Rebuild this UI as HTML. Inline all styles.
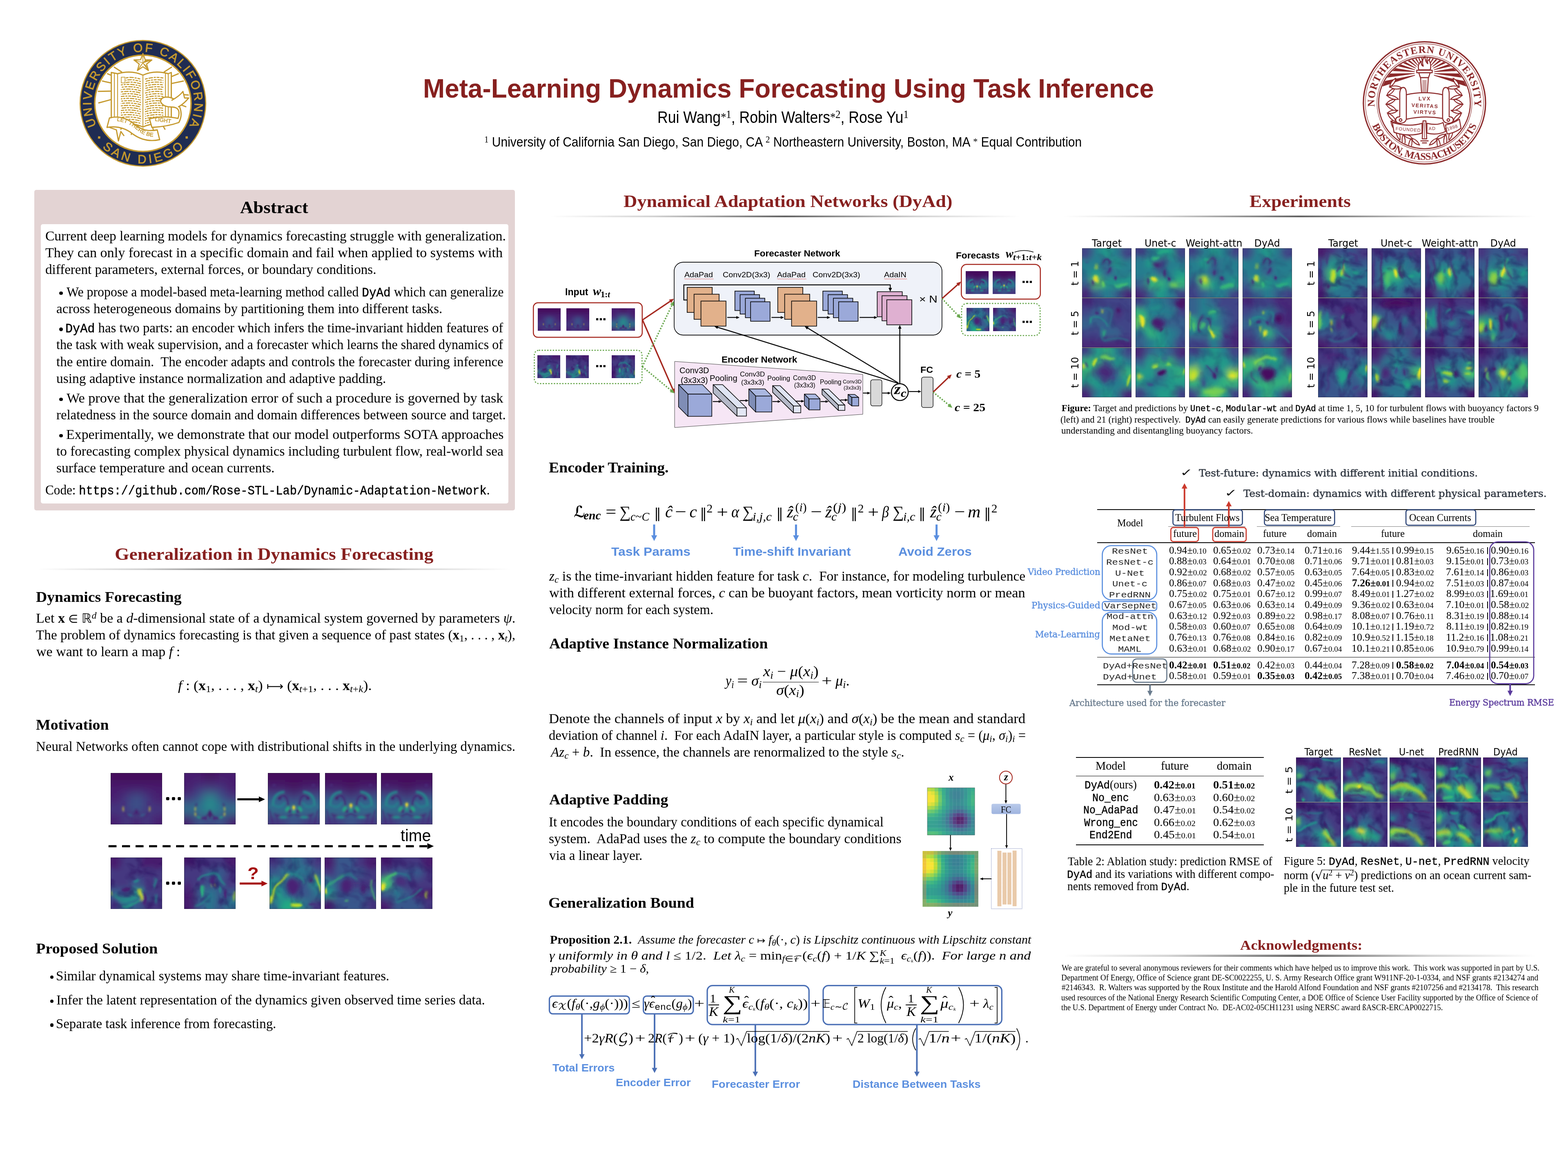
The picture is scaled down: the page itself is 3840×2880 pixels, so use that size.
<!DOCTYPE html>
<html lang="en"><head><meta charset="utf-8"><title>Meta-Learning Dynamics Forecasting Using Task Inference</title>
<style>
html,body{margin:0;padding:0;background:#fff;}
body{width:3840px;height:2880px;position:relative;overflow:hidden;font-family:"Liberation Serif",serif;color:#000;}
.a{position:absolute;}
.t{position:absolute;white-space:nowrap;line-height:1;font-kerning:normal;}
.t>u{display:inline-block;height:100px;width:0;text-decoration:none;}
.r{font-family:"Liberation Serif",serif;}
.b{font-family:"Liberation Serif",serif;font-weight:bold;}
.i{font-family:"Liberation Serif",serif;font-style:italic;}
.bi{font-family:"Liberation Serif",serif;font-style:italic;font-weight:bold;}
.s{font-family:"Liberation Sans",sans-serif;}
.sb{font-family:"Liberation Sans",sans-serif;font-weight:bold;}
.m{font-family:"Liberation Mono",monospace;}
.mb{font-family:"Liberation Mono",monospace;font-weight:bold;}
.d{font-family:"DejaVu Sans",sans-serif;}
.ds{font-family:"DejaVu Serif",serif;}
.dsb{font-family:"DejaVu Serif",serif;font-weight:bold;}
em{font-style:italic;}
.t b{font-weight:bold;}
span.r,sub.r,sup.r{font-style:normal;font-weight:normal;}
.t .cal{font-family:"DejaVu Math TeX Gyre","DejaVu Serif",serif;font-style:normal;}
.t .hat{position:relative;}
.t .hat>span{position:absolute;left:0.12em;top:-0.16em;font-style:normal;font-family:"Liberation Serif",serif;}
.t .lim{display:inline-block;position:relative;width:1.55em;height:0;}
.t .lim>span{position:absolute;left:0.05em;font-size:.7em;line-height:1;}
.t .lim>.lu{bottom:0.3em;}
.t .lim>.ll{top:-0.36em;}
.t tt{font-family:"Liberation Mono",monospace;font-size:0.92em;-webkit-text-stroke:0.5px #000;}
.t sub{font-size:0.7em;vertical-align:baseline;position:relative;top:0.22em;line-height:0;}
.t sup{font-size:0.7em;vertical-align:baseline;position:relative;top:-0.42em;line-height:0;}
.t .dv{font-family:"DejaVu Sans",sans-serif;}
.t .dse{font-family:"DejaVu Serif",serif;}
.t .ss{font-size:0.5em;position:relative;}
svg{position:absolute;overflow:visible;}
svg text{white-space:pre;}
.ms{font-size:0.8em;} .bb{font-size:0.92em;}.ast{position:relative;top:0.22em;font-size:1.05em;}.dsc{font-family:"DejaVu Serif Condensed","DejaVu Serif",serif;}.sm{font-size:0.76em;}.sm2{font-size:0.72em;} .t .tt2{font-family:"Liberation Mono",monospace;font-weight:normal;font-size:0.94em;-webkit-text-stroke:0.45px #000;}svg.im{overflow:hidden;}</style></head>
<body>
<svg style="left:0;top:0" width="1" height="1"><circle cx="350.0" cy="253.0" r="155.2" fill="#c5992d"/><circle cx="350.0" cy="253.0" r="152.4" fill="#1f2c52"/><circle cx="350.0" cy="253.0" r="119.8" fill="#c5992d"/><circle cx="350.0" cy="253.0" r="116.2" fill="#fff"/><path id="uc1" d="M236.09 307.33A126.2 126.2 0 1 1 463.91 307.33" fill="none"/><text font-family="Liberation Sans, sans-serif" font-size="29.6" fill="#c5992d" stroke="#c5992d" stroke-width="0.9"><textPath href="#uc1" textLength="508.8" lengthAdjust="spacing">UNIVERSITY OF CALIFORNIA</textPath></text><path id="uc2" d="M250.55 361.53A147.2 147.2 0 0 0 449.45 361.53" fill="none"/><text font-family="Liberation Sans, sans-serif" font-size="29.6" fill="#c5992d" stroke="#c5992d" stroke-width="0.9"><textPath href="#uc2" textLength="218.4" lengthAdjust="spacing">SAN DIEGO</textPath></text><rect x="240.0" y="333.9" width="5.6" height="5.6" fill="#c5992d" transform="rotate(-83 242.8 336.7)"/><rect x="454.4" y="333.9" width="5.6" height="5.6" fill="#c5992d" transform="rotate(173 457.2 336.7)"/><g fill="none" stroke="#c5992d" stroke-width="2.9" stroke-linejoin="round" stroke-linecap="round"><path d="M295.3 193.9L263.3 180.6"/><path d="M292.0 207.5L251.0 198.5"/><path d="M280.0 223.0L240.8 223.8"/><path d="M274.7 243.2L241.8 252.0"/><path d="M298.0 176.2L279.8 164.5"/><path d="M402.0 176.2L420.2 164.5"/><path d="M404.7 193.9L436.7 180.6"/><path d="M415.7 205.4L449.0 198.5"/><path d="M444.6 231.3L461.2 232.8"/><path d="M442.1 256.5L455.2 261.3"/><path d="M392.5 296.6L404.0 316.5"/><path d="M372.8 308.0L378.5 329.3"/><path d="M350.0 315.0L350.0 335.0"/><path d="M327.2 308.0L321.5 329.3"/><path d="M307.5 296.6L296.0 316.5"/><path d="M272.5 177.5L288 180.5Q322 171 350 184Q378 171 412 180.5L419.5 177.5V303L412 307Q378 298 350 311Q322 298 288 307L272.5 303Z" fill="#fff"/><path d="M350 184V309M288 180.5V305M280 179V304.5M412 180.5V305M405 179.5V303" stroke-width="2"/></g><g stroke="#c5992d" stroke-width="2.5" stroke-dasharray="7 2 11 2 5 2" fill="none"><path d="M308 191.0Q322 187.0 345 194.0" stroke-dashoffset="0"/><path d="M355 194.0Q378 187.0 400 191.0" stroke-dashoffset="0"/><path d="M308 196.7Q322 192.7 345 199.7" stroke-dashoffset="5"/><path d="M355 199.7Q378 192.7 400 196.7" stroke-dashoffset="7"/><path d="M308 202.4Q322 198.4 345 205.4" stroke-dashoffset="10"/><path d="M355 205.4Q378 198.4 400 202.4" stroke-dashoffset="14"/><path d="M296 208.1Q322 204.1 345 211.1" stroke-dashoffset="15"/><path d="M355 211.1Q378 204.1 400 208.1" stroke-dashoffset="21"/><path d="M296 213.8Q322 209.8 345 216.8" stroke-dashoffset="20"/><path d="M355 216.8Q378 209.8 400 213.8" stroke-dashoffset="28"/><path d="M296 219.5Q322 215.5 345 222.5" stroke-dashoffset="25"/><path d="M355 222.5Q378 215.5 400 219.5" stroke-dashoffset="35"/><path d="M296 225.2Q322 221.2 345 228.2" stroke-dashoffset="30"/><path d="M355 228.2Q378 221.2 400 225.2" stroke-dashoffset="42"/><path d="M296 230.9Q322 226.9 345 233.9" stroke-dashoffset="35"/><path d="M355 233.9Q378 226.9 400 230.9" stroke-dashoffset="49"/><path d="M296 236.6Q322 232.6 345 239.6" stroke-dashoffset="40"/><path d="M355 239.6Q378 232.6 400 236.6" stroke-dashoffset="56"/><path d="M296 242.3Q322 238.3 345 245.3" stroke-dashoffset="45"/><path d="M355 245.3Q378 238.3 400 242.3" stroke-dashoffset="63"/><path d="M296 248.0Q322 244.0 345 251.0" stroke-dashoffset="50"/><path d="M355 251.0Q378 244.0 400 248.0" stroke-dashoffset="70"/><path d="M296 253.7Q322 249.7 345 256.7" stroke-dashoffset="55"/><path d="M355 256.7Q378 249.7 400 253.7" stroke-dashoffset="77"/><path d="M296 259.4Q322 255.4 345 262.4" stroke-dashoffset="60"/><path d="M355 262.4Q378 255.4 400 259.4" stroke-dashoffset="84"/><path d="M296 265.1Q322 261.1 345 268.1" stroke-dashoffset="65"/><path d="M355 268.1Q378 261.1 400 265.1" stroke-dashoffset="91"/><path d="M296 270.8Q322 266.8 345 273.8" stroke-dashoffset="70"/><path d="M355 273.8Q378 266.8 400 270.8" stroke-dashoffset="98"/><path d="M296 276.5Q322 272.5 345 279.5" stroke-dashoffset="75"/><path d="M355 279.5Q378 272.5 400 276.5" stroke-dashoffset="105"/><path d="M296 282.2Q322 278.2 345 285.2" stroke-dashoffset="80"/><path d="M355 285.2Q378 278.2 400 282.2" stroke-dashoffset="112"/><path d="M296 287.9Q322 283.9 345 290.9" stroke-dashoffset="85"/><path d="M355 290.9Q378 283.9 400 287.9" stroke-dashoffset="119"/><path d="M296 293.6Q322 289.6 345 296.6" stroke-dashoffset="90"/><path d="M355 296.6Q378 289.6 400 293.6" stroke-dashoffset="126"/><path d="M296 299.3Q322 295.3 345 302.3" stroke-dashoffset="95"/><path d="M355 302.3Q378 295.3 400 299.3" stroke-dashoffset="133"/></g><rect x="297" y="189" width="9" height="14" fill="none" stroke="#c5992d" stroke-width="1.6"/><polygon points="350.0,131.0 355.6,146.3 371.9,146.9 359.0,156.9 363.5,172.6 350.0,163.5 336.5,172.6 341.0,156.9 328.1,146.9 344.4,146.3" fill="#fff" stroke="#c5992d" stroke-width="2.6" stroke-linejoin="round"/><path d="M350 154L350 134M350 154L369 148M350 154L362 171M350 154L338 171M350 154L331 148" stroke="#c5992d" stroke-width="1.8" fill="none"/><path d="M350 154L355 147L369 148ZM350 154L358 160L362 171Z M350 154L344 160 L338 171Z" fill="#c5992d"/><g fill="#fff" stroke="#c5992d" stroke-width="2.9" stroke-linejoin="round"><path d="M268 289Q300 280 330 305Q355 325 385 318L391 342Q355 350 325 328Q298 306 262 312Z"/><path d="M268 312L285 318L290 345L296 322L304 333"/><path d="M366 291Q400 282 436 290Q445 262 420 262Q398 262 393 248Q395 236 412 238Q432 240 440 262Q448 282 438 300Q410 310 372 312Z"/><path d="M420 246Q440 235 448 224L452 240L462 240Q450 255 436 262"/></g><path id="uc3" d="M286 296Q318 300 340 322Q362 338 386 334" fill="none"/><text font-family="Liberation Sans, sans-serif" font-size="13.5" fill="#c5992d" stroke="#c5992d" stroke-width="0.5" letter-spacing="0.3"><textPath href="#uc3">LET THERE BE</textPath></text><text font-family="Liberation Sans, sans-serif" font-size="13.5" fill="#c5992d" stroke="#c5992d" stroke-width="0.5" transform="translate(379 296) rotate(8)">LIGHT</text></svg>
<svg style="left:0;top:0" width="1" height="1"><g fill="none" stroke="#8c2a2b"><circle cx="3488.5" cy="251.9" r="149.6" stroke-width="3.2"/><circle cx="3488.5" cy="251.9" r="144.8" stroke-width="1.1"/><circle cx="3488.5" cy="251.9" r="116.4" stroke-width="1.1"/><circle cx="3488.5" cy="251.9" r="112.3" stroke-width="2.6" fill="#fff"/></g><path id="ne1" d="M3366.48 261.50A122.4 122.4 0 1 1 3610.52 261.50" fill="none"/><text font-family="Liberation Serif, serif" font-weight="bold" font-size="25" fill="#8c2a2b"><textPath href="#ne1" textLength="403.8" lengthAdjust="spacing">NORTHEASTERN UNIVERSITY</textPath></text><path id="ne2" d="M3360.48 307.57A139.6 139.6 0 0 0 3616.52 307.57" fill="none"/><text font-family="Liberation Serif, serif" font-weight="bold" font-size="25" fill="#8c2a2b"><textPath href="#ne2" textLength="324.1" lengthAdjust="spacing">BOSTON, MASSACHUSETTS</textPath></text><clipPath id="nec"><circle cx="3488.5" cy="251.9" r="110.6"/></clipPath><g clip-path="url(#nec)"><path d="M3465.5 184.9L3360.3 220.4L3356.3 205.4L3465.2 183.6Z" fill="#8c2a2b"/><path d="M3464.6 180.6L3354.7 196.3L3353.5 180.8L3464.5 179.2Z" fill="#8c2a2b"/><path d="M3464.6 176.2L3353.6 171.6L3355.3 156.2L3464.7 174.8Z" fill="#8c2a2b"/><path d="M3465.3 171.8L3357.1 147.2L3361.5 132.3L3465.7 170.5Z" fill="#8c2a2b"/><path d="M3466.8 167.7L3364.9 123.7L3371.9 109.9L3467.4 166.5Z" fill="#8c2a2b"/><path d="M3469.1 163.9L3376.8 102.1L3386.3 89.8L3469.9 162.9Z" fill="#8c2a2b"/><path d="M3471.9 160.6L3392.5 83.0L3404.1 72.6L3472.9 159.7Z" fill="#8c2a2b"/><path d="M3475.4 157.9L3411.5 67.1L3424.7 59.0L3476.5 157.2Z" fill="#8c2a2b"/><path d="M3479.3 155.8L3432.9 55.0L3447.5 49.4L3480.5 155.4Z" fill="#8c2a2b"/><path d="M3483.5 154.5L3456.3 46.9L3471.6 44.1L3484.8 154.3Z" fill="#8c2a2b"/><path d="M3492.2 154.3L3505.4 44.1L3520.7 46.9L3493.5 154.5Z" fill="#8c2a2b"/><path d="M3496.5 155.4L3529.5 49.4L3544.1 55.0L3497.7 155.8Z" fill="#8c2a2b"/><path d="M3500.5 157.2L3552.3 59.0L3565.5 67.1L3501.6 157.9Z" fill="#8c2a2b"/><path d="M3504.1 159.7L3572.9 72.6L3584.5 83.0L3505.1 160.6Z" fill="#8c2a2b"/><path d="M3507.1 162.9L3590.7 89.8L3600.2 102.1L3507.9 163.9Z" fill="#8c2a2b"/><path d="M3509.6 166.5L3605.1 109.9L3612.1 123.7L3510.2 167.7Z" fill="#8c2a2b"/><path d="M3511.3 170.5L3615.5 132.3L3619.9 147.2L3511.7 171.8Z" fill="#8c2a2b"/><path d="M3512.3 174.8L3621.7 156.2L3623.4 171.6L3512.4 176.2Z" fill="#8c2a2b"/><path d="M3512.5 179.2L3623.5 180.8L3622.3 196.3L3512.4 180.6Z" fill="#8c2a2b"/><path d="M3511.8 183.6L3620.7 205.4L3616.7 220.4L3511.5 184.9Z" fill="#8c2a2b"/><path d="M0 0Q15.0 -7.5 30 0Q15.0 7.5 0 0Z" transform="translate(3456.4 338.5) rotate(100.0)" fill="#fff" stroke="#8c2a2b" stroke-width="2.2"/><path d="M0 0Q13.0 -7 26 0Q13.0 7 0 0Z" transform="translate(3456.4 338.5) rotate(40.0)" fill="#fff" stroke="#8c2a2b" stroke-width="2.2"/><path d="M0 0Q15.0 -7.5 30 0Q15.0 7.5 0 0Z" transform="translate(3436.5 328.7) rotate(86.42857142857142)" fill="#fff" stroke="#8c2a2b" stroke-width="2.2"/><path d="M0 0Q13.0 -7 26 0Q13.0 7 0 0Z" transform="translate(3436.5 328.7) rotate(26.428571428571416)" fill="#fff" stroke="#8c2a2b" stroke-width="2.2"/><path d="M0 0Q15.0 -7.5 30 0Q15.0 7.5 0 0Z" transform="translate(3419.6 314.6) rotate(72.85714285714286)" fill="#fff" stroke="#8c2a2b" stroke-width="2.2"/><path d="M0 0Q13.0 -7 26 0Q13.0 7 0 0Z" transform="translate(3419.6 314.6) rotate(12.857142857142861)" fill="#fff" stroke="#8c2a2b" stroke-width="2.2"/><path d="M0 0Q15.0 -7.5 30 0Q15.0 7.5 0 0Z" transform="translate(3406.5 297.0) rotate(59.28571428571428)" fill="#fff" stroke="#8c2a2b" stroke-width="2.2"/><path d="M0 0Q13.0 -7 26 0Q13.0 7 0 0Z" transform="translate(3406.5 297.0) rotate(-0.7142857142857224)" fill="#fff" stroke="#8c2a2b" stroke-width="2.2"/><path d="M0 0Q15.0 -7.5 30 0Q15.0 7.5 0 0Z" transform="translate(3398.0 276.8) rotate(45.71428571428572)" fill="#fff" stroke="#8c2a2b" stroke-width="2.2"/><path d="M0 0Q13.0 -7 26 0Q13.0 7 0 0Z" transform="translate(3398.0 276.8) rotate(-14.285714285714278)" fill="#fff" stroke="#8c2a2b" stroke-width="2.2"/><path d="M0 0Q15.0 -7.5 30 0Q15.0 7.5 0 0Z" transform="translate(3394.6 255.3) rotate(32.14285714285714)" fill="#fff" stroke="#8c2a2b" stroke-width="2.2"/><path d="M0 0Q13.0 -7 26 0Q13.0 7 0 0Z" transform="translate(3394.6 255.3) rotate(-27.85714285714286)" fill="#fff" stroke="#8c2a2b" stroke-width="2.2"/><path d="M0 0Q15.0 -7.5 30 0Q15.0 7.5 0 0Z" transform="translate(3396.4 233.6) rotate(18.571428571428555)" fill="#fff" stroke="#8c2a2b" stroke-width="2.2"/><path d="M0 0Q13.0 -7 26 0Q13.0 7 0 0Z" transform="translate(3396.4 233.6) rotate(-41.428571428571445)" fill="#fff" stroke="#8c2a2b" stroke-width="2.2"/><path d="M0 0Q15.0 -7.5 30 0Q15.0 7.5 0 0Z" transform="translate(3403.3 213.0) rotate(5.0)" fill="#fff" stroke="#8c2a2b" stroke-width="2.2"/><path d="M0 0Q13.0 -7 26 0Q13.0 7 0 0Z" transform="translate(3403.3 213.0) rotate(-55.0)" fill="#fff" stroke="#8c2a2b" stroke-width="2.2"/><path d="M0 0Q15.0 -7.5 30 0Q15.0 7.5 0 0Z" transform="translate(3520.6 338.5) rotate(80.0)" fill="#fff" stroke="#8c2a2b" stroke-width="2.2"/><path d="M0 0Q13.0 -7 26 0Q13.0 7 0 0Z" transform="translate(3520.6 338.5) rotate(140.0)" fill="#fff" stroke="#8c2a2b" stroke-width="2.2"/><path d="M0 0Q15.0 -7.5 30 0Q15.0 7.5 0 0Z" transform="translate(3540.5 328.7) rotate(93.57142857142856)" fill="#fff" stroke="#8c2a2b" stroke-width="2.2"/><path d="M0 0Q13.0 -7 26 0Q13.0 7 0 0Z" transform="translate(3540.5 328.7) rotate(153.57142857142856)" fill="#fff" stroke="#8c2a2b" stroke-width="2.2"/><path d="M0 0Q15.0 -7.5 30 0Q15.0 7.5 0 0Z" transform="translate(3557.4 314.6) rotate(107.14285714285711)" fill="#fff" stroke="#8c2a2b" stroke-width="2.2"/><path d="M0 0Q13.0 -7 26 0Q13.0 7 0 0Z" transform="translate(3557.4 314.6) rotate(167.1428571428571)" fill="#fff" stroke="#8c2a2b" stroke-width="2.2"/><path d="M0 0Q15.0 -7.5 30 0Q15.0 7.5 0 0Z" transform="translate(3570.5 297.0) rotate(120.71428571428572)" fill="#fff" stroke="#8c2a2b" stroke-width="2.2"/><path d="M0 0Q13.0 -7 26 0Q13.0 7 0 0Z" transform="translate(3570.5 297.0) rotate(180.71428571428572)" fill="#fff" stroke="#8c2a2b" stroke-width="2.2"/><path d="M0 0Q15.0 -7.5 30 0Q15.0 7.5 0 0Z" transform="translate(3579.0 276.8) rotate(134.28571428571428)" fill="#fff" stroke="#8c2a2b" stroke-width="2.2"/><path d="M0 0Q13.0 -7 26 0Q13.0 7 0 0Z" transform="translate(3579.0 276.8) rotate(194.28571428571428)" fill="#fff" stroke="#8c2a2b" stroke-width="2.2"/><path d="M0 0Q15.0 -7.5 30 0Q15.0 7.5 0 0Z" transform="translate(3582.4 255.3) rotate(147.8571428571429)" fill="#fff" stroke="#8c2a2b" stroke-width="2.2"/><path d="M0 0Q13.0 -7 26 0Q13.0 7 0 0Z" transform="translate(3582.4 255.3) rotate(207.8571428571429)" fill="#fff" stroke="#8c2a2b" stroke-width="2.2"/><path d="M0 0Q15.0 -7.5 30 0Q15.0 7.5 0 0Z" transform="translate(3580.6 233.6) rotate(161.42857142857144)" fill="#fff" stroke="#8c2a2b" stroke-width="2.2"/><path d="M0 0Q13.0 -7 26 0Q13.0 7 0 0Z" transform="translate(3580.6 233.6) rotate(221.42857142857144)" fill="#fff" stroke="#8c2a2b" stroke-width="2.2"/><path d="M0 0Q15.0 -7.5 30 0Q15.0 7.5 0 0Z" transform="translate(3573.7 213.0) rotate(175.0)" fill="#fff" stroke="#8c2a2b" stroke-width="2.2"/><path d="M0 0Q13.0 -7 26 0Q13.0 7 0 0Z" transform="translate(3573.7 213.0) rotate(235.0)" fill="#fff" stroke="#8c2a2b" stroke-width="2.2"/></g><g fill="#fff" stroke="#8c2a2b" stroke-width="2.4" stroke-linejoin="round"><path d="M3481.5 228L3479.0 190H3498.0L3495.5 228Z"/><path d="M3485.0 296L3483.0 340H3494.0L3492.0 296Z"/><path d="M3474.5 178H3502.5L3498.5 190H3478.5Z"/><path d="M3469.5 172H3507.5V178H3469.5Z"/><path d="M3474.5 171Q3470.5 158 3480.5 150Q3479.5 160 3485.5 162Q3480.5 148 3489.5 138Q3490.5 152 3496.5 156Q3494.5 148 3499.5 146Q3506.5 160 3502.5 171Z"/><path d="M3478.5 345H3498.5M3482.5 350H3494.5" /></g><path d="M3485.0 196V226M3488.5 196V226M3492.0 196V226M3488.5 300V338" stroke="#8c2a2b" stroke-width="1.4" fill="none"/><g fill="#fff" stroke="#8c2a2b" stroke-width="2.4" stroke-linejoin="round"><path d="M3410 300Q3450 312 3482.5 302V326Q3450 336 3414 324Z"/><path d="M3494.5 302Q3520 308 3534 300L3540 322Q3520 332 3494.5 326Z"/><path d="M3540 306Q3560 302 3574 292L3578 314Q3562 326 3544 328Z"/><path d="M3444 232Q3488 222 3533 232V290Q3488 282 3444 292Z"/><path d="M3444 292V226Q3443 214 3436 214Q3429 215 3428 228V286Q3418 286 3418 294Q3419 302 3430 302Q3442 301 3444 292Z"/><path d="M3533 290V226Q3534 214 3541 214Q3548 215 3549 228V286Q3559 286 3559 294Q3558 302 3547 302Q3535 301 3533 290Z"/><circle cx="3430" cy="294" r="3.2"/><circle cx="3547" cy="294" r="3.2"/></g><text x="3489.5" y="245.8" font-family="Liberation Sans, sans-serif" font-weight="bold" font-size="12.6" letter-spacing="2.4" text-anchor="middle" fill="#8c2a2b">LVX</text><text x="3489.5" y="263.4" font-family="Liberation Sans, sans-serif" font-weight="bold" font-size="12.6" letter-spacing="1.8" text-anchor="middle" fill="#8c2a2b" transform="rotate(3 3489.5 263.4)">VERITAS</text><text x="3489.5" y="279.2" font-family="Liberation Sans, sans-serif" font-weight="bold" font-size="12.6" letter-spacing="1.8" text-anchor="middle" fill="#8c2a2b" transform="rotate(2 3489.5 279.2)">VIRTVS</text><text x="3448.5" y="321" font-family="Liberation Sans, sans-serif" font-weight="normal" font-size="11.2" letter-spacing="1.0" text-anchor="middle" fill="#8c2a2b" transform="rotate(4 3448.5 321)">FOUNDED</text><text x="3507.5" y="318.5" font-family="Liberation Sans, sans-serif" font-weight="normal" font-size="11.2" letter-spacing="1.0" text-anchor="middle" fill="#8c2a2b" transform="rotate(-2 3507.5 318.5)">AD</text><text x="3558" y="316" font-family="Liberation Sans, sans-serif" font-weight="normal" font-size="11.2" letter-spacing="0.6" text-anchor="middle" fill="#8c2a2b" transform="rotate(-18 3558 316)">1898</text></svg>
<div class="a" style="left:83.8px;top:465.4px;width:1177.4px;height:785px;background:#e3d3d3;border-radius:5px;"></div>
<div class="a" style="left:99.5px;top:549px;width:1145px;height:683.5px;background:#fff;border-radius:5px;"></div>
<div class="a" style="left:145.20000000000002px;top:713.9999999999999px;width:8.4px;height:8.4px;border-radius:50%;background:#000;"></div>
<div class="a" style="left:145.20000000000002px;top:802.4px;width:8.4px;height:8.4px;border-radius:50%;background:#000;"></div>
<div class="a" style="left:145.20000000000002px;top:974.0999999999999px;width:8.4px;height:8.4px;border-radius:50%;background:#000;"></div>
<div class="a" style="left:145.20000000000002px;top:1062.9px;width:8.4px;height:8.4px;border-radius:50%;background:#000;"></div>
<div class="a" style="left:93px;top:1391.1px;width:1157px;height:5.4px;background:linear-gradient(90deg,#fff 0%,rgba(255,255,255,.72) 22%,rgba(255,255,255,0) 50%,rgba(255,255,255,.72) 78%,#fff 100%),linear-gradient(180deg,#d8d8d8 0%,#8a8a8a 35%,#3c3c3c 75%,#777 100%);"></div>
<div class="a" style="left:122.8px;top:2388.8px;width:8.4px;height:8.4px;border-radius:50%;background:#000;"></div>
<div class="a" style="left:122.8px;top:2447.9px;width:8.4px;height:8.4px;border-radius:50%;background:#000;"></div>
<div class="a" style="left:122.8px;top:2506.4px;width:8.4px;height:8.4px;border-radius:50%;background:#000;"></div>
<div class="a" style="left:1349px;top:527.0999999999999px;width:1148px;height:5.4px;background:linear-gradient(90deg,#fff 0%,rgba(255,255,255,.72) 22%,rgba(255,255,255,0) 50%,rgba(255,255,255,.72) 78%,#fff 100%),linear-gradient(180deg,#d8d8d8 0%,#8a8a8a 35%,#3c3c3c 75%,#777 100%);"></div>
<svg style="left:0;top:0" width="1" height="1"><path d="M1602 1284.5 V1312" stroke="#5b8fdf" stroke-width="5" fill="none"/><path d="M1594.75 1311 H1609.25 L1602 1325 Z" fill="#5b8fdf"/></svg>
<svg style="left:0;top:0" width="1" height="1"><path d="M1949.4 1284.5 V1312" stroke="#5b8fdf" stroke-width="5" fill="none"/><path d="M1942.15 1311 H1956.65 L1949.4 1325 Z" fill="#5b8fdf"/></svg>
<svg style="left:0;top:0" width="1" height="1"><path d="M2293.6 1284.5 V1312" stroke="#5b8fdf" stroke-width="5" fill="none"/><path d="M2286.35 1311 H2300.85 L2293.6 1325 Z" fill="#5b8fdf"/></svg>
<div class="a" style="left:1868px;top:1669.5px;width:136.6px;height:1.6px;background:#000;"></div>
<div class="a" style="left:2605px;top:527.0999999999999px;width:1155px;height:5.4px;background:linear-gradient(90deg,#fff 0%,rgba(255,255,255,.72) 22%,rgba(255,255,255,0) 50%,rgba(255,255,255,.72) 78%,#fff 100%),linear-gradient(180deg,#d8d8d8 0%,#8a8a8a 35%,#3c3c3c 75%,#777 100%);"></div>
<div class="a d" style="left:2532.5px;top:648.9px;width:200px;height:40px;line-height:40px;text-align:center;font-size:24.2px;transform:rotate(-90deg) scaleY(1);white-space:nowrap;">t = 1</div>
<div class="a d" style="left:2532.5px;top:770.5px;width:200px;height:40px;line-height:40px;text-align:center;font-size:24.2px;transform:rotate(-90deg) scaleY(1);white-space:nowrap;">t = 5</div>
<div class="a d" style="left:2532.5px;top:892.3px;width:200px;height:40px;line-height:40px;text-align:center;font-size:24.2px;transform:rotate(-90deg) scaleY(1);white-space:nowrap;">t = 10</div>
<div class="a d" style="left:3111px;top:648.9px;width:200px;height:40px;line-height:40px;text-align:center;font-size:24.2px;transform:rotate(-90deg) scaleY(1);white-space:nowrap;">t = 1</div>
<div class="a d" style="left:3111px;top:770.5px;width:200px;height:40px;line-height:40px;text-align:center;font-size:24.2px;transform:rotate(-90deg) scaleY(1);white-space:nowrap;">t = 5</div>
<div class="a d" style="left:3111px;top:892.3px;width:200px;height:40px;line-height:40px;text-align:center;font-size:24.2px;transform:rotate(-90deg) scaleY(1);white-space:nowrap;">t = 10</div>
<div class="a" style="left:2686.6px;top:1247.4px;width:1072.6px;height:2px;background:#000;"></div>
<div class="a" style="left:2686.6px;top:1328.4499999999998px;width:1072.6px;height:1.3px;background:#000;"></div>
<div class="a" style="left:2686.6px;top:1608.7px;width:1072.6px;height:1.2px;background:#000;"></div>
<div class="a" style="left:2686.6px;top:1676.0px;width:1072.6px;height:2px;background:#000;"></div>
<div class="a" style="left:2861px;top:1288.5px;width:188.80000000000018px;height:1px;background:#777;"></div>
<div class="a" style="left:3077.6px;top:1288.5px;width:204.4000000000001px;height:1px;background:#777;"></div>
<div class="a" style="left:3308.9px;top:1288.5px;width:437.0999999999999px;height:1px;background:#777;"></div>
<svg style="left:0;top:0" width="1" height="1"><rect x="2872.55" y="1248.55" width="170.10" height="37.80" rx="6" ry="6" fill="none" stroke="#31497a" stroke-width="2.7"/></svg>
<svg style="left:0;top:0" width="1" height="1"><rect x="3096.55" y="1248.55" width="171.80" height="37.80" rx="6" ry="6" fill="none" stroke="#31497a" stroke-width="2.7"/></svg>
<svg style="left:0;top:0" width="1" height="1"><rect x="3443.15" y="1248.55" width="170.90" height="37.80" rx="6" ry="6" fill="none" stroke="#31497a" stroke-width="2.7"/></svg>
<svg style="left:0;top:0" width="1" height="1"><path d="M2900.8 1290 V1195.5" stroke="#cc3a2d" stroke-width="4" fill="none"/><path d="M2893.8 1196.5 H2907.8 L2900.8 1183.5 Z" fill="#cc3a2d"/></svg>
<svg style="left:0;top:0" width="1" height="1"><path d="M3009.3 1290 V1239" stroke="#cc3a2d" stroke-width="4" fill="none"/><path d="M3002.3 1240 H3016.3 L3009.3 1227 Z" fill="#cc3a2d"/></svg>
<svg style="left:0;top:0" width="1" height="1"><rect x="2867.35" y="1291.95" width="67.60" height="34.30" rx="6" ry="6" fill="none" stroke="#cc3a2d" stroke-width="2.7"/></svg>
<svg style="left:0;top:0" width="1" height="1"><rect x="2970.05" y="1291.95" width="81.80" height="34.30" rx="6" ry="6" fill="none" stroke="#cc3a2d" stroke-width="2.7"/></svg>
<div class="a" style="left:3410.2px;top:1340.2px;width:1.6px;height:17px;background:#000;"></div>
<div class="a" style="left:3642.2px;top:1340.2px;width:1.6px;height:17px;background:#000;"></div>
<div class="a" style="left:3410.2px;top:1366.8500000000001px;width:1.6px;height:17px;background:#000;"></div>
<div class="a" style="left:3642.2px;top:1366.8500000000001px;width:1.6px;height:17px;background:#000;"></div>
<div class="a" style="left:3410.2px;top:1393.5px;width:1.6px;height:17px;background:#000;"></div>
<div class="a" style="left:3642.2px;top:1393.5px;width:1.6px;height:17px;background:#000;"></div>
<div class="a" style="left:3410.2px;top:1420.15px;width:1.6px;height:17px;background:#000;"></div>
<div class="a" style="left:3642.2px;top:1420.15px;width:1.6px;height:17px;background:#000;"></div>
<div class="a" style="left:3410.2px;top:1446.8px;width:1.6px;height:17px;background:#000;"></div>
<div class="a" style="left:3642.2px;top:1446.8px;width:1.6px;height:17px;background:#000;"></div>
<div class="a" style="left:3410.2px;top:1473.45px;width:1.6px;height:17px;background:#000;"></div>
<div class="a" style="left:3642.2px;top:1473.45px;width:1.6px;height:17px;background:#000;"></div>
<div class="a" style="left:3410.2px;top:1500.1px;width:1.6px;height:17px;background:#000;"></div>
<div class="a" style="left:3642.2px;top:1500.1px;width:1.6px;height:17px;background:#000;"></div>
<div class="a" style="left:3410.2px;top:1526.75px;width:1.6px;height:17px;background:#000;"></div>
<div class="a" style="left:3642.2px;top:1526.75px;width:1.6px;height:17px;background:#000;"></div>
<div class="a" style="left:3410.2px;top:1553.4px;width:1.6px;height:17px;background:#000;"></div>
<div class="a" style="left:3642.2px;top:1553.4px;width:1.6px;height:17px;background:#000;"></div>
<div class="a" style="left:3410.2px;top:1580.05px;width:1.6px;height:17px;background:#000;"></div>
<div class="a" style="left:3642.2px;top:1580.05px;width:1.6px;height:17px;background:#000;"></div>
<div class="a" style="left:3410.2px;top:1621.3px;width:1.6px;height:17px;background:#000;"></div>
<div class="a" style="left:3642.2px;top:1621.3px;width:1.6px;height:17px;background:#000;"></div>
<div class="a" style="left:3410.2px;top:1647.9px;width:1.6px;height:17px;background:#000;"></div>
<div class="a" style="left:3642.2px;top:1647.9px;width:1.6px;height:17px;background:#000;"></div>
<svg style="left:0;top:0" width="1" height="1"><rect x="2699.55" y="1336.25" width="133.30" height="132.80" rx="22" ry="22" fill="none" stroke="#5b8fdf" stroke-width="2.7"/></svg>
<svg style="left:0;top:0" width="1" height="1"><rect x="2699.55" y="1473.15" width="133.30" height="21.90" rx="6" ry="6" fill="none" stroke="#5b8fdf" stroke-width="2.7"/></svg>
<svg style="left:0;top:0" width="1" height="1"><rect x="2699.55" y="1499.25" width="133.30" height="102.30" rx="22" ry="22" fill="none" stroke="#5b8fdf" stroke-width="2.7"/></svg>
<svg style="left:0;top:0" width="1" height="1"><rect x="2773.95" y="1613.55" width="83.50" height="57.40" rx="10" ry="10" fill="none" stroke="#6a7c8e" stroke-width="2.7"/></svg>
<svg style="left:0;top:0" width="1" height="1"><rect x="3648.35" y="1327.15" width="107.70" height="347.30" rx="20" ry="20" fill="none" stroke="#5a3a9c" stroke-width="2.7"/></svg>
<svg style="left:0;top:0" width="1" height="1"><path d="M2816.3 1677 V1692.8" stroke="#6a7c8e" stroke-width="4" fill="none"/><path d="M2809.8 1691.8 H2822.8 L2816.3 1704.8 Z" fill="#6a7c8e"/></svg>
<svg style="left:0;top:0" width="1" height="1"><path d="M3698.3 1676 V1692.6" stroke="#5a3a9c" stroke-width="4" fill="none"/><path d="M3691.8 1691.6 H3704.8 L3698.3 1704.6 Z" fill="#5a3a9c"/></svg>
<div class="a" style="left:2635.4px;top:1853.6px;width:459.5999999999999px;height:2px;background:#000;"></div>
<div class="a" style="left:2635.4px;top:1899.75px;width:459.5999999999999px;height:1.3px;background:#000;"></div>
<div class="a" style="left:2635.4px;top:2067.5px;width:459.5999999999999px;height:2px;background:#000;"></div>
<div class="a d" style="left:3057px;top:1889.5px;width:200px;height:40px;line-height:40px;text-align:center;font-size:27px;transform:rotate(-90deg) scaleY(0.86);white-space:nowrap;">t = 5</div>
<div class="a d" style="left:3057px;top:1999.5px;width:200px;height:40px;line-height:40px;text-align:center;font-size:27px;transform:rotate(-90deg) scaleY(0.86);white-space:nowrap;">t = 10</div>
<div class="a" style="left:2605px;top:2337.4000000000005px;width:1155px;height:5.4px;background:linear-gradient(90deg,#fff 0%,rgba(255,255,255,.72) 22%,rgba(255,255,255,0) 50%,rgba(255,255,255,.72) 78%,#fff 100%),linear-gradient(180deg,#d8d8d8 0%,#8a8a8a 35%,#3c3c3c 75%,#777 100%);"></div>
<svg style="left:0;top:0" width="0" height="0"><defs>
<filter id="fb" filterUnits="userSpaceOnUse" x="-30" y="-30" width="160" height="160"><feGaussianBlur stdDeviation="8"/></filter>
<filter id="fm" filterUnits="userSpaceOnUse" x="-30" y="-30" width="160" height="160"><feGaussianBlur stdDeviation="4"/></filter>
<filter id="fs" filterUnits="userSpaceOnUse" x="-30" y="-30" width="160" height="160"><feGaussianBlur stdDeviation="2"/></filter>
<filter id="w1" filterUnits="userSpaceOnUse" x="-10" y="-10" width="120" height="120"><feTurbulence type="fractalNoise" baseFrequency="0.035" numOctaves="3" seed="4" result="n"/><feDisplacementMap in="SourceGraphic" in2="n" scale="26" xChannelSelector="R" yChannelSelector="G"/></filter>
<filter id="w2" filterUnits="userSpaceOnUse" x="-10" y="-10" width="120" height="120"><feTurbulence type="fractalNoise" baseFrequency="0.03" numOctaves="3" seed="11" result="n"/><feDisplacementMap in="SourceGraphic" in2="n" scale="26" xChannelSelector="R" yChannelSelector="G"/></filter>
<filter id="w3" filterUnits="userSpaceOnUse" x="-10" y="-10" width="120" height="120"><feTurbulence type="fractalNoise" baseFrequency="0.04" numOctaves="3" seed="23" result="n"/><feDisplacementMap in="SourceGraphic" in2="n" scale="26" xChannelSelector="R" yChannelSelector="G"/></filter>
</defs></svg>
<svg style="left:0;top:0" width="0" height="0"><defs>
<filter id="fg" x="0" y="0" width="100%" height="100%" filterUnits="objectBoundingBox"><feGaussianBlur stdDeviation="9"/></filter>
<filter id="v1" filterUnits="userSpaceOnUse" x="-10" y="-10" width="120" height="120"><feTurbulence type="fractalNoise" baseFrequency="0.03" numOctaves="2" seed="4" result="n"/><feDisplacementMap in="SourceGraphic" in2="n" scale="12" xChannelSelector="R" yChannelSelector="G"/></filter>
<filter id="v2" filterUnits="userSpaceOnUse" x="-10" y="-10" width="120" height="120"><feTurbulence type="fractalNoise" baseFrequency="0.035" numOctaves="2" seed="17" result="n"/><feDisplacementMap in="SourceGraphic" in2="n" scale="12" xChannelSelector="R" yChannelSelector="G"/></filter>
<filter id="v3" filterUnits="userSpaceOnUse" x="-10" y="-10" width="120" height="120"><feTurbulence type="fractalNoise" baseFrequency="0.028" numOctaves="2" seed="29" result="n"/><feDisplacementMap in="SourceGraphic" in2="n" scale="12" xChannelSelector="R" yChannelSelector="G"/></filter>
</defs></svg>
<svg style="left:0;top:0" width="0" height="0"><defs><filter id="fgb" filterUnits="userSpaceOnUse" x="-10" y="-10" width="120" height="120"><feGaussianBlur stdDeviation="6.5"/></filter><filter id="fgc" filterUnits="userSpaceOnUse" x="-10" y="-10" width="120" height="120"><feGaussianBlur stdDeviation="10"/></filter></defs></svg>
<svg style="left:0;top:0" width="0" height="0"><defs>
<filter id="tx1" filterUnits="userSpaceOnUse" x="0" y="0" width="100" height="100" color-interpolation-filters="sRGB"><feTurbulence type="fractalNoise" baseFrequency="0.045 0.03" numOctaves="3" seed="7"/><feColorMatrix type="matrix" values="0 0 0 0 0.16  0 0 0 0 0.05  0 0 0 0 0.36  3.4 0 0 0 -1.55"/><feGaussianBlur stdDeviation="0.8"/></filter>
<filter id="tx2" filterUnits="userSpaceOnUse" x="0" y="0" width="100" height="100" color-interpolation-filters="sRGB"><feTurbulence type="fractalNoise" baseFrequency="0.03 0.05" numOctaves="3" seed="31"/><feColorMatrix type="matrix" values="0 0 0 0 0.16  0 0 0 0 0.05  0 0 0 0 0.36  3.4 0 0 0 -1.55"/><feGaussianBlur stdDeviation="0.8"/></filter>
<filter id="tx3" filterUnits="userSpaceOnUse" x="0" y="0" width="100" height="100" color-interpolation-filters="sRGB"><feTurbulence type="fractalNoise" baseFrequency="0.04 0.04" numOctaves="3" seed="53"/><feColorMatrix type="matrix" values="0 0 0 0 0.16  0 0 0 0 0.05  0 0 0 0 0.36  3.4 0 0 0 -1.55"/><feGaussianBlur stdDeviation="0.8"/></filter>
</defs></svg>
<div class="a" style="left:2650.1px;top:608.2px;width:121px;height:364.6px;background:#b9b9a8;"></div>
<div class="a" style="left:2781.3px;top:608.2px;width:121px;height:364.6px;background:#b9b9a8;"></div>
<div class="a" style="left:2911.9px;top:608.2px;width:121px;height:364.6px;background:#b9b9a8;"></div>
<div class="a" style="left:3043.0px;top:608.2px;width:121px;height:364.6px;background:#b9b9a8;"></div>
<svg class="im" style="left:2650.1px;top:608.2px;background:#34628d" width="121.0" height="120.8" viewBox="0 0 100 100" preserveAspectRatio="none"><g filter="url(#v2)"><g filter="url(#fgb)"><path fill="#414487" d="M-30 -30H0.4V0.4H-30zM0 -30H20.4V0.4H0zM80 -30H100.4V0.4H80zM100 -30H130V0.4H100zM-30 0H0.4V20.4H-30zM0 0H20.4V20.4H0zM80 0H100.4V20.4H80zM100 0H130V20.4H100z"/><path fill="#287d8e" d="M20 -30H40.4V0.4H20zM60 -30H80.4V0.4H60zM20 0H40.4V20.4H20zM60 0H80.4V20.4H60zM-30 20H0.4V40.4H-30zM0 20H20.4V40.4H0zM20 20H40.4V40.4H20zM80 20H100.4V40.4H80zM100 20H130V40.4H100zM-30 40H0.4V60.4H-30zM0 40H20.4V60.4H0zM60 40H80.4V60.4H60zM80 40H100.4V60.4H80zM100 40H130V60.4H100zM40 80H60.4V100.4H40zM40 100H60.4V130H40z"/><path fill="#219a89" d="M40 -30H60.4V0.4H40zM40 0H60.4V20.4H40zM60 20H80.4V40.4H60zM20 40H40.4V60.4H20zM40 60H60.4V80.4H40zM60 60H80.4V80.4H60zM80 60H100.4V80.4H80zM100 60H130V80.4H100z"/><path fill="#34628d" d="M40 20H60.4V40.4H40zM40 40H60.4V60.4H40zM-30 60H0.4V80.4H-30zM0 60H20.4V80.4H0zM20 80H40.4V100.4H20zM60 80H80.4V100.4H60zM20 100H40.4V130H20zM60 100H80.4V130H60z"/><path fill="#5ac664" d="M20 60H40.4V80.4H20z"/><path fill="#472a79" d="M-30 80H0.4V100.4H-30zM0 80H20.4V100.4H0zM80 80H100.4V100.4H80zM100 80H130V100.4H100zM-30 100H0.4V130H-30zM0 100H20.4V130H0zM80 100H100.4V130H80zM100 100H130V130H100z"/></g><rect width="100" height="100" filter="url(#tx2)" opacity="0.18"/><g filter="url(#fs)"><path d="M40 28A8 8 0 1 1 56 32" fill="none" stroke="#471d6e" stroke-width="3" stroke-linecap="round"/><ellipse cx="56" cy="44" rx="2.5" ry="7" fill="#482475" transform="rotate(25 56 44)"/><ellipse cx="66" cy="60" rx="3.5" ry="5" fill="#472a79"/><ellipse cx="29" cy="36" rx="1.5" ry="5" fill="#cae126"/><ellipse cx="28" cy="62" rx="3.5" ry="8" fill="#eae525" transform="rotate(-10 28 62)"/><ellipse cx="23" cy="70" rx="2" ry="7" fill="#482475" transform="rotate(15 23 70)"/><ellipse cx="42" cy="73" rx="4" ry="6" fill="#5fc860"/><ellipse cx="78" cy="73" rx="15" ry="3.5" fill="#3dba74" transform="rotate(-10 78 73)"/><ellipse cx="10" cy="28" rx="3" ry="2" fill="#3b528a"/></g></g><rect x="0.3" y="0.3" width="99.4" height="99.4" fill="none" stroke="#1a1a2a" stroke-width="0.6" opacity="0.7"/></svg>
<svg class="im" style="left:2781.3px;top:608.2px;background:#34628d" width="121.0" height="120.8" viewBox="0 0 100 100" preserveAspectRatio="none"><g filter="url(#v3)"><g filter="url(#fgb)"><path fill="#414487" d="M-30 -30H0.4V0.4H-30zM0 -30H20.4V0.4H0zM80 -30H100.4V0.4H80zM100 -30H130V0.4H100zM-30 0H0.4V20.4H-30zM0 0H20.4V20.4H0zM80 0H100.4V20.4H80zM100 0H130V20.4H100zM40 20H60.4V40.4H40zM80 80H100.4V100.4H80zM100 80H130V100.4H100zM80 100H100.4V130H80zM100 100H130V130H100z"/><path fill="#287d8e" d="M20 -30H40.4V0.4H20zM20 0H40.4V20.4H20zM-30 20H0.4V40.4H-30zM0 20H20.4V40.4H0zM60 20H80.4V40.4H60zM80 20H100.4V40.4H80zM100 20H130V40.4H100zM-30 40H0.4V60.4H-30zM0 40H20.4V60.4H0zM20 40H40.4V60.4H20zM60 40H80.4V60.4H60zM60 60H80.4V80.4H60zM60 80H80.4V100.4H60zM60 100H80.4V130H60z"/><path fill="#219a89" d="M40 -30H60.4V0.4H40zM60 -30H80.4V0.4H60zM40 0H60.4V20.4H40zM60 0H80.4V20.4H60zM20 20H40.4V40.4H20zM80 40H100.4V60.4H80zM100 40H130V60.4H100zM40 80H60.4V100.4H40zM40 100H60.4V130H40z"/><path fill="#34628d" d="M40 40H60.4V60.4H40zM-30 60H0.4V80.4H-30zM0 60H20.4V80.4H0zM20 80H40.4V100.4H20zM20 100H40.4V130H20z"/><path fill="#30b17c" d="M20 60H40.4V80.4H20zM40 60H60.4V80.4H40zM80 60H100.4V80.4H80zM100 60H130V80.4H100z"/><path fill="#472a79" d="M-30 80H0.4V100.4H-30zM0 80H20.4V100.4H0zM-30 100H0.4V130H-30zM0 100H20.4V130H0z"/></g><rect width="100" height="100" filter="url(#tx3)" opacity="0.18"/><g filter="url(#fm)"><ellipse cx="43" cy="33" rx="9" ry="5.5" fill="#471d6e" transform="rotate(30 43 33)"/><ellipse cx="78" cy="74" rx="12" ry="5" fill="#6fcd57" transform="rotate(-5 78 74)"/></g><g filter="url(#fs)"><ellipse cx="60" cy="50" rx="2.5" ry="7" fill="#482475" transform="rotate(10 60 50)"/><ellipse cx="68" cy="62" rx="4" ry="4" fill="#482475"/><ellipse cx="24" cy="68" rx="2.5" ry="6" fill="#472a79" transform="rotate(15 24 68)"/><ellipse cx="37" cy="64" rx="7" ry="4" fill="#eae525" transform="rotate(5 37 64)"/><ellipse cx="40" cy="18" rx="8" ry="3" fill="#33b47a" transform="rotate(-20 40 18)"/><ellipse cx="55" cy="8" rx="12" ry="3" fill="#22a884"/></g></g><rect x="0.3" y="0.3" width="99.4" height="99.4" fill="none" stroke="#1a1a2a" stroke-width="0.6" opacity="0.7"/></svg>
<svg class="im" style="left:2911.9px;top:608.2px;background:#34628d" width="121.0" height="120.8" viewBox="0 0 100 100" preserveAspectRatio="none"><g filter="url(#v1)"><g filter="url(#fgb)"><path fill="#414487" d="M-30 -30H0.4V0.4H-30zM0 -30H20.4V0.4H0zM80 -30H100.4V0.4H80zM100 -30H130V0.4H100zM-30 0H0.4V20.4H-30zM0 0H20.4V20.4H0zM80 0H100.4V20.4H80zM100 0H130V20.4H100zM-30 80H0.4V100.4H-30zM0 80H20.4V100.4H0zM80 80H100.4V100.4H80zM100 80H130V100.4H100zM-30 100H0.4V130H-30zM0 100H20.4V130H0zM80 100H100.4V130H80zM100 100H130V130H100z"/><path fill="#287d8e" d="M20 -30H40.4V0.4H20zM60 -30H80.4V0.4H60zM20 0H40.4V20.4H20zM60 0H80.4V20.4H60zM-30 20H0.4V40.4H-30zM0 20H20.4V40.4H0zM60 20H80.4V40.4H60zM80 20H100.4V40.4H80zM100 20H130V40.4H100zM-30 40H0.4V60.4H-30zM0 40H20.4V60.4H0zM20 40H40.4V60.4H20zM60 40H80.4V60.4H60zM80 40H100.4V60.4H80zM100 40H130V60.4H100zM60 60H80.4V80.4H60zM40 80H60.4V100.4H40zM60 80H80.4V100.4H60zM40 100H60.4V130H40zM60 100H80.4V130H60z"/><path fill="#219a89" d="M40 -30H60.4V0.4H40zM40 0H60.4V20.4H40zM20 20H40.4V40.4H20zM40 60H60.4V80.4H40zM80 60H100.4V80.4H80zM100 60H130V80.4H100z"/><path fill="#34628d" d="M40 20H60.4V40.4H40zM40 40H60.4V60.4H40zM-30 60H0.4V80.4H-30zM0 60H20.4V80.4H0zM20 80H40.4V100.4H20zM20 100H40.4V130H20z"/><path fill="#5ac664" d="M20 60H40.4V80.4H20z"/></g><rect width="100" height="100" filter="url(#tx1)" opacity="0.18"/><g filter="url(#fm)"><ellipse cx="32" cy="64" rx="5.5" ry="8" fill="#d0e126" transform="rotate(-30 32 64)"/></g><g filter="url(#fs)"><path d="M38 30A8 8 0 1 1 53 33" fill="none" stroke="#482475" stroke-width="3" stroke-linecap="round"/><ellipse cx="52" cy="48" rx="2.5" ry="6" fill="#482475" transform="rotate(20 52 48)"/><ellipse cx="67" cy="61" rx="4" ry="4.5" fill="#482475"/><ellipse cx="76" cy="76" rx="14" ry="4.5" fill="#36b678" transform="rotate(-5 76 76)"/><ellipse cx="24" cy="68" rx="2" ry="7" fill="#472a79" transform="rotate(10 24 68)"/><ellipse cx="35" cy="22" rx="6" ry="2.5" fill="#22a884"/></g></g><rect x="0.3" y="0.3" width="99.4" height="99.4" fill="none" stroke="#1a1a2a" stroke-width="0.6" opacity="0.7"/></svg>
<svg class="im" style="left:3043.0px;top:608.2px;background:#34628d" width="121.0" height="120.8" viewBox="0 0 100 100" preserveAspectRatio="none"><g filter="url(#v2)"><g filter="url(#fgb)"><path fill="#414487" d="M-30 -30H0.4V0.4H-30zM0 -30H20.4V0.4H0zM80 -30H100.4V0.4H80zM100 -30H130V0.4H100zM-30 0H0.4V20.4H-30zM0 0H20.4V20.4H0zM80 0H100.4V20.4H80zM100 0H130V20.4H100zM-30 80H0.4V100.4H-30zM0 80H20.4V100.4H0zM80 80H100.4V100.4H80zM100 80H130V100.4H100zM-30 100H0.4V130H-30zM0 100H20.4V130H0zM80 100H100.4V130H80zM100 100H130V130H100z"/><path fill="#287d8e" d="M20 -30H40.4V0.4H20zM60 -30H80.4V0.4H60zM20 0H40.4V20.4H20zM60 0H80.4V20.4H60zM-30 20H0.4V40.4H-30zM0 20H20.4V40.4H0zM20 20H40.4V40.4H20zM60 20H80.4V40.4H60zM80 20H100.4V40.4H80zM100 20H130V40.4H100zM-30 40H0.4V60.4H-30zM0 40H20.4V60.4H0zM20 40H40.4V60.4H20zM60 40H80.4V60.4H60zM80 40H100.4V60.4H80zM100 40H130V60.4H100zM60 60H80.4V80.4H60zM40 80H60.4V100.4H40zM40 100H60.4V130H40z"/><path fill="#219a89" d="M40 -30H60.4V0.4H40zM40 0H60.4V20.4H40zM40 60H60.4V80.4H40zM80 60H100.4V80.4H80zM100 60H130V80.4H100z"/><path fill="#34628d" d="M40 20H60.4V40.4H40zM40 40H60.4V60.4H40zM-30 60H0.4V80.4H-30zM0 60H20.4V80.4H0zM20 80H40.4V100.4H20zM60 80H80.4V100.4H60zM20 100H40.4V130H20zM60 100H80.4V130H60z"/><path fill="#30b17c" d="M20 60H40.4V80.4H20z"/></g><rect width="100" height="100" filter="url(#tx2)" opacity="0.18"/><g filter="url(#fs)"><path d="M40 29A8 8 0 1 1 55 32" fill="none" stroke="#471d6e" stroke-width="3" stroke-linecap="round"/><ellipse cx="55" cy="45" rx="2.5" ry="7" fill="#482475" transform="rotate(25 55 45)"/><ellipse cx="65" cy="60" rx="3.5" ry="4.5" fill="#482475"/><ellipse cx="28" cy="61" rx="3" ry="7.5" fill="#dde326" transform="rotate(-5 28 61)"/><ellipse cx="29" cy="35" rx="1.3" ry="5" fill="#bddf26"/><ellipse cx="22" cy="69" rx="2" ry="7" fill="#482475" transform="rotate(15 22 69)"/><ellipse cx="78" cy="72" rx="14" ry="3.5" fill="#29ad80" transform="rotate(-10 78 72)"/><ellipse cx="40" cy="74" rx="4" ry="5" fill="#33b47a"/></g></g><rect x="0.3" y="0.3" width="99.4" height="99.4" fill="none" stroke="#1a1a2a" stroke-width="0.6" opacity="0.7"/></svg>
<svg class="im" style="left:2650.1px;top:730.3px;background:#34628d" width="121.0" height="120.8" viewBox="0 0 100 100" preserveAspectRatio="none"><g filter="url(#v3)"><g filter="url(#fgb)"><path fill="#472a79" d="M-30 -30H0.4V0.4H-30zM0 -30H20.4V0.4H0zM-30 0H0.4V20.4H-30zM0 0H20.4V20.4H0zM60 20H80.4V40.4H60zM-30 80H0.4V100.4H-30zM0 80H20.4V100.4H0zM20 80H40.4V100.4H20zM40 80H60.4V100.4H40zM60 80H80.4V100.4H60zM80 80H100.4V100.4H80zM100 80H130V100.4H100zM-30 100H0.4V130H-30zM0 100H20.4V130H0zM20 100H40.4V130H20zM40 100H60.4V130H40zM60 100H80.4V130H60zM80 100H100.4V130H80zM100 100H130V130H100z"/><path fill="#414487" d="M20 -30H40.4V0.4H20zM40 -30H60.4V0.4H40zM60 -30H80.4V0.4H60zM80 -30H100.4V0.4H80zM100 -30H130V0.4H100zM20 0H40.4V20.4H20zM40 0H60.4V20.4H40zM60 0H80.4V20.4H60zM80 0H100.4V20.4H80zM100 0H130V20.4H100zM-30 20H0.4V40.4H-30zM0 20H20.4V40.4H0zM80 20H100.4V40.4H80zM100 20H130V40.4H100zM60 40H80.4V60.4H60zM80 40H100.4V60.4H80zM100 40H130V60.4H100zM-30 60H0.4V80.4H-30zM0 60H20.4V80.4H0zM20 60H40.4V80.4H20zM80 60H100.4V80.4H80zM100 60H130V80.4H100z"/><path fill="#34628d" d="M20 20H40.4V40.4H20zM40 20H60.4V40.4H40zM-30 40H0.4V60.4H-30zM0 40H20.4V60.4H0zM20 40H40.4V60.4H20zM40 40H60.4V60.4H40zM40 60H60.4V80.4H40zM60 60H80.4V80.4H60z"/></g><rect width="100" height="100" filter="url(#tx3)" opacity="0.18"/><g filter="url(#fs)"><ellipse cx="41" cy="25" rx="1.3" ry="5" fill="#cae126"/><path d="M15 52Q18 36 33 40Q45 44 50 55" fill="none" stroke="#21918c" stroke-width="2.6" stroke-linecap="round"/><path d="M40 60Q36 75 46 86Q70 78 96 86" fill="none" stroke="#287d8e" stroke-width="2.6" stroke-linecap="round"/><ellipse cx="45" cy="70" rx="2.5" ry="7" fill="#29ad80"/><ellipse cx="70" cy="25" rx="4" ry="4" fill="#461264"/><ellipse cx="17" cy="46" rx="1.6" ry="6" fill="#22a386" transform="rotate(10 17 46)"/><path d="M36 20Q50 14 58 30Q62 45 55 55" fill="none" stroke="#287d8e" stroke-width="2" stroke-linecap="round"/><ellipse cx="30" cy="30" rx="4" ry="3" fill="#482475"/></g></g><rect x="0.3" y="0.3" width="99.4" height="99.4" fill="none" stroke="#1a1a2a" stroke-width="0.6" opacity="0.7"/></svg>
<svg class="im" style="left:2781.3px;top:730.3px;background:#414487" width="121.0" height="120.8" viewBox="0 0 100 100" preserveAspectRatio="none"><g filter="url(#v1)"><g filter="url(#fgb)"><path fill="#414487" d="M-30 -30H0.4V0.4H-30zM0 -30H20.4V0.4H0zM-30 0H0.4V20.4H-30zM0 0H20.4V20.4H0zM80 20H100.4V40.4H80zM100 20H130V40.4H100zM40 40H60.4V60.4H40zM80 80H100.4V100.4H80zM100 80H130V100.4H100zM80 100H100.4V130H80zM100 100H130V130H100z"/><path fill="#287d8e" d="M20 -30H40.4V0.4H20zM40 -30H60.4V0.4H40zM20 0H40.4V20.4H20zM40 0H60.4V20.4H40zM20 20H40.4V40.4H20zM40 20H60.4V40.4H40zM60 20H80.4V40.4H60zM-30 60H0.4V80.4H-30zM0 60H20.4V80.4H0zM60 60H80.4V80.4H60zM20 80H40.4V100.4H20zM60 80H80.4V100.4H60zM20 100H40.4V130H20zM60 100H80.4V130H60z"/><path fill="#34628d" d="M60 -30H80.4V0.4H60zM60 0H80.4V20.4H60zM60 40H80.4V60.4H60zM80 40H100.4V60.4H80zM100 40H130V60.4H100zM80 60H100.4V80.4H80zM100 60H130V80.4H100zM-30 80H0.4V100.4H-30zM0 80H20.4V100.4H0zM-30 100H0.4V130H-30zM0 100H20.4V130H0z"/><path fill="#472a79" d="M80 -30H100.4V0.4H80zM100 -30H130V0.4H100zM80 0H100.4V20.4H80zM100 0H130V20.4H100z"/><path fill="#30b17c" d="M-30 20H0.4V40.4H-30zM0 20H20.4V40.4H0zM20 60H40.4V80.4H20z"/><path fill="#5ac664" d="M-30 40H0.4V60.4H-30zM0 40H20.4V60.4H0z"/><path fill="#219a89" d="M20 40H40.4V60.4H20zM40 60H60.4V80.4H40zM40 80H60.4V100.4H40zM40 100H60.4V130H40z"/></g><rect width="100" height="100" filter="url(#tx1)" opacity="0.18"/><g filter="url(#fm)"><ellipse cx="45" cy="50" rx="13" ry="11" fill="#471d6e"/><ellipse cx="92" cy="10" rx="12" ry="10" fill="#461668"/><ellipse cx="40" cy="20" rx="14" ry="5" fill="#21918c"/></g><g filter="url(#fs)"><ellipse cx="13" cy="48" rx="4.5" ry="14" fill="#eae525" transform="rotate(-20 13 48)"/><ellipse cx="52" cy="62" rx="3" ry="3" fill="#460f61"/></g></g><rect x="0.3" y="0.3" width="99.4" height="99.4" fill="none" stroke="#1a1a2a" stroke-width="0.6" opacity="0.7"/></svg>
<svg class="im" style="left:2911.9px;top:730.3px;background:#287d8e" width="121.0" height="120.8" viewBox="0 0 100 100" preserveAspectRatio="none"><g filter="url(#v2)"><g filter="url(#fgb)"><path fill="#34628d" d="M-30 -30H0.4V0.4H-30zM0 -30H20.4V0.4H0zM40 -30H60.4V0.4H40zM-30 0H0.4V20.4H-30zM0 0H20.4V20.4H0zM40 0H60.4V20.4H40zM-30 20H0.4V40.4H-30zM0 20H20.4V40.4H0zM60 20H80.4V40.4H60zM20 40H40.4V60.4H20zM60 40H80.4V60.4H60zM60 60H80.4V80.4H60z"/><path fill="#287d8e" d="M20 -30H40.4V0.4H20zM20 0H40.4V20.4H20zM20 20H40.4V40.4H20zM40 40H60.4V60.4H40zM-30 60H0.4V80.4H-30zM0 60H20.4V80.4H0zM20 60H40.4V80.4H20zM40 80H60.4V100.4H40zM40 100H60.4V130H40z"/><path fill="#414487" d="M60 -30H80.4V0.4H60zM80 -30H100.4V0.4H80zM100 -30H130V0.4H100zM60 0H80.4V20.4H60zM80 0H100.4V20.4H80zM100 0H130V20.4H100zM80 20H100.4V40.4H80zM100 20H130V40.4H100zM80 40H100.4V60.4H80zM100 40H130V60.4H100zM-30 80H0.4V100.4H-30zM0 80H20.4V100.4H0zM20 80H40.4V100.4H20zM60 80H80.4V100.4H60zM-30 100H0.4V130H-30zM0 100H20.4V130H0zM20 100H40.4V130H20zM60 100H80.4V130H60z"/><path fill="#219a89" d="M40 20H60.4V40.4H40z"/><path fill="#30b17c" d="M-30 40H0.4V60.4H-30zM0 40H20.4V60.4H0zM40 60H60.4V80.4H40z"/><path fill="#472a79" d="M80 60H100.4V80.4H80zM100 60H130V80.4H100zM80 80H100.4V100.4H80zM100 80H130V100.4H100zM80 100H100.4V130H80zM100 100H130V130H100z"/></g><rect width="100" height="100" filter="url(#tx2)" opacity="0.18"/><g filter="url(#fm)"><ellipse cx="75" cy="75" rx="8" ry="5" fill="#482475" transform="rotate(30 75 75)"/></g><g filter="url(#fs)"><ellipse cx="1" cy="45" rx="1.5" ry="20" fill="#cae126"/><ellipse cx="12" cy="60" rx="3" ry="10" fill="#4fc36a"/><path d="M28 35Q18 50 22 70" fill="none" stroke="#461668" stroke-width="3" stroke-linecap="round"/><path d="M35 38Q46 42 42 60" fill="none" stroke="#471d6e" stroke-width="3" stroke-linecap="round"/><ellipse cx="47" cy="73" rx="3.5" ry="9" fill="#dde326" transform="rotate(-20 47 73)"/><ellipse cx="45" cy="28" rx="10" ry="3" fill="#3dba74"/><ellipse cx="28" cy="55" rx="3" ry="8" fill="#44bf70" transform="rotate(15 28 55)"/><ellipse cx="40" cy="62" rx="2.5" ry="8" fill="#5fc860" transform="rotate(-10 40 62)"/></g></g><rect x="0.3" y="0.3" width="99.4" height="99.4" fill="none" stroke="#1a1a2a" stroke-width="0.6" opacity="0.7"/></svg>
<svg class="im" style="left:3043.0px;top:730.3px;background:#34628d" width="121.0" height="120.8" viewBox="0 0 100 100" preserveAspectRatio="none"><g filter="url(#v3)"><g filter="url(#fgb)"><path fill="#472a79" d="M-30 -30H0.4V0.4H-30zM0 -30H20.4V0.4H0zM60 -30H80.4V0.4H60zM80 -30H100.4V0.4H80zM100 -30H130V0.4H100zM-30 0H0.4V20.4H-30zM0 0H20.4V20.4H0zM60 0H80.4V20.4H60zM80 0H100.4V20.4H80zM100 0H130V20.4H100zM80 20H100.4V40.4H80zM100 20H130V40.4H100zM80 40H100.4V60.4H80zM100 40H130V60.4H100zM-30 80H0.4V100.4H-30zM0 80H20.4V100.4H0zM80 80H100.4V100.4H80zM100 80H130V100.4H100zM-30 100H0.4V130H-30zM0 100H20.4V130H0zM80 100H100.4V130H80zM100 100H130V130H100z"/><path fill="#414487" d="M20 -30H40.4V0.4H20zM40 -30H60.4V0.4H40zM20 0H40.4V20.4H20zM40 0H60.4V20.4H40zM-30 20H0.4V40.4H-30zM0 20H20.4V40.4H0zM60 20H80.4V40.4H60zM60 40H80.4V60.4H60zM-30 60H0.4V80.4H-30zM0 60H20.4V80.4H0zM80 60H100.4V80.4H80zM100 60H130V80.4H100zM20 80H40.4V100.4H20zM60 80H80.4V100.4H60zM20 100H40.4V130H20zM60 100H80.4V130H60z"/><path fill="#34628d" d="M20 20H40.4V40.4H20zM-30 40H0.4V60.4H-30zM0 40H20.4V60.4H0zM40 40H60.4V60.4H40zM20 60H40.4V80.4H20zM60 60H80.4V80.4H60zM40 80H60.4V100.4H40zM40 100H60.4V130H40z"/><path fill="#287d8e" d="M40 20H60.4V40.4H40zM20 40H40.4V60.4H20z"/><path fill="#30b17c" d="M40 60H60.4V80.4H40z"/></g><rect width="100" height="100" filter="url(#tx3)" opacity="0.18"/><g filter="url(#fm)"><ellipse cx="75" cy="40" rx="9" ry="9" fill="#460f61"/></g><g filter="url(#fs)"><ellipse cx="46" cy="70" rx="3.5" ry="7" fill="#eae525"/><ellipse cx="42" cy="28" rx="1.5" ry="5" fill="#b0dc2f"/><ellipse cx="14" cy="50" rx="2" ry="7" fill="#4fc36a"/><path d="M20 45Q30 35 45 42" fill="none" stroke="#21918c" stroke-width="3" stroke-linecap="round"/><path d="M55 30Q66 35 62 50" fill="none" stroke="#26848d" stroke-width="3" stroke-linecap="round"/><path d="M60 65Q80 70 96 90" fill="none" stroke="#2a788e" stroke-width="2.6" stroke-linecap="round"/><ellipse cx="36" cy="64" rx="1.5" ry="6" fill="#bddf26"/><ellipse cx="32" cy="50" rx="5" ry="3" fill="#482475" transform="rotate(-20 32 50)"/><ellipse cx="50" cy="50" rx="4" ry="3" fill="#482475" transform="rotate(30 50 50)"/></g></g><rect x="0.3" y="0.3" width="99.4" height="99.4" fill="none" stroke="#1a1a2a" stroke-width="0.6" opacity="0.7"/></svg>
<svg class="im" style="left:2650.1px;top:852.0px;background:#414487" width="121.0" height="120.8" viewBox="0 0 100 100" preserveAspectRatio="none"><g filter="url(#v1)"><g filter="url(#fgb)"><path fill="#414487" d="M-30 -30H0.4V0.4H-30zM0 -30H20.4V0.4H0zM80 -30H100.4V0.4H80zM100 -30H130V0.4H100zM-30 0H0.4V20.4H-30zM0 0H20.4V20.4H0zM80 0H100.4V20.4H80zM100 0H130V20.4H100zM40 40H60.4V60.4H40z"/><path fill="#219a89" d="M20 -30H40.4V0.4H20zM20 0H40.4V20.4H20zM60 20H80.4V40.4H60zM-30 60H0.4V80.4H-30zM0 60H20.4V80.4H0zM20 60H40.4V80.4H20zM80 60H100.4V80.4H80zM100 60H130V80.4H100zM40 80H60.4V100.4H40zM40 100H60.4V130H40z"/><path fill="#30b17c" d="M40 -30H60.4V0.4H40zM40 0H60.4V20.4H40zM-30 20H0.4V40.4H-30zM0 20H20.4V40.4H0zM20 20H40.4V40.4H20zM-30 40H0.4V60.4H-30zM0 40H20.4V60.4H0zM80 40H100.4V60.4H80zM100 40H130V60.4H100z"/><path fill="#287d8e" d="M60 -30H80.4V0.4H60zM60 0H80.4V20.4H60zM80 20H100.4V40.4H80zM100 20H130V40.4H100zM40 60H60.4V80.4H40zM60 60H80.4V80.4H60zM20 80H40.4V100.4H20zM60 80H80.4V100.4H60zM20 100H40.4V130H20zM60 100H80.4V130H60z"/><path fill="#34628d" d="M40 20H60.4V40.4H40zM20 40H40.4V60.4H20zM60 40H80.4V60.4H60z"/><path fill="#472a79" d="M-30 80H0.4V100.4H-30zM0 80H20.4V100.4H0zM80 80H100.4V100.4H80zM100 80H130V100.4H100zM-30 100H0.4V130H-30zM0 100H20.4V130H0zM80 100H100.4V130H80zM100 100H130V130H100z"/></g><rect width="100" height="100" filter="url(#tx1)" opacity="0.18"/><g filter="url(#fb)"><ellipse cx="47" cy="48" rx="17" ry="14" fill="#482475" transform="rotate(30 47 48)"/></g><g filter="url(#fm)"><ellipse cx="45" cy="63" rx="5" ry="5" fill="#44347e"/></g><g filter="url(#fs)"><ellipse cx="2" cy="38" rx="2" ry="7" fill="#eae525"/><ellipse cx="8" cy="35" rx="1.6" ry="7" fill="#482475"/><ellipse cx="25" cy="28" rx="3" ry="10" fill="#cae126" transform="rotate(32 25 28)"/><ellipse cx="50" cy="21" rx="15" ry="3.5" fill="#6fcd57" transform="rotate(15 50 21)"/><ellipse cx="93" cy="65" rx="3" ry="12" fill="#b0dc2f" transform="rotate(20 93 65)"/><ellipse cx="62" cy="60" rx="6" ry="4" fill="#414487" transform="rotate(30 62 60)"/></g></g><rect x="0.3" y="0.3" width="99.4" height="99.4" fill="none" stroke="#1a1a2a" stroke-width="0.6" opacity="0.7"/></svg>
<svg class="im" style="left:2781.3px;top:852.0px;background:#414487" width="121.0" height="120.8" viewBox="0 0 100 100" preserveAspectRatio="none"><g filter="url(#v2)"><g filter="url(#fgb)"><path fill="#472a79" d="M-30 -30H0.4V0.4H-30zM0 -30H20.4V0.4H0zM80 -30H100.4V0.4H80zM100 -30H130V0.4H100zM-30 0H0.4V20.4H-30zM0 0H20.4V20.4H0zM80 0H100.4V20.4H80zM100 0H130V20.4H100z"/><path fill="#34628d" d="M20 -30H40.4V0.4H20zM60 -30H80.4V0.4H60zM20 0H40.4V20.4H20zM60 0H80.4V20.4H60zM-30 20H0.4V40.4H-30zM0 20H20.4V40.4H0zM80 20H100.4V40.4H80zM100 20H130V40.4H100z"/><path fill="#287d8e" d="M40 -30H60.4V0.4H40zM40 0H60.4V20.4H40zM20 60H40.4V80.4H20zM40 60H60.4V80.4H40zM20 80H40.4V100.4H20zM20 100H40.4V130H20z"/><path fill="#219a89" d="M20 20H40.4V40.4H20zM-30 40H0.4V60.4H-30zM0 40H20.4V60.4H0zM20 40H40.4V60.4H20zM60 40H80.4V60.4H60zM-30 60H0.4V80.4H-30zM0 60H20.4V80.4H0zM60 60H80.4V80.4H60zM80 60H100.4V80.4H80zM100 60H130V80.4H100zM40 80H60.4V100.4H40zM60 80H80.4V100.4H60zM40 100H60.4V130H40zM60 100H80.4V130H60z"/><path fill="#30b17c" d="M40 20H60.4V40.4H40zM60 20H80.4V40.4H60zM80 40H100.4V60.4H80zM100 40H130V60.4H100z"/><path fill="#414487" d="M40 40H60.4V60.4H40zM-30 80H0.4V100.4H-30zM0 80H20.4V100.4H0zM80 80H100.4V100.4H80zM100 80H130V100.4H100zM-30 100H0.4V130H-30zM0 100H20.4V130H0zM80 100H100.4V130H80zM100 100H130V130H100z"/></g><rect width="100" height="100" filter="url(#tx2)" opacity="0.18"/><g filter="url(#fm)"><ellipse cx="10" cy="60" rx="5" ry="6" fill="#eae525" transform="rotate(30 10 60)"/><ellipse cx="60" cy="20" rx="10" ry="6" fill="#306c8e"/></g><g filter="url(#fs)"><ellipse cx="53" cy="50" rx="8" ry="4.5" fill="#450c5e" transform="rotate(-25 53 50)"/><ellipse cx="38" cy="35" rx="6" ry="4" fill="#9cd83c"/><ellipse cx="68" cy="35" rx="5" ry="4" fill="#6fcd57"/><ellipse cx="98" cy="50" rx="2" ry="8" fill="#b0dc2f"/><ellipse cx="28" cy="75" rx="5" ry="3" fill="#3f4988"/></g></g><rect x="0.3" y="0.3" width="99.4" height="99.4" fill="none" stroke="#1a1a2a" stroke-width="0.6" opacity="0.7"/></svg>
<svg class="im" style="left:2911.9px;top:852.0px;background:#34628d" width="121.0" height="120.8" viewBox="0 0 100 100" preserveAspectRatio="none"><g filter="url(#v3)"><g filter="url(#fgb)"><path fill="#414487" d="M-30 -30H0.4V0.4H-30zM0 -30H20.4V0.4H0zM80 -30H100.4V0.4H80zM100 -30H130V0.4H100zM-30 0H0.4V20.4H-30zM0 0H20.4V20.4H0zM80 0H100.4V20.4H80zM100 0H130V20.4H100zM-30 80H0.4V100.4H-30zM0 80H20.4V100.4H0zM80 80H100.4V100.4H80zM100 80H130V100.4H100zM-30 100H0.4V130H-30zM0 100H20.4V130H0zM80 100H100.4V130H80zM100 100H130V130H100z"/><path fill="#287d8e" d="M20 -30H40.4V0.4H20zM60 -30H80.4V0.4H60zM20 0H40.4V20.4H20zM60 0H80.4V20.4H60zM-30 20H0.4V40.4H-30zM0 20H20.4V40.4H0zM80 20H100.4V40.4H80zM100 20H130V40.4H100zM20 40H40.4V60.4H20zM20 60H40.4V80.4H20z"/><path fill="#219a89" d="M40 -30H60.4V0.4H40zM40 0H60.4V20.4H40zM20 20H40.4V40.4H20zM40 20H60.4V40.4H40zM60 20H80.4V40.4H60zM60 40H80.4V60.4H60zM40 60H60.4V80.4H40zM60 80H80.4V100.4H60zM60 100H80.4V130H60z"/><path fill="#95d740" d="M-30 40H0.4V60.4H-30zM0 40H20.4V60.4H0zM80 40H100.4V60.4H80zM100 40H130V60.4H100z"/><path fill="#34628d" d="M40 40H60.4V60.4H40z"/><path fill="#30b17c" d="M-30 60H0.4V80.4H-30zM0 60H20.4V80.4H0zM60 60H80.4V80.4H60zM80 60H100.4V80.4H80zM100 60H130V80.4H100zM20 80H40.4V100.4H20zM20 100H40.4V130H20z"/><path fill="#5ac664" d="M40 80H60.4V100.4H40zM40 100H60.4V130H40z"/></g><rect width="100" height="100" filter="url(#tx3)" opacity="0.18"/><g filter="url(#fm)"><ellipse cx="7" cy="55" rx="6" ry="10" fill="#d0e126"/><ellipse cx="90" cy="55" rx="9" ry="6" fill="#eae525"/><ellipse cx="28" cy="72" rx="5" ry="7" fill="#414487" transform="rotate(-30 28 72)"/><ellipse cx="50" cy="88" rx="25" ry="6" fill="#7ad151"/></g><g filter="url(#fs)"><ellipse cx="50" cy="55" rx="4.5" ry="5" fill="#461668"/><path d="M35 36Q45 45 48 55" fill="none" stroke="#44347e" stroke-width="2.6" stroke-linecap="round"/><ellipse cx="57" cy="45" rx="2" ry="6" fill="#472a79" transform="rotate(-20 57 45)"/></g></g><rect x="0.3" y="0.3" width="99.4" height="99.4" fill="none" stroke="#1a1a2a" stroke-width="0.6" opacity="0.7"/></svg>
<svg class="im" style="left:3043.0px;top:852.0px;background:#472a79" width="121.0" height="120.8" viewBox="0 0 100 100" preserveAspectRatio="none"><g filter="url(#v1)"><g filter="url(#fgb)"><path fill="#472a79" d="M-30 -30H0.4V0.4H-30zM0 -30H20.4V0.4H0zM80 -30H100.4V0.4H80zM100 -30H130V0.4H100zM-30 0H0.4V20.4H-30zM0 0H20.4V20.4H0zM80 0H100.4V20.4H80zM100 0H130V20.4H100zM40 40H60.4V60.4H40zM-30 80H0.4V100.4H-30zM0 80H20.4V100.4H0zM80 80H100.4V100.4H80zM100 80H130V100.4H100zM-30 100H0.4V130H-30zM0 100H20.4V130H0zM80 100H100.4V130H80zM100 100H130V130H100z"/><path fill="#287d8e" d="M20 -30H40.4V0.4H20zM60 -30H80.4V0.4H60zM20 0H40.4V20.4H20zM60 0H80.4V20.4H60zM20 40H40.4V60.4H20zM60 40H80.4V60.4H60zM-30 60H0.4V80.4H-30zM0 60H20.4V80.4H0zM20 80H40.4V100.4H20zM60 80H80.4V100.4H60zM20 100H40.4V130H20zM60 100H80.4V130H60z"/><path fill="#219a89" d="M40 -30H60.4V0.4H40zM40 0H60.4V20.4H40zM40 20H60.4V40.4H40zM60 20H80.4V40.4H60z"/><path fill="#30b17c" d="M-30 20H0.4V40.4H-30zM0 20H20.4V40.4H0zM-30 40H0.4V60.4H-30zM0 40H20.4V60.4H0zM80 40H100.4V60.4H80zM100 40H130V60.4H100zM20 60H40.4V80.4H20zM40 60H60.4V80.4H40zM60 60H80.4V80.4H60zM80 60H100.4V80.4H80zM100 60H130V80.4H100zM40 80H60.4V100.4H40zM40 100H60.4V130H40z"/><path fill="#5ac664" d="M20 20H40.4V40.4H20z"/><path fill="#34628d" d="M80 20H100.4V40.4H80zM100 20H130V40.4H100z"/></g><rect width="100" height="100" filter="url(#tx1)" opacity="0.18"/><g filter="url(#fm)"><ellipse cx="52" cy="52" rx="15" ry="13" fill="#460f61" transform="rotate(10 52 52)"/></g><g filter="url(#fs)"><ellipse cx="2" cy="35" rx="2" ry="8" fill="#eae525"/><path d="M25 30Q45 13 65 25" fill="none" stroke="#7ad151" stroke-width="5" stroke-linecap="round"/><path d="M18 50Q20 65 30 70" fill="none" stroke="#471d6e" stroke-width="2" stroke-linecap="round"/><ellipse cx="95" cy="60" rx="3" ry="10" fill="#87d448" transform="rotate(10 95 60)"/><ellipse cx="35" cy="42" rx="4" ry="6" fill="#44347e" transform="rotate(30 35 42)"/></g></g><rect x="0.3" y="0.3" width="99.4" height="99.4" fill="none" stroke="#1a1a2a" stroke-width="0.6" opacity="0.7"/></svg>
<div class="a" style="left:3228.1px;top:608.2px;width:121px;height:364.6px;background:#b9b9a8;"></div>
<div class="a" style="left:3359.2px;top:608.2px;width:121px;height:364.6px;background:#b9b9a8;"></div>
<div class="a" style="left:3490.1px;top:608.2px;width:121px;height:364.6px;background:#b9b9a8;"></div>
<div class="a" style="left:3621.3px;top:608.2px;width:121px;height:364.6px;background:#b9b9a8;"></div>
<svg class="im" style="left:3228.1px;top:608.2px;background:#22a884" width="121.0" height="120.8" viewBox="0 0 100 100" preserveAspectRatio="none"><g filter="url(#v2)"><g filter="url(#fgb)"><path fill="#471d6e" d="M-30 -30H0.4V0.4H-30zM0 -30H20.4V0.4H0zM-30 0H0.4V20.4H-30zM0 0H20.4V20.4H0zM-30 80H0.4V100.4H-30zM0 80H20.4V100.4H0zM-30 100H0.4V130H-30zM0 100H20.4V130H0z"/><path fill="#443780" d="M20 -30H40.4V0.4H20zM80 -30H100.4V0.4H80zM100 -30H130V0.4H100zM20 0H40.4V20.4H20zM80 0H100.4V20.4H80zM100 0H130V20.4H100zM-30 60H0.4V80.4H-30zM0 60H20.4V80.4H0zM80 80H100.4V100.4H80zM100 80H130V100.4H100zM80 100H100.4V130H80zM100 100H130V130H100z"/><path fill="#39578b" d="M40 -30H60.4V0.4H40zM60 -30H80.4V0.4H60zM40 0H60.4V20.4H40zM60 0H80.4V20.4H60zM-30 20H0.4V40.4H-30zM0 20H20.4V40.4H0zM60 20H80.4V40.4H60zM80 20H100.4V40.4H80zM100 20H130V40.4H100zM-30 40H0.4V60.4H-30zM0 40H20.4V60.4H0z"/><path fill="#21918c" d="M20 20H40.4V40.4H20zM40 20H60.4V40.4H40z"/><path fill="#44bf70" d="M20 40H40.4V60.4H20z"/><path fill="#22a884" d="M40 40H60.4V60.4H40zM20 60H40.4V80.4H20z"/><path fill="#2c738e" d="M60 40H80.4V60.4H60zM80 40H100.4V60.4H80zM100 40H130V60.4H100zM40 60H60.4V80.4H40zM60 60H80.4V80.4H60zM80 60H100.4V80.4H80zM100 60H130V80.4H100zM20 80H40.4V100.4H20zM40 80H60.4V100.4H40zM60 80H80.4V100.4H60zM20 100H40.4V130H20zM40 100H60.4V130H40zM60 100H80.4V130H60z"/></g><rect width="100" height="100" filter="url(#tx2)" opacity="0.55"/><g filter="url(#fs)"><path d="M5 20Q8 50 5 85" fill="none" stroke="#482475" stroke-width="2" stroke-linecap="round"/><ellipse cx="30" cy="55" rx="3.5" ry="16" fill="#cae126" transform="rotate(5 30 55)"/><ellipse cx="50" cy="45" rx="3.5" ry="12" fill="#b0dc2f" transform="rotate(10 50 45)"/><path d="M52 25Q45 45 62 60" fill="none" stroke="#471d6e" stroke-width="3" stroke-linecap="round"/><path d="M65 8Q86 10 80 28" fill="none" stroke="#472a79" stroke-width="3" stroke-linecap="round"/><ellipse cx="20" cy="78" rx="3" ry="3.5" fill="#461668"/><ellipse cx="18" cy="22" rx="2.5" ry="12" fill="#44347e"/><ellipse cx="40" cy="40" rx="1.5" ry="10" fill="#44347e" transform="rotate(20 40 40)"/><ellipse cx="75" cy="50" rx="8" ry="3" fill="#229c88" transform="rotate(10 75 50)"/></g></g><rect x="0.3" y="0.3" width="99.4" height="99.4" fill="none" stroke="#1a1a2a" stroke-width="0.6" opacity="0.7"/></svg>
<svg class="im" style="left:3359.2px;top:608.2px;background:#44bf70" width="121.0" height="120.8" viewBox="0 0 100 100" preserveAspectRatio="none"><g filter="url(#v3)"><g filter="url(#fgb)"><path fill="#443780" d="M-30 -30H0.4V0.4H-30zM0 -30H20.4V0.4H0zM80 -30H100.4V0.4H80zM100 -30H130V0.4H100zM-30 0H0.4V20.4H-30zM0 0H20.4V20.4H0zM80 0H100.4V20.4H80zM100 0H130V20.4H100zM80 80H100.4V100.4H80zM100 80H130V100.4H100zM80 100H100.4V130H80zM100 100H130V130H100z"/><path fill="#39578b" d="M20 -30H40.4V0.4H20zM40 -30H60.4V0.4H40zM60 -30H80.4V0.4H60zM20 0H40.4V20.4H20zM40 0H60.4V20.4H40zM60 0H80.4V20.4H60zM-30 20H0.4V40.4H-30zM0 20H20.4V40.4H0zM80 20H100.4V40.4H80zM100 20H130V40.4H100zM-30 40H0.4V60.4H-30zM0 40H20.4V60.4H0zM-30 60H0.4V80.4H-30zM0 60H20.4V80.4H0zM20 80H40.4V100.4H20zM60 80H80.4V100.4H60zM20 100H40.4V130H20zM60 100H80.4V130H60z"/><path fill="#2c738e" d="M20 20H40.4V40.4H20zM40 20H60.4V40.4H40zM60 20H80.4V40.4H60zM60 40H80.4V60.4H60zM60 60H80.4V80.4H60zM80 60H100.4V80.4H80zM100 60H130V80.4H100zM40 80H60.4V100.4H40zM40 100H60.4V130H40z"/><path fill="#22a884" d="M20 40H40.4V60.4H20zM20 60H40.4V80.4H20z"/><path fill="#44bf70" d="M40 40H60.4V60.4H40z"/><path fill="#21918c" d="M80 40H100.4V60.4H80zM100 40H130V60.4H100zM40 60H60.4V80.4H40z"/><path fill="#471d6e" d="M-30 80H0.4V100.4H-30zM0 80H20.4V100.4H0zM-30 100H0.4V130H-30zM0 100H20.4V130H0z"/></g><rect width="100" height="100" filter="url(#tx3)" opacity="0.55"/><g filter="url(#fm)"><ellipse cx="32" cy="62" rx="7" ry="14" fill="#4fc36a" transform="rotate(10 32 62)"/></g><g filter="url(#fs)"><path d="M18 10Q20 50 17 90" fill="none" stroke="#471d6e" stroke-width="3" stroke-linecap="round"/><ellipse cx="48" cy="50" rx="4" ry="8" fill="#eae525"/><path d="M57 40Q58 52 62 58" fill="none" stroke="#482475" stroke-width="2.6" stroke-linecap="round"/><ellipse cx="2" cy="50" rx="2" ry="30" fill="#482475"/><ellipse cx="78" cy="12" rx="6" ry="4" fill="#44347e"/><ellipse cx="82" cy="55" rx="6" ry="4" fill="#229c88"/></g></g><rect x="0.3" y="0.3" width="99.4" height="99.4" fill="none" stroke="#1a1a2a" stroke-width="0.6" opacity="0.7"/></svg>
<svg class="im" style="left:3490.1px;top:608.2px;background:#22a884" width="121.0" height="120.8" viewBox="0 0 100 100" preserveAspectRatio="none"><g filter="url(#v1)"><g filter="url(#fgb)"><path fill="#443780" d="M-30 -30H0.4V0.4H-30zM0 -30H20.4V0.4H0zM80 -30H100.4V0.4H80zM100 -30H130V0.4H100zM-30 0H0.4V20.4H-30zM0 0H20.4V20.4H0zM80 0H100.4V20.4H80zM100 0H130V20.4H100z"/><path fill="#39578b" d="M20 -30H40.4V0.4H20zM40 -30H60.4V0.4H40zM60 -30H80.4V0.4H60zM20 0H40.4V20.4H20zM40 0H60.4V20.4H40zM60 0H80.4V20.4H60zM-30 20H0.4V40.4H-30zM0 20H20.4V40.4H0zM80 20H100.4V40.4H80zM100 20H130V40.4H100zM-30 40H0.4V60.4H-30zM0 40H20.4V60.4H0zM-30 60H0.4V80.4H-30zM0 60H20.4V80.4H0zM20 80H40.4V100.4H20zM60 80H80.4V100.4H60zM20 100H40.4V130H20zM60 100H80.4V130H60z"/><path fill="#2c738e" d="M20 20H40.4V40.4H20zM40 20H60.4V40.4H40zM60 20H80.4V40.4H60zM60 40H80.4V60.4H60zM80 40H100.4V60.4H80zM100 40H130V60.4H100zM60 60H80.4V80.4H60zM80 60H100.4V80.4H80zM100 60H130V80.4H100zM40 80H60.4V100.4H40zM40 100H60.4V130H40z"/><path fill="#22a884" d="M20 40H40.4V60.4H20zM40 40H60.4V60.4H40zM20 60H40.4V80.4H20z"/><path fill="#21918c" d="M40 60H60.4V80.4H40z"/><path fill="#471d6e" d="M-30 80H0.4V100.4H-30zM0 80H20.4V100.4H0zM80 80H100.4V100.4H80zM100 80H130V100.4H100zM-30 100H0.4V130H-30zM0 100H20.4V130H0zM80 100H100.4V130H80zM100 100H130V130H100z"/></g><rect width="100" height="100" filter="url(#tx1)" opacity="0.55"/><g filter="url(#fm)"><ellipse cx="32" cy="60" rx="5.5" ry="12" fill="#87d448" transform="rotate(5 32 60)"/></g><g filter="url(#fs)"><path d="M17 20Q18 55 17 85" fill="none" stroke="#471d6e" stroke-width="2.6" stroke-linecap="round"/><ellipse cx="50" cy="47" rx="3" ry="9" fill="#dde326"/><path d="M52 25Q55 45 65 62" fill="none" stroke="#482475" stroke-width="2.6" stroke-linecap="round"/><path d="M68 10Q86 12 82 25" fill="none" stroke="#45317c" stroke-width="2.6" stroke-linecap="round"/><ellipse cx="5" cy="40" rx="2" ry="25" fill="#472a79"/><ellipse cx="40" cy="45" rx="2" ry="6" fill="#355f8d"/></g></g><rect x="0.3" y="0.3" width="99.4" height="99.4" fill="none" stroke="#1a1a2a" stroke-width="0.6" opacity="0.7"/></svg>
<svg class="im" style="left:3621.3px;top:608.2px;background:#44bf70" width="121.0" height="120.8" viewBox="0 0 100 100" preserveAspectRatio="none"><g filter="url(#v2)"><g filter="url(#fgb)"><path fill="#443780" d="M-30 -30H0.4V0.4H-30zM0 -30H20.4V0.4H0zM80 -30H100.4V0.4H80zM100 -30H130V0.4H100zM-30 0H0.4V20.4H-30zM0 0H20.4V20.4H0zM80 0H100.4V20.4H80zM100 0H130V20.4H100zM-30 60H0.4V80.4H-30zM0 60H20.4V80.4H0z"/><path fill="#39578b" d="M20 -30H40.4V0.4H20zM40 -30H60.4V0.4H40zM60 -30H80.4V0.4H60zM20 0H40.4V20.4H20zM40 0H60.4V20.4H40zM60 0H80.4V20.4H60zM-30 20H0.4V40.4H-30zM0 20H20.4V40.4H0zM80 20H100.4V40.4H80zM100 20H130V40.4H100zM-30 40H0.4V60.4H-30zM0 40H20.4V60.4H0zM20 80H40.4V100.4H20zM60 80H80.4V100.4H60zM20 100H40.4V130H20zM60 100H80.4V130H60z"/><path fill="#2c738e" d="M20 20H40.4V40.4H20zM60 20H80.4V40.4H60zM60 40H80.4V60.4H60zM60 60H80.4V80.4H60zM80 60H100.4V80.4H80zM100 60H130V80.4H100zM40 80H60.4V100.4H40zM40 100H60.4V130H40z"/><path fill="#21918c" d="M40 20H60.4V40.4H40zM80 40H100.4V60.4H80zM100 40H130V60.4H100zM40 60H60.4V80.4H40z"/><path fill="#22a884" d="M20 40H40.4V60.4H20zM20 60H40.4V80.4H20z"/><path fill="#44bf70" d="M40 40H60.4V60.4H40z"/><path fill="#471d6e" d="M-30 80H0.4V100.4H-30zM0 80H20.4V100.4H0zM80 80H100.4V100.4H80zM100 80H130V100.4H100zM-30 100H0.4V130H-30zM0 100H20.4V130H0zM80 100H100.4V130H80zM100 100H130V130H100z"/></g><rect width="100" height="100" filter="url(#tx2)" opacity="0.55"/><g filter="url(#fm)"><ellipse cx="30" cy="60" rx="5.5" ry="14" fill="#a2d937" transform="rotate(5 30 60)"/><ellipse cx="90" cy="55" rx="5" ry="8" fill="#229c88"/></g><g filter="url(#fs)"><path d="M17 20Q18 55 17 85" fill="none" stroke="#471d6e" stroke-width="2.6" stroke-linecap="round"/><ellipse cx="50" cy="48" rx="3.5" ry="11" fill="#eae525" transform="rotate(10 50 48)"/><path d="M55 25Q50 40 65 62" fill="none" stroke="#471d6e" stroke-width="2.6" stroke-linecap="round"/><path d="M68 10Q86 12 82 25" fill="none" stroke="#45317c" stroke-width="2.6" stroke-linecap="round"/><ellipse cx="58" cy="25" rx="1.6" ry="8" fill="#29ad80" transform="rotate(20 58 25)"/><ellipse cx="40" cy="48" rx="2" ry="8" fill="#355f8d" transform="rotate(10 40 48)"/></g></g><rect x="0.3" y="0.3" width="99.4" height="99.4" fill="none" stroke="#1a1a2a" stroke-width="0.6" opacity="0.7"/></svg>
<svg class="im" style="left:3228.1px;top:730.3px;background:#443780" width="121.0" height="120.8" viewBox="0 0 100 100" preserveAspectRatio="none"><g filter="url(#v3)"><g filter="url(#fgb)"><path fill="#471d6e" d="M-30 -30H0.4V0.4H-30zM0 -30H20.4V0.4H0zM-30 0H0.4V20.4H-30zM0 0H20.4V20.4H0zM-30 80H0.4V100.4H-30zM0 80H20.4V100.4H0zM80 80H100.4V100.4H80zM100 80H130V100.4H100zM-30 100H0.4V130H-30zM0 100H20.4V130H0zM80 100H100.4V130H80zM100 100H130V130H100z"/><path fill="#443780" d="M20 -30H40.4V0.4H20zM40 -30H60.4V0.4H40zM60 -30H80.4V0.4H60zM80 -30H100.4V0.4H80zM100 -30H130V0.4H100zM20 0H40.4V20.4H20zM40 0H60.4V20.4H40zM60 0H80.4V20.4H60zM80 0H100.4V20.4H80zM100 0H130V20.4H100zM20 20H40.4V40.4H20zM40 20H60.4V40.4H40zM60 20H80.4V40.4H60zM80 20H100.4V40.4H80zM100 20H130V40.4H100zM40 40H60.4V60.4H40zM60 40H80.4V60.4H60zM80 40H100.4V60.4H80zM100 40H130V60.4H100zM60 60H80.4V80.4H60zM80 60H100.4V80.4H80zM100 60H130V80.4H100zM20 80H40.4V100.4H20zM40 80H60.4V100.4H40zM60 80H80.4V100.4H60zM20 100H40.4V130H20zM40 100H60.4V130H40zM60 100H80.4V130H60z"/><path fill="#39578b" d="M-30 20H0.4V40.4H-30zM0 20H20.4V40.4H0zM-30 60H0.4V80.4H-30zM0 60H20.4V80.4H0zM20 60H40.4V80.4H20zM40 60H60.4V80.4H40z"/><path fill="#21918c" d="M-30 40H0.4V60.4H-30zM0 40H20.4V60.4H0z"/><path fill="#2c738e" d="M20 40H40.4V60.4H20z"/></g><rect width="100" height="100" filter="url(#tx3)" opacity="0.55"/><g filter="url(#fm)"><ellipse cx="60" cy="25" rx="12" ry="8" fill="#471d6e" transform="rotate(20 60 25)"/><ellipse cx="40" cy="55" rx="5" ry="12" fill="#482475"/></g><g filter="url(#fs)"><ellipse cx="2" cy="45" rx="3" ry="18" fill="#6fcd57"/><ellipse cx="27" cy="52" rx="1.5" ry="7" fill="#dde326"/><ellipse cx="26" cy="66" rx="1.2" ry="4" fill="#b0dc2f"/><ellipse cx="50" cy="38" rx="1.2" ry="6" fill="#29ad80"/><path d="M20 82Q50 96 80 70" fill="none" stroke="#2e6e8e" stroke-width="3" stroke-linecap="round"/><ellipse cx="18" cy="45" rx="4" ry="14" fill="#287d8e"/></g></g><rect x="0.3" y="0.3" width="99.4" height="99.4" fill="none" stroke="#1a1a2a" stroke-width="0.6" opacity="0.7"/></svg>
<svg class="im" style="left:3359.2px;top:730.3px;background:#39578b" width="121.0" height="120.8" viewBox="0 0 100 100" preserveAspectRatio="none"><g filter="url(#v1)"><g filter="url(#fgb)"><path fill="#443780" d="M-30 -30H0.4V0.4H-30zM0 -30H20.4V0.4H0zM-30 0H0.4V20.4H-30zM0 0H20.4V20.4H0zM40 20H60.4V40.4H40zM60 20H80.4V40.4H60zM80 20H100.4V40.4H80zM100 20H130V40.4H100zM80 40H100.4V60.4H80zM100 40H130V60.4H100zM60 60H80.4V80.4H60zM20 80H40.4V100.4H20zM20 100H40.4V130H20z"/><path fill="#471d6e" d="M20 -30H40.4V0.4H20zM40 -30H60.4V0.4H40zM60 -30H80.4V0.4H60zM80 -30H100.4V0.4H80zM100 -30H130V0.4H100zM20 0H40.4V20.4H20zM40 0H60.4V20.4H40zM60 0H80.4V20.4H60zM80 0H100.4V20.4H80zM100 0H130V20.4H100zM-30 80H0.4V100.4H-30zM0 80H20.4V100.4H0zM80 80H100.4V100.4H80zM100 80H130V100.4H100zM-30 100H0.4V130H-30zM0 100H20.4V130H0zM80 100H100.4V130H80zM100 100H130V130H100z"/><path fill="#39578b" d="M-30 20H0.4V40.4H-30zM0 20H20.4V40.4H0zM20 20H40.4V40.4H20zM20 40H40.4V60.4H20zM40 40H60.4V60.4H40zM60 40H80.4V60.4H60zM80 60H100.4V80.4H80zM100 60H130V80.4H100zM40 80H60.4V100.4H40zM60 80H80.4V100.4H60zM40 100H60.4V130H40zM60 100H80.4V130H60z"/><path fill="#44bf70" d="M-30 40H0.4V60.4H-30zM0 40H20.4V60.4H0z"/><path fill="#2c738e" d="M-30 60H0.4V80.4H-30zM0 60H20.4V80.4H0zM20 60H40.4V80.4H20zM40 60H60.4V80.4H40z"/></g><rect width="100" height="100" filter="url(#tx1)" opacity="0.55"/><g filter="url(#fm)"><ellipse cx="5" cy="50" rx="5" ry="14" fill="#eae525"/><ellipse cx="35" cy="75" rx="9" ry="9" fill="#26848d"/><ellipse cx="50" cy="12" rx="30" ry="6" fill="#460f61"/><ellipse cx="82" cy="30" rx="5" ry="5" fill="#471d6e" transform="rotate(20 82 30)"/><ellipse cx="68" cy="45" rx="5" ry="10" fill="#2a788e"/></g><g filter="url(#fs)"><ellipse cx="58" cy="60" rx="2" ry="12" fill="#450c5e"/><ellipse cx="18" cy="55" rx="2" ry="15" fill="#482475"/></g></g><rect x="0.3" y="0.3" width="99.4" height="99.4" fill="none" stroke="#1a1a2a" stroke-width="0.6" opacity="0.7"/></svg>
<svg class="im" style="left:3490.1px;top:730.3px;background:#39578b" width="121.0" height="120.8" viewBox="0 0 100 100" preserveAspectRatio="none"><g filter="url(#v2)"><g filter="url(#fgb)"><path fill="#443780" d="M-30 -30H0.4V0.4H-30zM0 -30H20.4V0.4H0zM20 -30H40.4V0.4H20zM60 -30H80.4V0.4H60zM80 -30H100.4V0.4H80zM100 -30H130V0.4H100zM-30 0H0.4V20.4H-30zM0 0H20.4V20.4H0zM20 0H40.4V20.4H20zM60 0H80.4V20.4H60zM80 0H100.4V20.4H80zM100 0H130V20.4H100zM40 20H60.4V40.4H40zM80 40H100.4V60.4H80zM100 40H130V60.4H100zM20 60H40.4V80.4H20zM80 60H100.4V80.4H80zM100 60H130V80.4H100zM20 80H40.4V100.4H20zM60 80H80.4V100.4H60zM20 100H40.4V130H20zM60 100H80.4V130H60z"/><path fill="#471d6e" d="M40 -30H60.4V0.4H40zM40 0H60.4V20.4H40zM-30 80H0.4V100.4H-30zM0 80H20.4V100.4H0zM80 80H100.4V100.4H80zM100 80H130V100.4H100zM-30 100H0.4V130H-30zM0 100H20.4V130H0zM80 100H100.4V130H80zM100 100H130V130H100z"/><path fill="#2c738e" d="M-30 20H0.4V40.4H-30zM0 20H20.4V40.4H0z"/><path fill="#39578b" d="M20 20H40.4V40.4H20zM60 20H80.4V40.4H60zM80 20H100.4V40.4H80zM100 20H130V40.4H100zM20 40H40.4V60.4H20zM40 40H60.4V60.4H40zM60 40H80.4V60.4H60zM-30 60H0.4V80.4H-30zM0 60H20.4V80.4H0zM40 60H60.4V80.4H40zM60 60H80.4V80.4H60zM40 80H60.4V100.4H40zM40 100H60.4V130H40z"/><path fill="#22a884" d="M-30 40H0.4V60.4H-30zM0 40H20.4V60.4H0z"/></g><rect width="100" height="100" filter="url(#tx2)" opacity="0.55"/><g filter="url(#fm)"><ellipse cx="55" cy="50" rx="5" ry="8" fill="#25878d"/></g><g filter="url(#fs)"><ellipse cx="1" cy="45" rx="2" ry="20" fill="#cae126"/><ellipse cx="18" cy="40" rx="3" ry="22" fill="#21918c" transform="rotate(-5 18 40)"/><ellipse cx="92" cy="28" rx="8" ry="4" fill="#21968a"/><path d="M30 10Q25 50 35 90" fill="none" stroke="#461668" stroke-width="3" stroke-linecap="round"/><path d="M60 20Q50 35 55 45" fill="none" stroke="#482475" stroke-width="2.6" stroke-linecap="round"/><path d="M75 45Q90 50 96 60" fill="none" stroke="#482475" stroke-width="2.6" stroke-linecap="round"/><path d="M55 75Q70 70 75 60" fill="none" stroke="#287d8e" stroke-width="2.6" stroke-linecap="round"/><ellipse cx="45" cy="25" rx="8" ry="3" fill="#2a788e" transform="rotate(-30 45 25)"/></g></g><rect x="0.3" y="0.3" width="99.4" height="99.4" fill="none" stroke="#1a1a2a" stroke-width="0.6" opacity="0.7"/></svg>
<svg class="im" style="left:3621.3px;top:730.3px;background:#443780" width="121.0" height="120.8" viewBox="0 0 100 100" preserveAspectRatio="none"><g filter="url(#v3)"><g filter="url(#fgb)"><path fill="#471d6e" d="M-30 -30H0.4V0.4H-30zM0 -30H20.4V0.4H0zM80 -30H100.4V0.4H80zM100 -30H130V0.4H100zM-30 0H0.4V20.4H-30zM0 0H20.4V20.4H0zM80 0H100.4V20.4H80zM100 0H130V20.4H100zM-30 80H0.4V100.4H-30zM0 80H20.4V100.4H0zM80 80H100.4V100.4H80zM100 80H130V100.4H100zM-30 100H0.4V130H-30zM0 100H20.4V130H0zM80 100H100.4V130H80zM100 100H130V130H100z"/><path fill="#39578b" d="M20 -30H40.4V0.4H20zM40 -30H60.4V0.4H40zM60 -30H80.4V0.4H60zM20 0H40.4V20.4H20zM40 0H60.4V20.4H40zM60 0H80.4V20.4H60zM20 20H40.4V40.4H20zM60 20H80.4V40.4H60zM60 40H80.4V60.4H60zM40 60H60.4V80.4H40zM60 60H80.4V80.4H60zM20 80H40.4V100.4H20zM40 80H60.4V100.4H40zM20 100H40.4V130H20zM40 100H60.4V130H40z"/><path fill="#443780" d="M-30 20H0.4V40.4H-30zM0 20H20.4V40.4H0zM40 20H60.4V40.4H40zM80 20H100.4V40.4H80zM100 20H130V40.4H100zM40 40H60.4V60.4H40zM80 40H100.4V60.4H80zM100 40H130V60.4H100zM80 60H100.4V80.4H80zM100 60H130V80.4H100zM60 80H80.4V100.4H60zM60 100H80.4V130H60z"/><path fill="#22a884" d="M-30 40H0.4V60.4H-30zM0 40H20.4V60.4H0z"/><path fill="#21918c" d="M20 40H40.4V60.4H20zM20 60H40.4V80.4H20z"/><path fill="#2c738e" d="M-30 60H0.4V80.4H-30zM0 60H20.4V80.4H0z"/></g><rect width="100" height="100" filter="url(#tx3)" opacity="0.55"/><g filter="url(#fm)"><ellipse cx="4" cy="58" rx="5" ry="12" fill="#bddf26"/><ellipse cx="28" cy="78" rx="5" ry="6" fill="#4fc36a"/><ellipse cx="75" cy="55" rx="6" ry="10" fill="#482475"/></g><g filter="url(#fs)"><ellipse cx="24" cy="55" rx="3" ry="12" fill="#dde326"/><ellipse cx="57" cy="40" rx="1.6" ry="8" fill="#29ad80"/><ellipse cx="14" cy="62" rx="2" ry="8" fill="#471d6e"/><ellipse cx="45" cy="50" rx="4" ry="18" fill="#471d6e"/><path d="M50 15Q80 15 90 40" fill="none" stroke="#2a788e" stroke-width="4" stroke-linecap="round"/><path d="M45 85Q65 90 75 70" fill="none" stroke="#2a788e" stroke-width="3" stroke-linecap="round"/></g></g><rect x="0.3" y="0.3" width="99.4" height="99.4" fill="none" stroke="#1a1a2a" stroke-width="0.6" opacity="0.7"/></svg>
<svg class="im" style="left:3228.1px;top:852.0px;background:#21918c" width="121.0" height="120.8" viewBox="0 0 100 100" preserveAspectRatio="none"><g filter="url(#v1)"><g filter="url(#fgb)"><path fill="#443780" d="M-30 -30H0.4V0.4H-30zM0 -30H20.4V0.4H0zM20 -30H40.4V0.4H20zM80 -30H100.4V0.4H80zM100 -30H130V0.4H100zM-30 0H0.4V20.4H-30zM0 0H20.4V20.4H0zM20 0H40.4V20.4H20zM80 0H100.4V20.4H80zM100 0H130V20.4H100zM-30 20H0.4V40.4H-30zM0 20H20.4V40.4H0zM20 20H40.4V40.4H20zM80 80H100.4V100.4H80zM100 80H130V100.4H100zM80 100H100.4V130H80zM100 100H130V130H100z"/><path fill="#39578b" d="M40 -30H60.4V0.4H40zM60 -30H80.4V0.4H60zM40 0H60.4V20.4H40zM60 0H80.4V20.4H60zM40 20H60.4V40.4H40zM60 20H80.4V40.4H60zM-30 40H0.4V60.4H-30zM0 40H20.4V60.4H0zM20 40H40.4V60.4H20zM60 40H80.4V60.4H60zM-30 60H0.4V80.4H-30zM0 60H20.4V80.4H0zM20 60H40.4V80.4H20zM60 60H80.4V80.4H60zM-30 80H0.4V100.4H-30zM0 80H20.4V100.4H0zM20 80H40.4V100.4H20zM40 80H60.4V100.4H40zM60 80H80.4V100.4H60zM-30 100H0.4V130H-30zM0 100H20.4V130H0zM20 100H40.4V130H20zM40 100H60.4V130H40zM60 100H80.4V130H60z"/><path fill="#2c738e" d="M80 20H100.4V40.4H80zM100 20H130V40.4H100zM40 60H60.4V80.4H40zM80 60H100.4V80.4H80zM100 60H130V80.4H100z"/><path fill="#21918c" d="M40 40H60.4V60.4H40zM80 40H100.4V60.4H80zM100 40H130V60.4H100z"/></g><rect width="100" height="100" filter="url(#tx1)" opacity="0.55"/><g filter="url(#fm)"><ellipse cx="50" cy="56" rx="9" ry="14" fill="#229f87" transform="rotate(15 50 56)"/><ellipse cx="85" cy="45" rx="6" ry="10" fill="#21918c"/></g><g filter="url(#fs)"><ellipse cx="98" cy="42" rx="2" ry="8" fill="#dde326"/><path d="M15 15Q40 10 60 25" fill="none" stroke="#482475" stroke-width="2.6" stroke-linecap="round"/><path d="M20 40Q25 70 15 90" fill="none" stroke="#45317c" stroke-width="3" stroke-linecap="round"/><ellipse cx="65" cy="55" rx="3" ry="10" fill="#45317c" transform="rotate(20 65 55)"/><ellipse cx="75" cy="80" rx="6" ry="3" fill="#423e83"/><ellipse cx="22" cy="20" rx="3" ry="3" fill="#482475"/></g></g><rect x="0.3" y="0.3" width="99.4" height="99.4" fill="none" stroke="#1a1a2a" stroke-width="0.6" opacity="0.7"/></svg>
<svg class="im" style="left:3359.2px;top:852.0px;background:#2c738e" width="121.0" height="120.8" viewBox="0 0 100 100" preserveAspectRatio="none"><g filter="url(#v2)"><g filter="url(#fgb)"><path fill="#471d6e" d="M-30 -30H0.4V0.4H-30zM0 -30H20.4V0.4H0zM-30 0H0.4V20.4H-30zM0 0H20.4V20.4H0zM-30 80H0.4V100.4H-30zM0 80H20.4V100.4H0zM-30 100H0.4V130H-30zM0 100H20.4V130H0z"/><path fill="#443780" d="M20 -30H40.4V0.4H20zM80 -30H100.4V0.4H80zM100 -30H130V0.4H100zM20 0H40.4V20.4H20zM80 0H100.4V20.4H80zM100 0H130V20.4H100zM-30 20H0.4V40.4H-30zM0 20H20.4V40.4H0zM20 40H40.4V60.4H20zM80 80H100.4V100.4H80zM100 80H130V100.4H100zM80 100H100.4V130H80zM100 100H130V130H100z"/><path fill="#2c738e" d="M40 -30H60.4V0.4H40zM60 -30H80.4V0.4H60zM40 0H60.4V20.4H40zM60 0H80.4V20.4H60zM20 20H40.4V40.4H20zM60 20H80.4V40.4H60zM80 20H100.4V40.4H80zM100 20H130V40.4H100zM40 40H60.4V60.4H40zM-30 60H0.4V80.4H-30zM0 60H20.4V80.4H0zM40 60H60.4V80.4H40zM80 60H100.4V80.4H80zM100 60H130V80.4H100zM20 80H40.4V100.4H20zM40 80H60.4V100.4H40zM60 80H80.4V100.4H60zM20 100H40.4V130H20zM40 100H60.4V130H40zM60 100H80.4V130H60z"/><path fill="#21918c" d="M40 20H60.4V40.4H40zM-30 40H0.4V60.4H-30zM0 40H20.4V60.4H0zM60 60H80.4V80.4H60z"/><path fill="#39578b" d="M60 40H80.4V60.4H60zM20 60H40.4V80.4H20z"/><path fill="#44bf70" d="M80 40H100.4V60.4H80zM100 40H130V60.4H100z"/></g><rect width="100" height="100" filter="url(#tx2)" opacity="0.55"/><g filter="url(#fm)"><ellipse cx="28" cy="50" rx="5" ry="15" fill="#482475" transform="rotate(10 28 50)"/><ellipse cx="72" cy="72" rx="8" ry="6" fill="#22a884"/></g><g filter="url(#fs)"><ellipse cx="97" cy="52" rx="4" ry="12" fill="#eae525"/><ellipse cx="13" cy="62" rx="3" ry="9" fill="#bddf26"/><ellipse cx="65" cy="50" rx="2" ry="6" fill="#471d6e"/><ellipse cx="20" cy="70" rx="2" ry="6" fill="#460f61"/><ellipse cx="50" cy="45" rx="3" ry="8" fill="#414487"/></g></g><rect x="0.3" y="0.3" width="99.4" height="99.4" fill="none" stroke="#1a1a2a" stroke-width="0.6" opacity="0.7"/></svg>
<svg class="im" style="left:3490.1px;top:852.0px;background:#22a884" width="121.0" height="120.8" viewBox="0 0 100 100" preserveAspectRatio="none"><g filter="url(#v3)"><g filter="url(#fgb)"><path fill="#471d6e" d="M-30 -30H0.4V0.4H-30zM0 -30H20.4V0.4H0zM-30 0H0.4V20.4H-30zM0 0H20.4V20.4H0zM80 80H100.4V100.4H80zM100 80H130V100.4H100zM80 100H100.4V130H80zM100 100H130V130H100z"/><path fill="#443780" d="M20 -30H40.4V0.4H20zM80 -30H100.4V0.4H80zM100 -30H130V0.4H100zM20 0H40.4V20.4H20zM80 0H100.4V20.4H80zM100 0H130V20.4H100zM-30 20H0.4V40.4H-30zM0 20H20.4V40.4H0zM-30 40H0.4V60.4H-30zM0 40H20.4V60.4H0zM-30 80H0.4V100.4H-30zM0 80H20.4V100.4H0zM20 80H40.4V100.4H20zM-30 100H0.4V130H-30zM0 100H20.4V130H0zM20 100H40.4V130H20z"/><path fill="#39578b" d="M40 -30H60.4V0.4H40zM60 -30H80.4V0.4H60zM40 0H60.4V20.4H40zM60 0H80.4V20.4H60zM20 20H40.4V40.4H20zM60 40H80.4V60.4H60zM-30 60H0.4V80.4H-30zM0 60H20.4V80.4H0zM40 80H60.4V100.4H40zM60 80H80.4V100.4H60zM40 100H60.4V130H40zM60 100H80.4V130H60z"/><path fill="#2c738e" d="M40 20H60.4V40.4H40zM60 20H80.4V40.4H60zM20 60H40.4V80.4H20zM60 60H80.4V80.4H60zM80 60H100.4V80.4H80zM100 60H130V80.4H100z"/><path fill="#21918c" d="M80 20H100.4V40.4H80zM100 20H130V40.4H100zM20 40H40.4V60.4H20zM40 60H60.4V80.4H40z"/><path fill="#22a884" d="M40 40H60.4V60.4H40z"/><path fill="#44bf70" d="M80 40H100.4V60.4H80zM100 40H130V60.4H100z"/></g><rect width="100" height="100" filter="url(#tx3)" opacity="0.55"/><g filter="url(#fs)"><ellipse cx="90" cy="38" rx="6" ry="2" fill="#eae525"/><ellipse cx="88" cy="50" rx="7" ry="2" fill="#b0dc2f"/><ellipse cx="45" cy="52" rx="12" ry="3" fill="#b0dc2f"/><ellipse cx="42" cy="67" rx="6" ry="2.5" fill="#b0dc2f"/><ellipse cx="88" cy="28" rx="5" ry="2" fill="#4fc36a"/><ellipse cx="63" cy="53" rx="2.5" ry="5" fill="#461668"/><path d="M12 25Q22 50 20 80" fill="none" stroke="#482475" stroke-width="3" stroke-linecap="round"/><ellipse cx="50" cy="44" rx="10" ry="1.5" fill="#3b528a"/><ellipse cx="45" cy="60" rx="10" ry="1.5" fill="#3b528a"/></g></g><rect x="0.3" y="0.3" width="99.4" height="99.4" fill="none" stroke="#1a1a2a" stroke-width="0.6" opacity="0.7"/></svg>
<svg class="im" style="left:3621.3px;top:852.0px;background:#44bf70" width="121.0" height="120.8" viewBox="0 0 100 100" preserveAspectRatio="none"><g filter="url(#v1)"><g filter="url(#fgb)"><path fill="#471d6e" d="M-30 -30H0.4V0.4H-30zM0 -30H20.4V0.4H0zM-30 0H0.4V20.4H-30zM0 0H20.4V20.4H0z"/><path fill="#443780" d="M20 -30H40.4V0.4H20zM80 -30H100.4V0.4H80zM100 -30H130V0.4H100zM20 0H40.4V20.4H20zM80 0H100.4V20.4H80zM100 0H130V20.4H100zM-30 20H0.4V40.4H-30zM0 20H20.4V40.4H0zM80 80H100.4V100.4H80zM100 80H130V100.4H100zM80 100H100.4V130H80zM100 100H130V130H100z"/><path fill="#39578b" d="M40 -30H60.4V0.4H40zM60 -30H80.4V0.4H60zM40 0H60.4V20.4H40zM60 0H80.4V20.4H60zM20 20H40.4V40.4H20zM-30 40H0.4V60.4H-30zM0 40H20.4V60.4H0zM20 40H40.4V60.4H20zM20 60H40.4V80.4H20zM-30 80H0.4V100.4H-30zM0 80H20.4V100.4H0zM-30 100H0.4V130H-30zM0 100H20.4V130H0z"/><path fill="#2c738e" d="M40 20H60.4V40.4H40zM-30 60H0.4V80.4H-30zM0 60H20.4V80.4H0zM40 60H60.4V80.4H40zM20 80H40.4V100.4H20zM60 80H80.4V100.4H60zM20 100H40.4V130H20zM60 100H80.4V130H60z"/><path fill="#21918c" d="M60 20H80.4V40.4H60zM80 20H100.4V40.4H80zM100 20H130V40.4H100zM60 40H80.4V60.4H60zM40 80H60.4V100.4H40zM40 100H60.4V130H40z"/><path fill="#44bf70" d="M40 40H60.4V60.4H40zM80 40H100.4V60.4H80zM100 40H130V60.4H100z"/><path fill="#22a884" d="M60 60H80.4V80.4H60zM80 60H100.4V80.4H80zM100 60H130V80.4H100z"/></g><rect width="100" height="100" filter="url(#tx1)" opacity="0.55"/><g filter="url(#fm)"><ellipse cx="50" cy="50" rx="6" ry="8" fill="#eae525"/><ellipse cx="88" cy="50" rx="9" ry="18" fill="#4fc36a"/></g><g filter="url(#fs)"><ellipse cx="31" cy="42" rx="3.5" ry="3.5" fill="#460f61"/><path d="M15 40Q12 60 22 75Q25 85 20 88" fill="none" stroke="#471d6e" stroke-width="2.6" stroke-linecap="round"/><ellipse cx="13" cy="45" rx="1" ry="5" fill="#b0dc2f"/><ellipse cx="65" cy="52" rx="2" ry="5" fill="#45317c" transform="rotate(20 65 52)"/><ellipse cx="62" cy="62" rx="2" ry="4" fill="#b0dc2f"/><ellipse cx="20" cy="58" rx="2" ry="10" fill="#5fc860" transform="rotate(-10 20 58)"/></g></g><rect x="0.3" y="0.3" width="99.4" height="99.4" fill="none" stroke="#1a1a2a" stroke-width="0.6" opacity="0.7"/></svg>
<svg style="left:0;top:0" width="1" height="1"><rect x="1306.2" y="741.6" width="266.6" height="84.4" rx="11" fill="none" stroke="#a5281f" stroke-width="2.5" /><rect x="1308.6" y="857.9" width="263.7" height="81.5" rx="11" fill="none" stroke="#6aa84f" stroke-width="2.6" stroke-dasharray="3.4 3.4"/><rect x="1651.0" y="642.1" width="655.9" height="178.5" rx="22" fill="#eff2f9" stroke="#000" stroke-width="1.6" /><path d="M1683 734.6H1674.7V697.6H2180.2V706" stroke="#000" stroke-width="2.2" fill="none"/><path d="M2180.2 714.2L2176 705H2184.4Z" fill="#000"/><rect x="1682.8" y="703.7" width="61.4" height="61.4" rx="0" fill="#e2b18b" stroke="#000" stroke-width="1.6" /><rect x="1699.7" y="720.5" width="61.4" height="61.4" rx="0" fill="#e2b18b" stroke="#000" stroke-width="1.6" /><rect x="1716.6" y="737.3" width="61.4" height="61.4" rx="0" fill="#e2b18b" stroke="#000" stroke-width="1.6" /><rect x="1799.7" y="712.9" width="47.6" height="47.6" rx="0" fill="#9ba9d9" stroke="#000" stroke-width="1.6" /><rect x="1812.5" y="721.6" width="47.6" height="47.6" rx="0" fill="#9ba9d9" stroke="#000" stroke-width="1.6" /><rect x="1825.4" y="730.4" width="47.6" height="47.6" rx="0" fill="#9ba9d9" stroke="#000" stroke-width="1.6" /><rect x="1838.2" y="739.1" width="47.6" height="47.6" rx="0" fill="#9ba9d9" stroke="#000" stroke-width="1.6" /><rect x="1904.7" y="703.7" width="61.4" height="61.4" rx="0" fill="#e2b18b" stroke="#000" stroke-width="1.6" /><rect x="1921.6" y="720.5" width="61.4" height="61.4" rx="0" fill="#e2b18b" stroke="#000" stroke-width="1.6" /><rect x="1938.5" y="737.3" width="61.4" height="61.4" rx="0" fill="#e2b18b" stroke="#000" stroke-width="1.6" /><rect x="2015.2" y="712.9" width="47.6" height="47.6" rx="0" fill="#9ba9d9" stroke="#000" stroke-width="1.6" /><rect x="2028.0" y="721.6" width="47.6" height="47.6" rx="0" fill="#9ba9d9" stroke="#000" stroke-width="1.6" /><rect x="2040.9" y="730.4" width="47.6" height="47.6" rx="0" fill="#9ba9d9" stroke="#000" stroke-width="1.6" /><rect x="2053.8" y="739.1" width="47.6" height="47.6" rx="0" fill="#9ba9d9" stroke="#000" stroke-width="1.6" /><rect x="2148.3" y="714.4" width="61.3" height="61.3" rx="0" fill="#dfb0d1" stroke="#000" stroke-width="1.6" /><rect x="2160.0" y="724.3" width="61.3" height="61.3" rx="0" fill="#dfb0d1" stroke="#000" stroke-width="1.6" /><rect x="2171.7" y="734.2" width="61.3" height="61.3" rx="0" fill="#dfb0d1" stroke="#000" stroke-width="1.6" /><path d="M1780.9 777.4L1804.3 777.4" stroke="#000" stroke-width="2.2" fill="none" /><path d="M1811.3 777.4L1803.3 780.9L1803.3 773.9Z" fill="#000"/><path d="M1889.3 777.4L1913.0 777.4" stroke="#000" stroke-width="2.2" fill="none" /><path d="M1920.0 777.4L1912.0 780.9L1912.0 773.9Z" fill="#000"/><path d="M2002.5 777.4L2026.4 777.4" stroke="#000" stroke-width="2.2" fill="none" /><path d="M2033.4 777.4L2025.4 780.9L2025.4 773.9Z" fill="#000"/><path d="M2105.1 777.4L2141.6 777.4" stroke="#000" stroke-width="2.2" fill="none" /><path d="M2148.6 777.4L2140.6 780.9L2140.6 773.9Z" fill="#000"/><path d="M1652.1 885.1L2113 916.9V1014.6L1652.1 1047Z" fill="#f6e6f5" stroke="#444" stroke-width="1"/><path d="M1684.8 965.2L1661.7 941.8000000000001H1720.2L1743.3 965.2Z" fill="#aab7e0" stroke="#000" stroke-width="1.5" stroke-linejoin="round"/><path d="M1684.8 965.2L1661.7 941.8000000000001V996.2L1684.8 1019.6Z" fill="#7f8db6" stroke="#000" stroke-width="1.5" stroke-linejoin="round"/><rect x="1684.8" y="965.2" width="58.5" height="54.4" rx="0" fill="#9ba9d9" stroke="#000" stroke-width="1.5" /><path d="M1804.9 998.7L1746.5 942.0H1769.6L1828 998.7Z" fill="#dfe4f3" stroke="#000" stroke-width="1.5" stroke-linejoin="round"/><path d="M1804.9 998.7L1746.5 942.0V962.3L1804.9 1019Z" fill="#b5b9c8" stroke="#000" stroke-width="1.5" stroke-linejoin="round"/><rect x="1804.9" y="998.7" width="23.1" height="20.3" rx="0" fill="#e3e7f5" stroke="#000" stroke-width="1.5" /><path d="M1850.6 969.8L1833.8 952.5H1873.4L1890.2 969.8Z" fill="#aab7e0" stroke="#000" stroke-width="1.5" stroke-linejoin="round"/><path d="M1850.6 969.8L1833.8 952.5V991.6L1850.6 1008.9Z" fill="#7f8db6" stroke="#000" stroke-width="1.5" stroke-linejoin="round"/><rect x="1850.6" y="969.8" width="39.6" height="39.1" rx="0" fill="#9ba9d9" stroke="#000" stroke-width="1.5" /><path d="M1943.2 994.4L1892.2 944.4H1910.1L1961.1 994.4Z" fill="#dfe4f3" stroke="#000" stroke-width="1.5" stroke-linejoin="round"/><path d="M1943.2 994.4L1892.2 944.4V960.9L1943.2 1010.9Z" fill="#b5b9c8" stroke="#000" stroke-width="1.5" stroke-linejoin="round"/><rect x="1943.2" y="994.4" width="17.9" height="16.5" rx="0" fill="#e3e7f5" stroke="#000" stroke-width="1.5" /><path d="M1981.3 976.8L1969.8 965.1999999999999H1996.7L2008.2 976.8Z" fill="#aab7e0" stroke="#000" stroke-width="1.5" stroke-linejoin="round"/><path d="M1981.3 976.8L1969.8 965.1999999999999V992.1L1981.3 1003.7Z" fill="#7f8db6" stroke="#000" stroke-width="1.5" stroke-linejoin="round"/><rect x="1981.3" y="976.8" width="26.9" height="26.9" rx="0" fill="#9ba9d9" stroke="#000" stroke-width="1.5" /><path d="M2053.1 992.1L2013.1999999999998 953.0H2029.1L2069 992.1Z" fill="#dfe4f3" stroke="#000" stroke-width="1.5" stroke-linejoin="round"/><path d="M2053.1 992.1L2013.1999999999998 953.0V966.0L2053.1 1005.1Z" fill="#b5b9c8" stroke="#000" stroke-width="1.5" stroke-linejoin="round"/><rect x="2053.1" y="992.1" width="15.9" height="13.0" rx="0" fill="#e3e7f5" stroke="#000" stroke-width="1.5" /><path d="M2086.3 973.3L2076.8 966.0H2093.3L2102.8 973.3Z" fill="#aab7e0" stroke="#000" stroke-width="1.5" stroke-linejoin="round"/><path d="M2086.3 973.3L2076.8 966.0V986.8000000000001L2086.3 994.1Z" fill="#7f8db6" stroke="#000" stroke-width="1.5" stroke-linejoin="round"/><rect x="2086.3" y="973.3" width="16.5" height="20.8" rx="0" fill="#9ba9d9" stroke="#000" stroke-width="1.5" /><path d="M1745.6 983.4L1761.0 983.4" stroke="#000" stroke-width="2.2" fill="none" /><path d="M1767.5 983.4L1760.0 986.6L1760.0 980.1Z" fill="#000"/><path d="M1812.1 981.0L1826.9 981.0" stroke="#000" stroke-width="2.2" fill="none" /><path d="M1833.4 981.0L1825.9 984.2L1825.9 977.8Z" fill="#000"/><path d="M1891.7 983.4L1905.7 983.4" stroke="#000" stroke-width="2.2" fill="none" /><path d="M1912.2 983.4L1904.7 986.6L1904.7 980.1Z" fill="#000"/><path d="M1948.0 982.5L1963.3 982.5" stroke="#000" stroke-width="2.2" fill="none" /><path d="M1969.8 982.5L1962.3 985.8L1962.3 979.2Z" fill="#000"/><path d="M2009.7 983.4L2022.8 983.4" stroke="#000" stroke-width="2.2" fill="none" /><path d="M2029.3 983.4L2021.8 986.6L2021.8 980.1Z" fill="#000"/><path d="M2058.0 979.6L2070.3 979.6" stroke="#000" stroke-width="2.2" fill="none" /><path d="M2076.8 979.6L2069.3 982.9L2069.3 976.4Z" fill="#000"/><path d="M2113.5 962.6L2125.1 962.6" stroke="#000" stroke-width="2.2" fill="none" /><path d="M2131.6 962.6L2124.1 965.9L2124.1 959.4Z" fill="#000"/><path d="M2160.6 962.6L2175.1 962.6" stroke="#000" stroke-width="2.2" fill="none" /><path d="M2181.6 962.6L2174.1 965.9L2174.1 959.4Z" fill="#000"/><path d="M2225.6 958.9L2249.7 958.9" stroke="#000" stroke-width="2.2" fill="none" /><path d="M2256.2 958.9L2248.7 962.1L2248.7 955.6Z" fill="#000"/><rect x="2132.3" y="929.9" width="27.5" height="64.2" rx="5" fill="#d9d9d9" stroke="#222" stroke-width="1.5" /><rect x="2256.8" y="923.6" width="28.4" height="74.3" rx="5" fill="#d9d9d9" stroke="#222" stroke-width="1.5" /><path d="M2199.5 938.6L1756.9 801.3" stroke="#000" stroke-width="2.4" fill="none" /><path d="M1749.3 798.9L1759.1 797.7L1756.7 805.4Z" fill="#000"/><path d="M2200.5 938.2L1977.4 803.0" stroke="#000" stroke-width="2.4" fill="none" /><path d="M1970.6 798.9L1980.4 800.1L1976.2 807.0Z" fill="#000"/><path d="M2203.6 939.0L2203.6 804.0" stroke="#000" stroke-width="2.4" fill="none" /><path d="M2203.6 796.0L2207.6 805.0L2199.6 805.0Z" fill="#000"/><circle cx="2203.6" cy="960.3" r="20.6" fill="#fff" stroke="#000" stroke-width="2.4"/><path d="M1573.5 783.5L1642.0 737.3" stroke="#a5281f" stroke-width="3.3" fill="none" /><path d="M1650.3 731.7L1644.0 742.0L1638.4 733.7Z" fill="#a5281f"/><path d="M1573.5 783.5L1648.0 954.0" stroke="#a5281f" stroke-width="3.3" fill="none" /><path d="M1652.0 963.2L1643.0 955.1L1652.2 951.1Z" fill="#a5281f"/><path d="M1573.0 898.0L1646.0 746.5" stroke="#6aa84f" stroke-width="3.6" fill="none" stroke-dasharray="3.4 3.4"/><path d="M1650.3 737.5L1650.0 749.6L1641.0 745.2Z" fill="#6aa84f"/><path d="M1573.0 898.0L1644.3 956.8" stroke="#6aa84f" stroke-width="3.6" fill="none" stroke-dasharray="3.4 3.4"/><path d="M1652.0 963.2L1640.3 960.1L1646.7 952.3Z" fill="#6aa84f"/><rect x="2354.3" y="647.6" width="193.5" height="85.0" rx="13" fill="none" stroke="#a5281f" stroke-width="2.5" /><rect x="2354.9" y="743.1" width="192.3" height="78.6" rx="13" fill="none" stroke="#6aa84f" stroke-width="2.6" stroke-dasharray="3.4 3.4"/><path d="M2306.9 731.2L2346.0 696.4" stroke="#a5281f" stroke-width="3.3" fill="none" /><path d="M2353.5 689.8L2348.6 700.8L2342.0 693.4Z" fill="#a5281f"/><path d="M2306.9 731.2L2346.6 772.8" stroke="#6aa84f" stroke-width="3.6" fill="none" stroke-dasharray="3.4 3.4"/><path d="M2353.5 780.0L2342.3 775.5L2349.5 768.6Z" fill="#6aa84f"/><path d="M2285.2 960.3L2323.4 923.8" stroke="#a5281f" stroke-width="3.3" fill="none" /><path d="M2330.6 916.9L2326.1 928.1L2319.2 920.9Z" fill="#a5281f"/><path d="M2285.2 960.3L2324.6 992.5" stroke="#6aa84f" stroke-width="3.6" fill="none" stroke-dasharray="3.4 3.4"/><path d="M2332.3 998.8L2320.6 995.7L2326.9 988.0Z" fill="#6aa84f"/><path d="M1675.6 683.2L1677.6 682.0L1679.6 684.4L1681.6 682.0L1683.6 684.4L1685.6 682.0L1687.6 684.4L1689.6 682.0L1691.6 684.4L1693.6 682.0L1695.6 684.4L1697.6 682.0L1699.6 684.4L1701.6 682.0L1703.6 684.4L1705.6 682.0L1707.6 684.4L1709.6 682.0L1711.6 684.4L1713.6 682.0L1715.6 684.4L1717.6 682.0L1719.6 684.4L1721.6 682.0L1723.6 684.4L1725.6 682.0L1727.6 684.4L1729.6 682.0L1731.6 684.4L1733.6 682.0L1735.6 684.4L1737.6 682.0L1739.6 684.4L1741.6 682.0L1743.6 684.4L1745.6 682.0L1747.6 684.4" stroke="#d9534f" stroke-width="0.8" fill="none"/><path d="M1902.7 683.2L1904.7 682.0L1906.7 684.4L1908.7 682.0L1910.7 684.4L1912.7 682.0L1914.7 684.4L1916.7 682.0L1918.7 684.4L1920.7 682.0L1922.7 684.4L1924.7 682.0L1926.7 684.4L1928.7 682.0L1930.7 684.4L1932.7 682.0L1934.7 684.4L1936.7 682.0L1938.7 684.4L1940.7 682.0L1942.7 684.4L1944.7 682.0L1946.7 684.4L1948.7 682.0L1950.7 684.4L1952.7 682.0L1954.7 684.4L1956.7 682.0L1958.7 684.4L1960.7 682.0L1962.7 684.4L1964.7 682.0L1966.7 684.4L1968.7 682.0L1970.7 684.4L1972.7 682.0L1974.7 684.4" stroke="#d9534f" stroke-width="0.8" fill="none"/><path d="M2165 683.2L2167.0 682.0L2169.0 684.4L2171.0 682.0L2173.0 684.4L2175.0 682.0L2177.0 684.4L2179.0 682.0L2181.0 684.4L2183.0 682.0L2185.0 684.4L2187.0 682.0L2189.0 684.4L2191.0 682.0L2193.0 684.4L2195.0 682.0L2197.0 684.4L2199.0 682.0L2201.0 684.4L2203.0 682.0L2205.0 684.4L2207.0 682.0L2209.0 684.4L2211.0 682.0L2213.0 684.4L2215.0 682.0L2217.0 684.4L2219.0 682.0L2221.0 684.4" stroke="#d9534f" stroke-width="0.8" fill="none"/><rect x="1460.0" y="779.2" width="5.2" height="5.2" fill="#000"/><rect x="1468.8" y="779.2" width="5.2" height="5.2" fill="#000"/><rect x="1477.6" y="779.2" width="5.2" height="5.2" fill="#000"/><rect x="1460.0" y="894.0" width="5.2" height="5.2" fill="#000"/><rect x="1468.8" y="894.0" width="5.2" height="5.2" fill="#000"/><rect x="1477.6" y="894.0" width="5.2" height="5.2" fill="#000"/><rect x="2504.2" y="687.8" width="5.2" height="5.2" fill="#000"/><rect x="2513.0" y="687.8" width="5.2" height="5.2" fill="#000"/><rect x="2521.8" y="687.8" width="5.2" height="5.2" fill="#000"/><rect x="2504.2" y="785.6" width="5.2" height="5.2" fill="#000"/><rect x="2513.0" y="785.6" width="5.2" height="5.2" fill="#000"/><rect x="2521.8" y="785.6" width="5.2" height="5.2" fill="#000"/><path d="M2484.8 617.5Q2508 609.5 2531 617.5" stroke="#000" stroke-width="1.6" fill="none"/></svg>
<svg class="im" style="left:1316.6px;top:754.6px;background:#39578b" width="56.6" height="55.8" viewBox="0 0 100 100" preserveAspectRatio="none"><g><g filter="url(#fgc)"><path fill="#45085b" d="M-30 -30H0.4V0.4H-30zM0 -30H20.4V0.4H0zM20 -30H40.4V0.4H20zM40 -30H60.4V0.4H40zM60 -30H80.4V0.4H60zM80 -30H100.4V0.4H80zM100 -30H130V0.4H100zM-30 0H0.4V20.4H-30zM0 0H20.4V20.4H0zM20 0H40.4V20.4H20zM40 0H60.4V20.4H40zM60 0H80.4V20.4H60zM80 0H100.4V20.4H80zM100 0H130V20.4H100z"/><path fill="#471d6e" d="M-30 20H0.4V40.4H-30zM0 20H20.4V40.4H0zM20 20H40.4V40.4H20zM40 20H60.4V40.4H40zM60 20H80.4V40.4H60zM80 20H100.4V40.4H80zM100 20H130V40.4H100zM-30 40H0.4V60.4H-30zM0 40H20.4V60.4H0zM80 40H100.4V60.4H80zM100 40H130V60.4H100zM-30 80H0.4V100.4H-30zM0 80H20.4V100.4H0zM40 80H60.4V100.4H40zM80 80H100.4V100.4H80zM100 80H130V100.4H100zM-30 100H0.4V130H-30zM0 100H20.4V130H0zM40 100H60.4V130H40zM80 100H100.4V130H80zM100 100H130V130H100z"/><path fill="#443780" d="M20 40H40.4V60.4H20zM60 40H80.4V60.4H60zM-30 60H0.4V80.4H-30zM0 60H20.4V80.4H0zM20 60H40.4V80.4H20zM60 60H80.4V80.4H60zM80 60H100.4V80.4H80zM100 60H130V80.4H100zM20 80H40.4V100.4H20zM60 80H80.4V100.4H60zM20 100H40.4V130H20zM60 100H80.4V130H60z"/><path fill="#39578b" d="M40 40H60.4V60.4H40zM40 60H60.4V80.4H40z"/></g><g filter="url(#fs)"><path d="M27 57Q21 72 30 82Q40 90 49 74" fill="none" stroke="#471d6e" stroke-width="1.6" stroke-linecap="round"/><path d="M73 57Q79 72 70 82Q60 90 51 74" fill="none" stroke="#471d6e" stroke-width="1.6" stroke-linecap="round"/><ellipse cx="24.3" cy="70" rx="1" ry="4.5" fill="#eae525"/><ellipse cx="75.7" cy="70" rx="1" ry="4.5" fill="#eae525"/><ellipse cx="50" cy="76" rx="2" ry="6" fill="#471d6e"/><ellipse cx="38" cy="82" rx="5" ry="2" fill="#355f8d" transform="rotate(20 38 82)"/><ellipse cx="62" cy="82" rx="5" ry="2" fill="#355f8d" transform="rotate(-20 62 82)"/></g></g></svg>
<svg class="im" style="left:1386.9px;top:754.6px;background:#39578b" width="56.6" height="55.8" viewBox="0 0 100 100" preserveAspectRatio="none"><g><g filter="url(#fgc)"><path fill="#45085b" d="M-30 -30H0.4V0.4H-30zM0 -30H20.4V0.4H0zM20 -30H40.4V0.4H20zM40 -30H60.4V0.4H40zM60 -30H80.4V0.4H60zM80 -30H100.4V0.4H80zM100 -30H130V0.4H100zM-30 0H0.4V20.4H-30zM0 0H20.4V20.4H0zM20 0H40.4V20.4H20zM40 0H60.4V20.4H40zM60 0H80.4V20.4H60zM80 0H100.4V20.4H80zM100 0H130V20.4H100z"/><path fill="#471d6e" d="M-30 20H0.4V40.4H-30zM0 20H20.4V40.4H0zM20 20H40.4V40.4H20zM40 20H60.4V40.4H40zM60 20H80.4V40.4H60zM80 20H100.4V40.4H80zM100 20H130V40.4H100zM-30 40H0.4V60.4H-30zM0 40H20.4V60.4H0zM80 40H100.4V60.4H80zM100 40H130V60.4H100zM-30 80H0.4V100.4H-30zM0 80H20.4V100.4H0zM40 80H60.4V100.4H40zM80 80H100.4V100.4H80zM100 80H130V100.4H100zM-30 100H0.4V130H-30zM0 100H20.4V130H0zM40 100H60.4V130H40zM80 100H100.4V130H80zM100 100H130V130H100z"/><path fill="#443780" d="M20 40H40.4V60.4H20zM60 40H80.4V60.4H60zM-30 60H0.4V80.4H-30zM0 60H20.4V80.4H0zM20 60H40.4V80.4H20zM60 60H80.4V80.4H60zM80 60H100.4V80.4H80zM100 60H130V80.4H100zM20 80H40.4V100.4H20zM60 80H80.4V100.4H60zM20 100H40.4V130H20zM60 100H80.4V130H60z"/><path fill="#39578b" d="M40 40H60.4V60.4H40zM40 60H60.4V80.4H40z"/></g><g filter="url(#fs)"><path d="M27 57Q21 72 30 82Q40 90 49 74" fill="none" stroke="#471d6e" stroke-width="1.6" stroke-linecap="round"/><path d="M73 57Q79 72 70 82Q60 90 51 74" fill="none" stroke="#471d6e" stroke-width="1.6" stroke-linecap="round"/><ellipse cx="24.3" cy="70" rx="1" ry="4.5" fill="#eae525"/><ellipse cx="75.7" cy="70" rx="1" ry="4.5" fill="#eae525"/><ellipse cx="50" cy="76" rx="2" ry="6" fill="#471d6e"/><ellipse cx="38" cy="82" rx="5" ry="2" fill="#355f8d" transform="rotate(20 38 82)"/><ellipse cx="62" cy="82" rx="5" ry="2" fill="#355f8d" transform="rotate(-20 62 82)"/></g></g></svg>
<svg class="im" style="left:1498.3px;top:754.6px;background:#21918c" width="56.6" height="55.8" viewBox="0 0 100 100" preserveAspectRatio="none"><g><g filter="url(#fgc)"><path fill="#471d6e" d="M-30 -30H0.4V0.4H-30zM0 -30H20.4V0.4H0zM20 -30H40.4V0.4H20zM60 -30H80.4V0.4H60zM80 -30H100.4V0.4H80zM100 -30H130V0.4H100zM-30 0H0.4V20.4H-30zM0 0H20.4V20.4H0zM20 0H40.4V20.4H20zM60 0H80.4V20.4H60zM80 0H100.4V20.4H80zM100 0H130V20.4H100zM-30 20H0.4V40.4H-30zM0 20H20.4V40.4H0zM80 20H100.4V40.4H80zM100 20H130V40.4H100zM-30 80H0.4V100.4H-30zM0 80H20.4V100.4H0zM80 80H100.4V100.4H80zM100 80H130V100.4H100zM-30 100H0.4V130H-30zM0 100H20.4V130H0zM80 100H100.4V130H80zM100 100H130V130H100z"/><path fill="#45085b" d="M40 -30H60.4V0.4H40zM40 0H60.4V20.4H40z"/><path fill="#443780" d="M20 20H40.4V40.4H20zM40 20H60.4V40.4H40zM60 20H80.4V40.4H60zM-30 40H0.4V60.4H-30zM0 40H20.4V60.4H0zM80 40H100.4V60.4H80zM100 40H130V60.4H100zM40 80H60.4V100.4H40zM40 100H60.4V130H40z"/><path fill="#39578b" d="M20 40H40.4V60.4H20zM60 40H80.4V60.4H60zM20 80H40.4V100.4H20zM60 80H80.4V100.4H60zM20 100H40.4V130H20zM60 100H80.4V130H60z"/><path fill="#21918c" d="M40 40H60.4V60.4H40zM40 60H60.4V80.4H40z"/><path fill="#2c738e" d="M-30 60H0.4V80.4H-30zM0 60H20.4V80.4H0zM20 60H40.4V80.4H20zM60 60H80.4V80.4H60zM80 60H100.4V80.4H80zM100 60H130V80.4H100z"/></g><g filter="url(#fs)"><path d="M24 60Q17 76 27 86Q38 94 48 78" fill="none" stroke="#471a6b" stroke-width="2" stroke-linecap="round"/><path d="M76 60Q83 76 73 86Q62 94 52 78" fill="none" stroke="#471a6b" stroke-width="2" stroke-linecap="round"/><ellipse cx="21.5" cy="70" rx="1" ry="3.5" fill="#eae525"/><ellipse cx="78.5" cy="70" rx="1" ry="3.5" fill="#eae525"/><ellipse cx="21.5" cy="80" rx="1" ry="3.5" fill="#eae525"/><ellipse cx="78.5" cy="80" rx="1" ry="3.5" fill="#eae525"/><ellipse cx="50" cy="80" rx="2.5" ry="8" fill="#461668"/><ellipse cx="40" cy="88" rx="5" ry="2.5" fill="#482475" transform="rotate(20 40 88)"/><ellipse cx="60" cy="88" rx="5" ry="2.5" fill="#482475" transform="rotate(-20 60 88)"/><ellipse cx="28" cy="86" rx="4" ry="1.5" fill="#22a884" transform="rotate(30 28 86)"/><ellipse cx="72" cy="86" rx="4" ry="1.5" fill="#22a884" transform="rotate(-30 72 86)"/></g></g></svg>
<svg class="im" style="left:1315.5px;top:870.0px;background:#39578b" width="56.4" height="56.1" viewBox="0 0 100 100" preserveAspectRatio="none"><g filter="url(#v2)"><g filter="url(#fgb)"><path fill="#471d6e" d="M-30 -30H0.4V0.4H-30zM0 -30H20.4V0.4H0zM60 -30H80.4V0.4H60zM80 -30H100.4V0.4H80zM100 -30H130V0.4H100zM-30 0H0.4V20.4H-30zM0 0H20.4V20.4H0zM60 0H80.4V20.4H60zM80 0H100.4V20.4H80zM100 0H130V20.4H100z"/><path fill="#443780" d="M20 -30H40.4V0.4H20zM40 -30H60.4V0.4H40zM20 0H40.4V20.4H20zM40 0H60.4V20.4H40zM-30 20H0.4V40.4H-30zM0 20H20.4V40.4H0zM20 20H40.4V40.4H20zM40 20H60.4V40.4H40zM60 20H80.4V40.4H60zM80 20H100.4V40.4H80zM100 20H130V40.4H100zM-30 40H0.4V60.4H-30zM0 40H20.4V60.4H0zM20 40H40.4V60.4H20zM60 40H80.4V60.4H60zM80 40H100.4V60.4H80zM100 40H130V60.4H100zM80 60H100.4V80.4H80zM100 60H130V80.4H100zM-30 80H0.4V100.4H-30zM0 80H20.4V100.4H0zM60 80H80.4V100.4H60zM80 80H100.4V100.4H80zM100 80H130V100.4H100zM-30 100H0.4V130H-30zM0 100H20.4V130H0zM60 100H80.4V130H60zM80 100H100.4V130H80zM100 100H130V130H100z"/><path fill="#39578b" d="M40 40H60.4V60.4H40zM-30 60H0.4V80.4H-30zM0 60H20.4V80.4H0zM20 60H40.4V80.4H20zM60 60H80.4V80.4H60zM40 80H60.4V100.4H40zM40 100H60.4V130H40z"/><path fill="#21918c" d="M40 60H60.4V80.4H40z"/><path fill="#2c738e" d="M20 80H40.4V100.4H20zM20 100H40.4V130H20z"/></g><rect width="100" height="100" filter="url(#tx2)" opacity="0.5"/><g filter="url(#fm)"><path d="M8 75Q25 90 45 78" fill="none" stroke="#229c88" stroke-width="6" stroke-linecap="round"/><ellipse cx="75" cy="55" rx="10" ry="18" fill="#44347e" opacity="0.6"/></g><g filter="url(#fs)"><ellipse cx="57" cy="72" rx="2.5" ry="12" fill="#dde326" transform="rotate(-10 57 72)"/><path d="M25 95Q45 92 55 85" fill="none" stroke="#22a884" stroke-width="3" stroke-linecap="round"/><ellipse cx="1" cy="70" rx="1" ry="6" fill="#b0dc2f"/><ellipse cx="30" cy="62" rx="8" ry="4" fill="#471d6e" transform="rotate(-25 30 62)"/><ellipse cx="65" cy="80" rx="4" ry="12" fill="#482475"/><ellipse cx="85" cy="50" rx="2" ry="10" fill="#26848d"/><ellipse cx="50" cy="45" rx="6" ry="3" fill="#26848d" transform="rotate(-20 50 45)"/><ellipse cx="88" cy="80" rx="2" ry="12" fill="#2a788e"/></g></g></svg>
<svg class="im" style="left:1386.0px;top:870.0px;background:#39578b" width="56.4" height="56.1" viewBox="0 0 100 100" preserveAspectRatio="none"><g filter="url(#v3)"><g filter="url(#fgb)"><path fill="#471d6e" d="M-30 -30H0.4V0.4H-30zM0 -30H20.4V0.4H0zM60 -30H80.4V0.4H60zM80 -30H100.4V0.4H80zM100 -30H130V0.4H100zM-30 0H0.4V20.4H-30zM0 0H20.4V20.4H0zM60 0H80.4V20.4H60zM80 0H100.4V20.4H80zM100 0H130V20.4H100z"/><path fill="#443780" d="M20 -30H40.4V0.4H20zM40 -30H60.4V0.4H40zM20 0H40.4V20.4H20zM40 0H60.4V20.4H40zM-30 20H0.4V40.4H-30zM0 20H20.4V40.4H0zM20 20H40.4V40.4H20zM40 20H60.4V40.4H40zM60 20H80.4V40.4H60zM80 20H100.4V40.4H80zM100 20H130V40.4H100zM-30 40H0.4V60.4H-30zM0 40H20.4V60.4H0zM20 40H40.4V60.4H20zM60 40H80.4V60.4H60zM80 40H100.4V60.4H80zM100 40H130V60.4H100zM80 60H100.4V80.4H80zM100 60H130V80.4H100zM-30 80H0.4V100.4H-30zM0 80H20.4V100.4H0zM60 80H80.4V100.4H60zM80 80H100.4V100.4H80zM100 80H130V100.4H100zM-30 100H0.4V130H-30zM0 100H20.4V130H0zM60 100H80.4V130H60zM80 100H100.4V130H80zM100 100H130V130H100z"/><path fill="#39578b" d="M40 40H60.4V60.4H40zM-30 60H0.4V80.4H-30zM0 60H20.4V80.4H0zM20 60H40.4V80.4H20zM60 60H80.4V80.4H60zM40 80H60.4V100.4H40zM40 100H60.4V130H40z"/><path fill="#21918c" d="M40 60H60.4V80.4H40z"/><path fill="#2c738e" d="M20 80H40.4V100.4H20zM20 100H40.4V130H20z"/></g><rect width="100" height="100" filter="url(#tx3)" opacity="0.5"/><g filter="url(#fm)"><path d="M8 75Q25 90 45 78" fill="none" stroke="#229c88" stroke-width="6" stroke-linecap="round"/><ellipse cx="75" cy="55" rx="10" ry="18" fill="#44347e" opacity="0.6"/></g><g filter="url(#fs)"><ellipse cx="57" cy="72" rx="2.5" ry="12" fill="#dde326" transform="rotate(-10 57 72)"/><path d="M25 95Q45 92 55 85" fill="none" stroke="#22a884" stroke-width="3" stroke-linecap="round"/><ellipse cx="1" cy="70" rx="1" ry="6" fill="#b0dc2f"/><ellipse cx="30" cy="62" rx="8" ry="4" fill="#471d6e" transform="rotate(-25 30 62)"/><ellipse cx="65" cy="80" rx="4" ry="12" fill="#482475"/><ellipse cx="85" cy="50" rx="2" ry="10" fill="#26848d"/><ellipse cx="50" cy="45" rx="6" ry="3" fill="#26848d" transform="rotate(-20 50 45)"/><ellipse cx="88" cy="80" rx="2" ry="12" fill="#2a788e"/></g></g></svg>
<svg class="im" style="left:1498.3px;top:870.0px;background:#39578b" width="56.4" height="56.1" viewBox="0 0 100 100" preserveAspectRatio="none"><g filter="url(#v1)"><g filter="url(#fgb)"><path fill="#471d6e" d="M-30 -30H0.4V0.4H-30zM0 -30H20.4V0.4H0zM80 -30H100.4V0.4H80zM100 -30H130V0.4H100zM-30 0H0.4V20.4H-30zM0 0H20.4V20.4H0zM80 0H100.4V20.4H80zM100 0H130V20.4H100zM-30 60H0.4V80.4H-30zM0 60H20.4V80.4H0zM-30 80H0.4V100.4H-30zM0 80H20.4V100.4H0zM-30 100H0.4V130H-30zM0 100H20.4V130H0z"/><path fill="#443780" d="M20 -30H40.4V0.4H20zM40 -30H60.4V0.4H40zM60 -30H80.4V0.4H60zM20 0H40.4V20.4H20zM40 0H60.4V20.4H40zM60 0H80.4V20.4H60zM-30 20H0.4V40.4H-30zM0 20H20.4V40.4H0zM20 20H40.4V40.4H20zM80 20H100.4V40.4H80zM100 20H130V40.4H100zM-30 40H0.4V60.4H-30zM0 40H20.4V60.4H0zM20 40H40.4V60.4H20zM80 40H100.4V60.4H80zM100 40H130V60.4H100z"/><path fill="#39578b" d="M40 20H60.4V40.4H40zM60 20H80.4V40.4H60zM40 40H60.4V60.4H40zM60 40H80.4V60.4H60zM20 60H40.4V80.4H20zM60 60H80.4V80.4H60zM80 60H100.4V80.4H80zM100 60H130V80.4H100zM20 80H40.4V100.4H20zM60 80H80.4V100.4H60zM20 100H40.4V130H20zM60 100H80.4V130H60z"/><path fill="#2c738e" d="M40 60H60.4V80.4H40zM40 80H60.4V100.4H40zM80 80H100.4V100.4H80zM100 80H130V100.4H100zM40 100H60.4V130H40zM80 100H100.4V130H80zM100 100H130V130H100z"/></g><rect width="100" height="100" filter="url(#tx1)" opacity="0.5"/><g filter="url(#fm)"><ellipse cx="55" cy="45" rx="6" ry="8" fill="#482475"/><ellipse cx="5" cy="60" rx="5" ry="15" fill="#482475"/></g><g filter="url(#fs)"><path d="M28 45Q35 30 55 32Q70 35 80 50" fill="none" stroke="#21918c" stroke-width="3" stroke-linecap="round"/><ellipse cx="35" cy="65" rx="4" ry="10" fill="#29ad80"/><ellipse cx="52" cy="54" rx="1.2" ry="1.2" fill="#eae525"/><ellipse cx="60" cy="54" rx="1.6" ry="1" fill="#eae525"/><ellipse cx="99" cy="75" rx="1.5" ry="10" fill="#b0dc2f"/><ellipse cx="82" cy="70" rx="3" ry="10" fill="#482475"/><ellipse cx="70" cy="62" rx="2" ry="8" fill="#21918c"/><path d="M20 92Q40 88 50 75" fill="none" stroke="#26848d" stroke-width="3" stroke-linecap="round"/></g></g></svg>
<svg class="im" style="left:2365.3px;top:663.8px;background:#443780" width="56.0" height="55.8" viewBox="0 0 100 100" preserveAspectRatio="none"><g><g filter="url(#fgc)"><path fill="#45085b" d="M-30 -30H0.4V0.4H-30zM0 -30H20.4V0.4H0zM20 -30H40.4V0.4H20zM40 -30H60.4V0.4H40zM60 -30H80.4V0.4H60zM80 -30H100.4V0.4H80zM100 -30H130V0.4H100zM-30 0H0.4V20.4H-30zM0 0H20.4V20.4H0zM20 0H40.4V20.4H20zM40 0H60.4V20.4H40zM60 0H80.4V20.4H60zM80 0H100.4V20.4H80zM100 0H130V20.4H100zM40 20H60.4V40.4H40z"/><path fill="#471d6e" d="M-30 20H0.4V40.4H-30zM0 20H20.4V40.4H0zM20 20H40.4V40.4H20zM60 20H80.4V40.4H60zM80 20H100.4V40.4H80zM100 20H130V40.4H100z"/><path fill="#39578b" d="M-30 40H0.4V60.4H-30zM0 40H20.4V60.4H0zM20 40H40.4V60.4H20zM60 40H80.4V60.4H60zM80 40H100.4V60.4H80zM100 40H130V60.4H100zM40 80H60.4V100.4H40zM40 100H60.4V130H40z"/><path fill="#443780" d="M40 40H60.4V60.4H40zM-30 80H0.4V100.4H-30zM0 80H20.4V100.4H0zM20 80H40.4V100.4H20zM60 80H80.4V100.4H60zM80 80H100.4V100.4H80zM100 80H130V100.4H100zM-30 100H0.4V130H-30zM0 100H20.4V130H0zM20 100H40.4V130H20zM60 100H80.4V130H60zM80 100H100.4V130H80zM100 100H130V130H100z"/><path fill="#2c738e" d="M-30 60H0.4V80.4H-30zM0 60H20.4V80.4H0zM20 60H40.4V80.4H20zM40 60H60.4V80.4H40zM60 60H80.4V80.4H60zM80 60H100.4V80.4H80zM100 60H130V80.4H100z"/></g><g filter="url(#fs)"><ellipse cx="22.5" cy="49" rx="2.8" ry="2.6" fill="#461264"/><ellipse cx="77.5" cy="49" rx="2.8" ry="2.6" fill="#461264"/><path d="M23 47Q31 39 37 50Q41 62 38 76" fill="none" stroke="#471d6e" stroke-width="2.4" stroke-linecap="round"/><path d="M77 47Q69 39 63 50Q59 62 62 76" fill="none" stroke="#471d6e" stroke-width="2.4" stroke-linecap="round"/><path d="M10 62Q10 40 30 37" fill="none" stroke="#26848d" stroke-width="5" stroke-linecap="round"/><path d="M90 62Q90 40 70 37" fill="none" stroke="#26848d" stroke-width="5" stroke-linecap="round"/><path d="M14 64Q26 70 32 58" fill="none" stroke="#287d8e" stroke-width="4" stroke-linecap="round"/><path d="M86 64Q74 70 68 58" fill="none" stroke="#287d8e" stroke-width="4" stroke-linecap="round"/><path d="M13 80Q32 90 50 79Q68 90 87 80" fill="none" stroke="#471d6e" stroke-width="2.2" stroke-linecap="round"/><path d="M3 72L10 99" fill="none" stroke="#482475" stroke-width="2" stroke-linecap="round"/><path d="M97 72L90 99" fill="none" stroke="#482475" stroke-width="2" stroke-linecap="round"/><path d="M16 82L20 99" fill="none" stroke="#472a79" stroke-width="1.8" stroke-linecap="round"/><path d="M84 82L80 99" fill="none" stroke="#472a79" stroke-width="1.8" stroke-linecap="round"/><ellipse cx="38" cy="70" rx="3.5" ry="6" fill="#22a884" transform="rotate(35 38 70)"/><ellipse cx="62" cy="70" rx="3.5" ry="6" fill="#22a884" transform="rotate(-35 62 70)"/><ellipse cx="30" cy="86" rx="8" ry="2.5" fill="#21918c"/><ellipse cx="70" cy="86" rx="8" ry="2.5" fill="#21918c"/><ellipse cx="50" cy="67" rx="2.8" ry="4.2" fill="#fde725"/><ellipse cx="50" cy="75" rx="2" ry="4" fill="#22a884"/><ellipse cx="42" cy="74" rx="2.5" ry="4" fill="#482475"/><ellipse cx="58" cy="74" rx="2.5" ry="4" fill="#482475"/><ellipse cx="12" cy="24" rx="3" ry="2.5" fill="#472a79"/><ellipse cx="88" cy="24" rx="3" ry="2.5" fill="#472a79"/></g></g></svg>
<svg class="im" style="left:2430.7px;top:663.8px;background:#443780" width="56.0" height="55.8" viewBox="0 0 100 100" preserveAspectRatio="none"><g><g filter="url(#fgc)"><path fill="#45085b" d="M-30 -30H0.4V0.4H-30zM0 -30H20.4V0.4H0zM20 -30H40.4V0.4H20zM40 -30H60.4V0.4H40zM60 -30H80.4V0.4H60zM80 -30H100.4V0.4H80zM100 -30H130V0.4H100zM-30 0H0.4V20.4H-30zM0 0H20.4V20.4H0zM20 0H40.4V20.4H20zM40 0H60.4V20.4H40zM60 0H80.4V20.4H60zM80 0H100.4V20.4H80zM100 0H130V20.4H100zM40 20H60.4V40.4H40z"/><path fill="#471d6e" d="M-30 20H0.4V40.4H-30zM0 20H20.4V40.4H0zM20 20H40.4V40.4H20zM60 20H80.4V40.4H60zM80 20H100.4V40.4H80zM100 20H130V40.4H100z"/><path fill="#39578b" d="M-30 40H0.4V60.4H-30zM0 40H20.4V60.4H0zM20 40H40.4V60.4H20zM60 40H80.4V60.4H60zM80 40H100.4V60.4H80zM100 40H130V60.4H100zM40 80H60.4V100.4H40zM40 100H60.4V130H40z"/><path fill="#443780" d="M40 40H60.4V60.4H40zM-30 80H0.4V100.4H-30zM0 80H20.4V100.4H0zM20 80H40.4V100.4H20zM60 80H80.4V100.4H60zM80 80H100.4V100.4H80zM100 80H130V100.4H100zM-30 100H0.4V130H-30zM0 100H20.4V130H0zM20 100H40.4V130H20zM60 100H80.4V130H60zM80 100H100.4V130H80zM100 100H130V130H100z"/><path fill="#2c738e" d="M-30 60H0.4V80.4H-30zM0 60H20.4V80.4H0zM20 60H40.4V80.4H20zM40 60H60.4V80.4H40zM60 60H80.4V80.4H60zM80 60H100.4V80.4H80zM100 60H130V80.4H100z"/></g><g filter="url(#fs)"><ellipse cx="22.5" cy="49" rx="2.8" ry="2.6" fill="#461264"/><ellipse cx="77.5" cy="49" rx="2.8" ry="2.6" fill="#461264"/><path d="M23 47Q31 39 37 50Q41 62 38 76" fill="none" stroke="#471d6e" stroke-width="2.4" stroke-linecap="round"/><path d="M77 47Q69 39 63 50Q59 62 62 76" fill="none" stroke="#471d6e" stroke-width="2.4" stroke-linecap="round"/><path d="M10 62Q10 40 30 37" fill="none" stroke="#26848d" stroke-width="5" stroke-linecap="round"/><path d="M90 62Q90 40 70 37" fill="none" stroke="#26848d" stroke-width="5" stroke-linecap="round"/><path d="M14 64Q26 70 32 58" fill="none" stroke="#287d8e" stroke-width="4" stroke-linecap="round"/><path d="M86 64Q74 70 68 58" fill="none" stroke="#287d8e" stroke-width="4" stroke-linecap="round"/><path d="M13 80Q32 90 50 79Q68 90 87 80" fill="none" stroke="#471d6e" stroke-width="2.2" stroke-linecap="round"/><path d="M3 72L10 99" fill="none" stroke="#482475" stroke-width="2" stroke-linecap="round"/><path d="M97 72L90 99" fill="none" stroke="#482475" stroke-width="2" stroke-linecap="round"/><path d="M16 82L20 99" fill="none" stroke="#472a79" stroke-width="1.8" stroke-linecap="round"/><path d="M84 82L80 99" fill="none" stroke="#472a79" stroke-width="1.8" stroke-linecap="round"/><ellipse cx="38" cy="70" rx="3.5" ry="6" fill="#22a884" transform="rotate(35 38 70)"/><ellipse cx="62" cy="70" rx="3.5" ry="6" fill="#22a884" transform="rotate(-35 62 70)"/><ellipse cx="30" cy="86" rx="8" ry="2.5" fill="#21918c"/><ellipse cx="70" cy="86" rx="8" ry="2.5" fill="#21918c"/><ellipse cx="50" cy="63" rx="2.8" ry="4.2" fill="#fde725"/><ellipse cx="50" cy="71" rx="2" ry="4" fill="#22a884"/><ellipse cx="42" cy="74" rx="2.5" ry="4" fill="#482475"/><ellipse cx="58" cy="74" rx="2.5" ry="4" fill="#482475"/><ellipse cx="12" cy="24" rx="3" ry="2.5" fill="#472a79"/><ellipse cx="88" cy="24" rx="3" ry="2.5" fill="#472a79"/></g></g></svg>
<svg class="im" style="left:2366.7px;top:753.5px;background:#443780" width="56.4" height="57.0" viewBox="0 0 100 100" preserveAspectRatio="none"><g filter="url(#v1)"><g filter="url(#fgb)"><path fill="#443780" d="M-30 -30H0.4V0.4H-30zM0 -30H20.4V0.4H0zM80 -30H100.4V0.4H80zM100 -30H130V0.4H100zM-30 0H0.4V20.4H-30zM0 0H20.4V20.4H0zM80 0H100.4V20.4H80zM100 0H130V20.4H100zM40 40H60.4V60.4H40zM80 80H100.4V100.4H80zM100 80H130V100.4H100zM80 100H100.4V130H80zM100 100H130V130H100z"/><path fill="#39578b" d="M20 -30H40.4V0.4H20zM60 -30H80.4V0.4H60zM20 0H40.4V20.4H20zM60 0H80.4V20.4H60zM-30 20H0.4V40.4H-30zM0 20H20.4V40.4H0zM80 20H100.4V40.4H80zM100 20H130V40.4H100zM60 40H80.4V60.4H60zM40 60H60.4V80.4H40zM60 60H80.4V80.4H60z"/><path fill="#2c738e" d="M40 -30H60.4V0.4H40zM40 0H60.4V20.4H40zM20 20H40.4V40.4H20zM40 20H60.4V40.4H40zM60 20H80.4V40.4H60zM20 40H40.4V60.4H20zM20 60H40.4V80.4H20zM80 60H100.4V80.4H80zM100 60H130V80.4H100zM-30 80H0.4V100.4H-30zM0 80H20.4V100.4H0zM60 80H80.4V100.4H60zM-30 100H0.4V130H-30zM0 100H20.4V130H0zM60 100H80.4V130H60z"/><path fill="#21918c" d="M-30 40H0.4V60.4H-30zM0 40H20.4V60.4H0zM80 40H100.4V60.4H80zM100 40H130V60.4H100z"/><path fill="#22a884" d="M-30 60H0.4V80.4H-30zM0 60H20.4V80.4H0zM20 80H40.4V100.4H20zM40 80H60.4V100.4H40zM20 100H40.4V130H20zM40 100H60.4V130H40z"/></g><rect width="100" height="100" filter="url(#tx1)" opacity="0.4"/><g filter="url(#fm)"><ellipse cx="45" cy="55" rx="12" ry="15" fill="#482475"/></g><g filter="url(#fs)"><path d="M3 88Q5 65 20 50Q25 40 35 33" fill="none" stroke="#bddf26" stroke-width="3.6" stroke-linecap="round"/><path d="M88 35Q95 50 98 65" fill="none" stroke="#cae126" stroke-width="3" stroke-linecap="round"/><ellipse cx="52" cy="90" rx="12" ry="4" fill="#bddf26"/><ellipse cx="80" cy="45" rx="2" ry="5" fill="#461668"/><ellipse cx="85" cy="90" rx="8" ry="3" fill="#45317c"/><ellipse cx="1" cy="85" rx="1.5" ry="8" fill="#dde326"/><path d="M40 32Q60 30 68 50" fill="none" stroke="#21918c" stroke-width="2.5" stroke-linecap="round"/></g></g></svg>
<svg class="im" style="left:2432.1px;top:753.5px;background:#443780" width="56.4" height="57.0" viewBox="0 0 100 100" preserveAspectRatio="none"><g filter="url(#v2)"><g filter="url(#fgb)"><path fill="#471d6e" d="M-30 -30H0.4V0.4H-30zM0 -30H20.4V0.4H0zM80 -30H100.4V0.4H80zM100 -30H130V0.4H100zM-30 0H0.4V20.4H-30zM0 0H20.4V20.4H0zM80 0H100.4V20.4H80zM100 0H130V20.4H100zM-30 80H0.4V100.4H-30zM0 80H20.4V100.4H0zM-30 100H0.4V130H-30zM0 100H20.4V130H0z"/><path fill="#39578b" d="M20 -30H40.4V0.4H20zM40 -30H60.4V0.4H40zM20 0H40.4V20.4H20zM40 0H60.4V20.4H40zM20 20H40.4V40.4H20zM40 20H60.4V40.4H40zM60 20H80.4V40.4H60zM20 40H40.4V60.4H20zM20 60H40.4V80.4H20zM40 60H60.4V80.4H40zM60 60H80.4V80.4H60zM80 60H100.4V80.4H80zM100 60H130V80.4H100zM20 80H40.4V100.4H20zM40 80H60.4V100.4H40zM60 80H80.4V100.4H60zM20 100H40.4V130H20zM40 100H60.4V130H40zM60 100H80.4V130H60z"/><path fill="#443780" d="M60 -30H80.4V0.4H60zM60 0H80.4V20.4H60zM-30 20H0.4V40.4H-30zM0 20H20.4V40.4H0zM80 20H100.4V40.4H80zM100 20H130V40.4H100zM40 40H60.4V60.4H40zM60 40H80.4V60.4H60zM80 40H100.4V60.4H80zM100 40H130V60.4H100zM80 80H100.4V100.4H80zM100 80H130V100.4H100zM80 100H100.4V130H80zM100 100H130V130H100z"/><path fill="#2c738e" d="M-30 40H0.4V60.4H-30zM0 40H20.4V60.4H0z"/><path fill="#21918c" d="M-30 60H0.4V80.4H-30zM0 60H20.4V80.4H0z"/></g><rect width="100" height="100" filter="url(#tx2)" opacity="0.4"/><g filter="url(#fm)"><ellipse cx="42" cy="55" rx="12" ry="14" fill="#482475"/><ellipse cx="75" cy="60" rx="6" ry="8" fill="#471d6e"/></g><g filter="url(#fs)"><ellipse cx="2" cy="66" rx="2.5" ry="6" fill="#eae525"/><path d="M5 60Q20 45 35 32" fill="none" stroke="#36b678" stroke-width="3" stroke-linecap="round"/><path d="M88 45Q92 65 98 82" fill="none" stroke="#4fc36a" stroke-width="2.5" stroke-linecap="round"/><ellipse cx="42" cy="84" rx="4" ry="1.5" fill="#4fc36a"/><path d="M35 32Q55 28 62 45" fill="none" stroke="#26848d" stroke-width="2.5" stroke-linecap="round"/></g></g></svg>
<svg class="im" style="left:270.8px;top:1893.4px;background:#39578b" width="126.2" height="126.1" viewBox="0 0 100 100" preserveAspectRatio="none"><g><g filter="url(#fgc)"><path fill="#45085b" d="M-30 -30H0.4V0.4H-30zM0 -30H20.4V0.4H0zM20 -30H40.4V0.4H20zM40 -30H60.4V0.4H40zM60 -30H80.4V0.4H60zM80 -30H100.4V0.4H80zM100 -30H130V0.4H100zM-30 0H0.4V20.4H-30zM0 0H20.4V20.4H0zM20 0H40.4V20.4H20zM40 0H60.4V20.4H40zM60 0H80.4V20.4H60zM80 0H100.4V20.4H80zM100 0H130V20.4H100z"/><path fill="#471d6e" d="M-30 20H0.4V40.4H-30zM0 20H20.4V40.4H0zM20 20H40.4V40.4H20zM40 20H60.4V40.4H40zM60 20H80.4V40.4H60zM80 20H100.4V40.4H80zM100 20H130V40.4H100zM-30 40H0.4V60.4H-30zM0 40H20.4V60.4H0zM80 40H100.4V60.4H80zM100 40H130V60.4H100zM-30 80H0.4V100.4H-30zM0 80H20.4V100.4H0zM40 80H60.4V100.4H40zM80 80H100.4V100.4H80zM100 80H130V100.4H100zM-30 100H0.4V130H-30zM0 100H20.4V130H0zM40 100H60.4V130H40zM80 100H100.4V130H80zM100 100H130V130H100z"/><path fill="#443780" d="M20 40H40.4V60.4H20zM60 40H80.4V60.4H60zM-30 60H0.4V80.4H-30zM0 60H20.4V80.4H0zM20 60H40.4V80.4H20zM60 60H80.4V80.4H60zM80 60H100.4V80.4H80zM100 60H130V80.4H100zM20 80H40.4V100.4H20zM60 80H80.4V100.4H60zM20 100H40.4V130H20zM60 100H80.4V130H60z"/><path fill="#39578b" d="M40 40H60.4V60.4H40zM40 60H60.4V80.4H40z"/></g><g filter="url(#fs)"><path d="M27 57Q21 72 30 82Q40 90 49 74" fill="none" stroke="#471d6e" stroke-width="1.6" stroke-linecap="round"/><path d="M73 57Q79 72 70 82Q60 90 51 74" fill="none" stroke="#471d6e" stroke-width="1.6" stroke-linecap="round"/><ellipse cx="24.3" cy="70" rx="1" ry="4.5" fill="#eae525"/><ellipse cx="75.7" cy="70" rx="1" ry="4.5" fill="#eae525"/><ellipse cx="50" cy="76" rx="2" ry="6" fill="#471d6e"/><ellipse cx="38" cy="82" rx="5" ry="2" fill="#355f8d" transform="rotate(20 38 82)"/><ellipse cx="62" cy="82" rx="5" ry="2" fill="#355f8d" transform="rotate(-20 62 82)"/></g></g><rect x="0.3" y="0.3" width="99.4" height="99.4" fill="none" stroke="#1a1a2a" stroke-width="0.6" opacity="0.7"/></svg>
<svg class="im" style="left:451.0px;top:1893.4px;background:#21918c" width="126.2" height="126.1" viewBox="0 0 100 100" preserveAspectRatio="none"><g><g filter="url(#fgc)"><path fill="#471d6e" d="M-30 -30H0.4V0.4H-30zM0 -30H20.4V0.4H0zM20 -30H40.4V0.4H20zM60 -30H80.4V0.4H60zM80 -30H100.4V0.4H80zM100 -30H130V0.4H100zM-30 0H0.4V20.4H-30zM0 0H20.4V20.4H0zM20 0H40.4V20.4H20zM60 0H80.4V20.4H60zM80 0H100.4V20.4H80zM100 0H130V20.4H100zM-30 20H0.4V40.4H-30zM0 20H20.4V40.4H0zM80 20H100.4V40.4H80zM100 20H130V40.4H100zM-30 80H0.4V100.4H-30zM0 80H20.4V100.4H0zM80 80H100.4V100.4H80zM100 80H130V100.4H100zM-30 100H0.4V130H-30zM0 100H20.4V130H0zM80 100H100.4V130H80zM100 100H130V130H100z"/><path fill="#45085b" d="M40 -30H60.4V0.4H40zM40 0H60.4V20.4H40z"/><path fill="#443780" d="M20 20H40.4V40.4H20zM40 20H60.4V40.4H40zM60 20H80.4V40.4H60zM-30 40H0.4V60.4H-30zM0 40H20.4V60.4H0zM80 40H100.4V60.4H80zM100 40H130V60.4H100zM40 80H60.4V100.4H40zM40 100H60.4V130H40z"/><path fill="#39578b" d="M20 40H40.4V60.4H20zM60 40H80.4V60.4H60zM20 80H40.4V100.4H20zM60 80H80.4V100.4H60zM20 100H40.4V130H20zM60 100H80.4V130H60z"/><path fill="#21918c" d="M40 40H60.4V60.4H40zM40 60H60.4V80.4H40z"/><path fill="#2c738e" d="M-30 60H0.4V80.4H-30zM0 60H20.4V80.4H0zM20 60H40.4V80.4H20zM60 60H80.4V80.4H60zM80 60H100.4V80.4H80zM100 60H130V80.4H100z"/></g><g filter="url(#fs)"><path d="M24 60Q17 76 27 86Q38 94 48 78" fill="none" stroke="#471a6b" stroke-width="2" stroke-linecap="round"/><path d="M76 60Q83 76 73 86Q62 94 52 78" fill="none" stroke="#471a6b" stroke-width="2" stroke-linecap="round"/><ellipse cx="21.5" cy="70" rx="1" ry="3.5" fill="#eae525"/><ellipse cx="78.5" cy="70" rx="1" ry="3.5" fill="#eae525"/><ellipse cx="21.5" cy="80" rx="1" ry="3.5" fill="#eae525"/><ellipse cx="78.5" cy="80" rx="1" ry="3.5" fill="#eae525"/><ellipse cx="50" cy="80" rx="2.5" ry="8" fill="#461668"/><ellipse cx="40" cy="88" rx="5" ry="2.5" fill="#482475" transform="rotate(20 40 88)"/><ellipse cx="60" cy="88" rx="5" ry="2.5" fill="#482475" transform="rotate(-20 60 88)"/><ellipse cx="28" cy="86" rx="4" ry="1.5" fill="#22a884" transform="rotate(30 28 86)"/><ellipse cx="72" cy="86" rx="4" ry="1.5" fill="#22a884" transform="rotate(-30 72 86)"/></g></g><rect x="0.3" y="0.3" width="99.4" height="99.4" fill="none" stroke="#1a1a2a" stroke-width="0.6" opacity="0.7"/></svg>
<svg class="im" style="left:656.0px;top:1893.4px;background:#443780" width="126.8" height="126.1" viewBox="0 0 100 100" preserveAspectRatio="none"><g><g filter="url(#fgc)"><path fill="#45085b" d="M-30 -30H0.4V0.4H-30zM0 -30H20.4V0.4H0zM20 -30H40.4V0.4H20zM40 -30H60.4V0.4H40zM60 -30H80.4V0.4H60zM80 -30H100.4V0.4H80zM100 -30H130V0.4H100zM-30 0H0.4V20.4H-30zM0 0H20.4V20.4H0zM20 0H40.4V20.4H20zM40 0H60.4V20.4H40zM60 0H80.4V20.4H60zM80 0H100.4V20.4H80zM100 0H130V20.4H100zM40 20H60.4V40.4H40z"/><path fill="#471d6e" d="M-30 20H0.4V40.4H-30zM0 20H20.4V40.4H0zM20 20H40.4V40.4H20zM60 20H80.4V40.4H60zM80 20H100.4V40.4H80zM100 20H130V40.4H100z"/><path fill="#39578b" d="M-30 40H0.4V60.4H-30zM0 40H20.4V60.4H0zM20 40H40.4V60.4H20zM60 40H80.4V60.4H60zM80 40H100.4V60.4H80zM100 40H130V60.4H100zM40 80H60.4V100.4H40zM40 100H60.4V130H40z"/><path fill="#443780" d="M40 40H60.4V60.4H40zM-30 80H0.4V100.4H-30zM0 80H20.4V100.4H0zM20 80H40.4V100.4H20zM60 80H80.4V100.4H60zM80 80H100.4V100.4H80zM100 80H130V100.4H100zM-30 100H0.4V130H-30zM0 100H20.4V130H0zM20 100H40.4V130H20zM60 100H80.4V130H60zM80 100H100.4V130H80zM100 100H130V130H100z"/><path fill="#2c738e" d="M-30 60H0.4V80.4H-30zM0 60H20.4V80.4H0zM20 60H40.4V80.4H20zM40 60H60.4V80.4H40zM60 60H80.4V80.4H60zM80 60H100.4V80.4H80zM100 60H130V80.4H100z"/></g><g filter="url(#fs)"><ellipse cx="22.5" cy="49" rx="2.8" ry="2.6" fill="#461264"/><ellipse cx="77.5" cy="49" rx="2.8" ry="2.6" fill="#461264"/><path d="M23 47Q31 39 37 50Q41 62 38 76" fill="none" stroke="#471d6e" stroke-width="2.4" stroke-linecap="round"/><path d="M77 47Q69 39 63 50Q59 62 62 76" fill="none" stroke="#471d6e" stroke-width="2.4" stroke-linecap="round"/><path d="M10 62Q10 40 30 37" fill="none" stroke="#26848d" stroke-width="5" stroke-linecap="round"/><path d="M90 62Q90 40 70 37" fill="none" stroke="#26848d" stroke-width="5" stroke-linecap="round"/><path d="M14 64Q26 70 32 58" fill="none" stroke="#287d8e" stroke-width="4" stroke-linecap="round"/><path d="M86 64Q74 70 68 58" fill="none" stroke="#287d8e" stroke-width="4" stroke-linecap="round"/><path d="M13 80Q32 90 50 79Q68 90 87 80" fill="none" stroke="#471d6e" stroke-width="2.2" stroke-linecap="round"/><path d="M3 72L10 99" fill="none" stroke="#482475" stroke-width="2" stroke-linecap="round"/><path d="M97 72L90 99" fill="none" stroke="#482475" stroke-width="2" stroke-linecap="round"/><path d="M16 82L20 99" fill="none" stroke="#472a79" stroke-width="1.8" stroke-linecap="round"/><path d="M84 82L80 99" fill="none" stroke="#472a79" stroke-width="1.8" stroke-linecap="round"/><ellipse cx="38" cy="70" rx="3.5" ry="6" fill="#22a884" transform="rotate(35 38 70)"/><ellipse cx="62" cy="70" rx="3.5" ry="6" fill="#22a884" transform="rotate(-35 62 70)"/><ellipse cx="30" cy="86" rx="8" ry="2.5" fill="#21918c"/><ellipse cx="70" cy="86" rx="8" ry="2.5" fill="#21918c"/><ellipse cx="50" cy="67" rx="2.8" ry="4.2" fill="#fde725"/><ellipse cx="50" cy="75" rx="2" ry="4" fill="#22a884"/><ellipse cx="42" cy="74" rx="2.5" ry="4" fill="#482475"/><ellipse cx="58" cy="74" rx="2.5" ry="4" fill="#482475"/><ellipse cx="12" cy="24" rx="3" ry="2.5" fill="#472a79"/><ellipse cx="88" cy="24" rx="3" ry="2.5" fill="#472a79"/></g></g><rect x="0.3" y="0.3" width="99.4" height="99.4" fill="none" stroke="#1a1a2a" stroke-width="0.6" opacity="0.7"/></svg>
<svg class="im" style="left:796.0px;top:1893.4px;background:#443780" width="126.8" height="126.1" viewBox="0 0 100 100" preserveAspectRatio="none"><g><g filter="url(#fgc)"><path fill="#45085b" d="M-30 -30H0.4V0.4H-30zM0 -30H20.4V0.4H0zM20 -30H40.4V0.4H20zM40 -30H60.4V0.4H40zM60 -30H80.4V0.4H60zM80 -30H100.4V0.4H80zM100 -30H130V0.4H100zM-30 0H0.4V20.4H-30zM0 0H20.4V20.4H0zM20 0H40.4V20.4H20zM40 0H60.4V20.4H40zM60 0H80.4V20.4H60zM80 0H100.4V20.4H80zM100 0H130V20.4H100zM40 20H60.4V40.4H40z"/><path fill="#471d6e" d="M-30 20H0.4V40.4H-30zM0 20H20.4V40.4H0zM20 20H40.4V40.4H20zM60 20H80.4V40.4H60zM80 20H100.4V40.4H80zM100 20H130V40.4H100z"/><path fill="#39578b" d="M-30 40H0.4V60.4H-30zM0 40H20.4V60.4H0zM20 40H40.4V60.4H20zM60 40H80.4V60.4H60zM80 40H100.4V60.4H80zM100 40H130V60.4H100zM40 80H60.4V100.4H40zM40 100H60.4V130H40z"/><path fill="#443780" d="M40 40H60.4V60.4H40zM-30 80H0.4V100.4H-30zM0 80H20.4V100.4H0zM20 80H40.4V100.4H20zM60 80H80.4V100.4H60zM80 80H100.4V100.4H80zM100 80H130V100.4H100zM-30 100H0.4V130H-30zM0 100H20.4V130H0zM20 100H40.4V130H20zM60 100H80.4V130H60zM80 100H100.4V130H80zM100 100H130V130H100z"/><path fill="#2c738e" d="M-30 60H0.4V80.4H-30zM0 60H20.4V80.4H0zM20 60H40.4V80.4H20zM40 60H60.4V80.4H40zM60 60H80.4V80.4H60zM80 60H100.4V80.4H80zM100 60H130V80.4H100z"/></g><g filter="url(#fs)"><ellipse cx="22.5" cy="49" rx="2.8" ry="2.6" fill="#461264"/><ellipse cx="77.5" cy="49" rx="2.8" ry="2.6" fill="#461264"/><path d="M23 47Q31 39 37 50Q41 62 38 76" fill="none" stroke="#471d6e" stroke-width="2.4" stroke-linecap="round"/><path d="M77 47Q69 39 63 50Q59 62 62 76" fill="none" stroke="#471d6e" stroke-width="2.4" stroke-linecap="round"/><path d="M10 62Q10 40 30 37" fill="none" stroke="#26848d" stroke-width="5" stroke-linecap="round"/><path d="M90 62Q90 40 70 37" fill="none" stroke="#26848d" stroke-width="5" stroke-linecap="round"/><path d="M14 64Q26 70 32 58" fill="none" stroke="#287d8e" stroke-width="4" stroke-linecap="round"/><path d="M86 64Q74 70 68 58" fill="none" stroke="#287d8e" stroke-width="4" stroke-linecap="round"/><path d="M13 80Q32 90 50 79Q68 90 87 80" fill="none" stroke="#471d6e" stroke-width="2.2" stroke-linecap="round"/><path d="M3 72L10 99" fill="none" stroke="#482475" stroke-width="2" stroke-linecap="round"/><path d="M97 72L90 99" fill="none" stroke="#482475" stroke-width="2" stroke-linecap="round"/><path d="M16 82L20 99" fill="none" stroke="#472a79" stroke-width="1.8" stroke-linecap="round"/><path d="M84 82L80 99" fill="none" stroke="#472a79" stroke-width="1.8" stroke-linecap="round"/><ellipse cx="38" cy="70" rx="3.5" ry="6" fill="#22a884" transform="rotate(35 38 70)"/><ellipse cx="62" cy="70" rx="3.5" ry="6" fill="#22a884" transform="rotate(-35 62 70)"/><ellipse cx="30" cy="86" rx="8" ry="2.5" fill="#21918c"/><ellipse cx="70" cy="86" rx="8" ry="2.5" fill="#21918c"/><ellipse cx="50" cy="63" rx="2.8" ry="4.2" fill="#fde725"/><ellipse cx="50" cy="71" rx="2" ry="4" fill="#22a884"/><ellipse cx="42" cy="74" rx="2.5" ry="4" fill="#482475"/><ellipse cx="58" cy="74" rx="2.5" ry="4" fill="#482475"/><ellipse cx="12" cy="24" rx="3" ry="2.5" fill="#472a79"/><ellipse cx="88" cy="24" rx="3" ry="2.5" fill="#472a79"/></g></g><rect x="0.3" y="0.3" width="99.4" height="99.4" fill="none" stroke="#1a1a2a" stroke-width="0.6" opacity="0.7"/></svg>
<svg class="im" style="left:932.9px;top:1893.4px;background:#443780" width="126.2" height="126.1" viewBox="0 0 100 100" preserveAspectRatio="none"><g><g filter="url(#fgc)"><path fill="#45085b" d="M-30 -30H0.4V0.4H-30zM0 -30H20.4V0.4H0zM20 -30H40.4V0.4H20zM40 -30H60.4V0.4H40zM60 -30H80.4V0.4H60zM80 -30H100.4V0.4H80zM100 -30H130V0.4H100zM-30 0H0.4V20.4H-30zM0 0H20.4V20.4H0zM20 0H40.4V20.4H20zM40 0H60.4V20.4H40zM60 0H80.4V20.4H60zM80 0H100.4V20.4H80zM100 0H130V20.4H100zM40 20H60.4V40.4H40z"/><path fill="#471d6e" d="M-30 20H0.4V40.4H-30zM0 20H20.4V40.4H0zM20 20H40.4V40.4H20zM60 20H80.4V40.4H60zM80 20H100.4V40.4H80zM100 20H130V40.4H100z"/><path fill="#39578b" d="M-30 40H0.4V60.4H-30zM0 40H20.4V60.4H0zM20 40H40.4V60.4H20zM60 40H80.4V60.4H60zM80 40H100.4V60.4H80zM100 40H130V60.4H100zM40 80H60.4V100.4H40zM40 100H60.4V130H40z"/><path fill="#443780" d="M40 40H60.4V60.4H40zM-30 80H0.4V100.4H-30zM0 80H20.4V100.4H0zM20 80H40.4V100.4H20zM60 80H80.4V100.4H60zM80 80H100.4V100.4H80zM100 80H130V100.4H100zM-30 100H0.4V130H-30zM0 100H20.4V130H0zM20 100H40.4V130H20zM60 100H80.4V130H60zM80 100H100.4V130H80zM100 100H130V130H100z"/><path fill="#2c738e" d="M-30 60H0.4V80.4H-30zM0 60H20.4V80.4H0zM20 60H40.4V80.4H20zM40 60H60.4V80.4H40zM60 60H80.4V80.4H60zM80 60H100.4V80.4H80zM100 60H130V80.4H100z"/></g><g filter="url(#fs)"><ellipse cx="22.5" cy="49" rx="2.8" ry="2.6" fill="#461264"/><ellipse cx="77.5" cy="49" rx="2.8" ry="2.6" fill="#461264"/><path d="M23 47Q31 39 37 50Q41 62 38 76" fill="none" stroke="#471d6e" stroke-width="2.4" stroke-linecap="round"/><path d="M77 47Q69 39 63 50Q59 62 62 76" fill="none" stroke="#471d6e" stroke-width="2.4" stroke-linecap="round"/><path d="M10 62Q10 40 30 37" fill="none" stroke="#26848d" stroke-width="5" stroke-linecap="round"/><path d="M90 62Q90 40 70 37" fill="none" stroke="#26848d" stroke-width="5" stroke-linecap="round"/><path d="M14 64Q26 70 32 58" fill="none" stroke="#287d8e" stroke-width="4" stroke-linecap="round"/><path d="M86 64Q74 70 68 58" fill="none" stroke="#287d8e" stroke-width="4" stroke-linecap="round"/><path d="M13 80Q32 90 50 79Q68 90 87 80" fill="none" stroke="#471d6e" stroke-width="2.2" stroke-linecap="round"/><path d="M3 72L10 99" fill="none" stroke="#482475" stroke-width="2" stroke-linecap="round"/><path d="M97 72L90 99" fill="none" stroke="#482475" stroke-width="2" stroke-linecap="round"/><path d="M16 82L20 99" fill="none" stroke="#472a79" stroke-width="1.8" stroke-linecap="round"/><path d="M84 82L80 99" fill="none" stroke="#472a79" stroke-width="1.8" stroke-linecap="round"/><ellipse cx="38" cy="70" rx="3.5" ry="6" fill="#22a884" transform="rotate(35 38 70)"/><ellipse cx="62" cy="70" rx="3.5" ry="6" fill="#22a884" transform="rotate(-35 62 70)"/><ellipse cx="30" cy="86" rx="8" ry="2.5" fill="#21918c"/><ellipse cx="70" cy="86" rx="8" ry="2.5" fill="#21918c"/><ellipse cx="50" cy="61.5" rx="2.8" ry="4.2" fill="#fde725"/><ellipse cx="50" cy="69.5" rx="2" ry="4" fill="#22a884"/><ellipse cx="42" cy="74" rx="2.5" ry="4" fill="#482475"/><ellipse cx="58" cy="74" rx="2.5" ry="4" fill="#482475"/><ellipse cx="12" cy="24" rx="3" ry="2.5" fill="#472a79"/><ellipse cx="88" cy="24" rx="3" ry="2.5" fill="#472a79"/></g></g><rect x="0.3" y="0.3" width="99.4" height="99.4" fill="none" stroke="#1a1a2a" stroke-width="0.6" opacity="0.7"/></svg>
<svg class="im" style="left:270.8px;top:2100.0px;background:#39578b" width="126.2" height="126.1" viewBox="0 0 100 100" preserveAspectRatio="none"><g filter="url(#v2)"><g filter="url(#fgb)"><path fill="#471d6e" d="M-30 -30H0.4V0.4H-30zM0 -30H20.4V0.4H0zM60 -30H80.4V0.4H60zM80 -30H100.4V0.4H80zM100 -30H130V0.4H100zM-30 0H0.4V20.4H-30zM0 0H20.4V20.4H0zM60 0H80.4V20.4H60zM80 0H100.4V20.4H80zM100 0H130V20.4H100z"/><path fill="#443780" d="M20 -30H40.4V0.4H20zM40 -30H60.4V0.4H40zM20 0H40.4V20.4H20zM40 0H60.4V20.4H40zM-30 20H0.4V40.4H-30zM0 20H20.4V40.4H0zM20 20H40.4V40.4H20zM40 20H60.4V40.4H40zM60 20H80.4V40.4H60zM80 20H100.4V40.4H80zM100 20H130V40.4H100zM-30 40H0.4V60.4H-30zM0 40H20.4V60.4H0zM20 40H40.4V60.4H20zM60 40H80.4V60.4H60zM80 40H100.4V60.4H80zM100 40H130V60.4H100zM80 60H100.4V80.4H80zM100 60H130V80.4H100zM-30 80H0.4V100.4H-30zM0 80H20.4V100.4H0zM60 80H80.4V100.4H60zM80 80H100.4V100.4H80zM100 80H130V100.4H100zM-30 100H0.4V130H-30zM0 100H20.4V130H0zM60 100H80.4V130H60zM80 100H100.4V130H80zM100 100H130V130H100z"/><path fill="#39578b" d="M40 40H60.4V60.4H40zM-30 60H0.4V80.4H-30zM0 60H20.4V80.4H0zM20 60H40.4V80.4H20zM60 60H80.4V80.4H60zM40 80H60.4V100.4H40zM40 100H60.4V130H40z"/><path fill="#21918c" d="M40 60H60.4V80.4H40z"/><path fill="#2c738e" d="M20 80H40.4V100.4H20zM20 100H40.4V130H20z"/></g><rect width="100" height="100" filter="url(#tx2)" opacity="0.55"/><g filter="url(#fm)"><path d="M8 75Q25 90 45 78" fill="none" stroke="#229c88" stroke-width="6" stroke-linecap="round"/><ellipse cx="75" cy="55" rx="10" ry="18" fill="#44347e" opacity="0.6"/></g><g filter="url(#fs)"><ellipse cx="57" cy="72" rx="2.5" ry="12" fill="#dde326" transform="rotate(-10 57 72)"/><path d="M25 95Q45 92 55 85" fill="none" stroke="#22a884" stroke-width="3" stroke-linecap="round"/><ellipse cx="1" cy="70" rx="1" ry="6" fill="#b0dc2f"/><ellipse cx="30" cy="62" rx="8" ry="4" fill="#471d6e" transform="rotate(-25 30 62)"/><ellipse cx="65" cy="80" rx="4" ry="12" fill="#482475"/><ellipse cx="85" cy="50" rx="2" ry="10" fill="#26848d"/><ellipse cx="50" cy="45" rx="6" ry="3" fill="#26848d" transform="rotate(-20 50 45)"/><ellipse cx="88" cy="80" rx="2" ry="12" fill="#2a788e"/></g></g><rect x="0.3" y="0.3" width="99.4" height="99.4" fill="none" stroke="#1a1a2a" stroke-width="0.6" opacity="0.7"/></svg>
<svg class="im" style="left:451.0px;top:2100.0px;background:#39578b" width="126.2" height="126.1" viewBox="0 0 100 100" preserveAspectRatio="none"><g filter="url(#v3)"><g filter="url(#fgb)"><path fill="#471d6e" d="M-30 -30H0.4V0.4H-30zM0 -30H20.4V0.4H0zM80 -30H100.4V0.4H80zM100 -30H130V0.4H100zM-30 0H0.4V20.4H-30zM0 0H20.4V20.4H0zM80 0H100.4V20.4H80zM100 0H130V20.4H100zM-30 60H0.4V80.4H-30zM0 60H20.4V80.4H0zM-30 80H0.4V100.4H-30zM0 80H20.4V100.4H0zM-30 100H0.4V130H-30zM0 100H20.4V130H0z"/><path fill="#443780" d="M20 -30H40.4V0.4H20zM40 -30H60.4V0.4H40zM60 -30H80.4V0.4H60zM20 0H40.4V20.4H20zM40 0H60.4V20.4H40zM60 0H80.4V20.4H60zM-30 20H0.4V40.4H-30zM0 20H20.4V40.4H0zM20 20H40.4V40.4H20zM80 20H100.4V40.4H80zM100 20H130V40.4H100zM-30 40H0.4V60.4H-30zM0 40H20.4V60.4H0zM20 40H40.4V60.4H20zM80 40H100.4V60.4H80zM100 40H130V60.4H100z"/><path fill="#39578b" d="M40 20H60.4V40.4H40zM60 20H80.4V40.4H60zM40 40H60.4V60.4H40zM60 40H80.4V60.4H60zM20 60H40.4V80.4H20zM60 60H80.4V80.4H60zM80 60H100.4V80.4H80zM100 60H130V80.4H100zM20 80H40.4V100.4H20zM60 80H80.4V100.4H60zM20 100H40.4V130H20zM60 100H80.4V130H60z"/><path fill="#2c738e" d="M40 60H60.4V80.4H40zM40 80H60.4V100.4H40zM80 80H100.4V100.4H80zM100 80H130V100.4H100zM40 100H60.4V130H40zM80 100H100.4V130H80zM100 100H130V130H100z"/></g><rect width="100" height="100" filter="url(#tx3)" opacity="0.55"/><g filter="url(#fm)"><ellipse cx="55" cy="45" rx="6" ry="8" fill="#482475"/><ellipse cx="5" cy="60" rx="5" ry="15" fill="#482475"/></g><g filter="url(#fs)"><path d="M28 45Q35 30 55 32Q70 35 80 50" fill="none" stroke="#21918c" stroke-width="3" stroke-linecap="round"/><ellipse cx="35" cy="65" rx="4" ry="10" fill="#29ad80"/><ellipse cx="52" cy="54" rx="1.2" ry="1.2" fill="#eae525"/><ellipse cx="60" cy="54" rx="1.6" ry="1" fill="#eae525"/><ellipse cx="99" cy="75" rx="1.5" ry="10" fill="#b0dc2f"/><ellipse cx="82" cy="70" rx="3" ry="10" fill="#482475"/><ellipse cx="70" cy="62" rx="2" ry="8" fill="#21918c"/><path d="M20 92Q40 88 50 75" fill="none" stroke="#26848d" stroke-width="3" stroke-linecap="round"/></g></g><rect x="0.3" y="0.3" width="99.4" height="99.4" fill="none" stroke="#1a1a2a" stroke-width="0.6" opacity="0.7"/></svg>
<svg class="im" style="left:659.9px;top:2100.0px;background:#443780" width="126.2" height="126.1" viewBox="0 0 100 100" preserveAspectRatio="none"><g filter="url(#v1)"><g filter="url(#fgb)"><path fill="#443780" d="M-30 -30H0.4V0.4H-30zM0 -30H20.4V0.4H0zM80 -30H100.4V0.4H80zM100 -30H130V0.4H100zM-30 0H0.4V20.4H-30zM0 0H20.4V20.4H0zM80 0H100.4V20.4H80zM100 0H130V20.4H100zM40 40H60.4V60.4H40zM80 80H100.4V100.4H80zM100 80H130V100.4H100zM80 100H100.4V130H80zM100 100H130V130H100z"/><path fill="#39578b" d="M20 -30H40.4V0.4H20zM60 -30H80.4V0.4H60zM20 0H40.4V20.4H20zM60 0H80.4V20.4H60zM-30 20H0.4V40.4H-30zM0 20H20.4V40.4H0zM80 20H100.4V40.4H80zM100 20H130V40.4H100zM60 40H80.4V60.4H60zM40 60H60.4V80.4H40zM60 60H80.4V80.4H60z"/><path fill="#2c738e" d="M40 -30H60.4V0.4H40zM40 0H60.4V20.4H40zM20 20H40.4V40.4H20zM40 20H60.4V40.4H40zM60 20H80.4V40.4H60zM20 40H40.4V60.4H20zM20 60H40.4V80.4H20zM80 60H100.4V80.4H80zM100 60H130V80.4H100zM-30 80H0.4V100.4H-30zM0 80H20.4V100.4H0zM60 80H80.4V100.4H60zM-30 100H0.4V130H-30zM0 100H20.4V130H0zM60 100H80.4V130H60z"/><path fill="#21918c" d="M-30 40H0.4V60.4H-30zM0 40H20.4V60.4H0zM80 40H100.4V60.4H80zM100 40H130V60.4H100z"/><path fill="#22a884" d="M-30 60H0.4V80.4H-30zM0 60H20.4V80.4H0zM20 80H40.4V100.4H20zM40 80H60.4V100.4H40zM20 100H40.4V130H20zM40 100H60.4V130H40z"/></g><rect width="100" height="100" filter="url(#tx1)" opacity="0.4"/><g filter="url(#fm)"><ellipse cx="45" cy="55" rx="12" ry="15" fill="#482475"/></g><g filter="url(#fs)"><path d="M3 88Q5 65 20 50Q25 40 35 33" fill="none" stroke="#bddf26" stroke-width="3.6" stroke-linecap="round"/><path d="M88 35Q95 50 98 65" fill="none" stroke="#cae126" stroke-width="3" stroke-linecap="round"/><ellipse cx="52" cy="90" rx="12" ry="4" fill="#bddf26"/><ellipse cx="80" cy="45" rx="2" ry="5" fill="#461668"/><ellipse cx="85" cy="90" rx="8" ry="3" fill="#45317c"/><ellipse cx="1" cy="85" rx="1.5" ry="8" fill="#dde326"/><path d="M40 32Q60 30 68 50" fill="none" stroke="#21918c" stroke-width="2.5" stroke-linecap="round"/></g></g><rect x="0.3" y="0.3" width="99.4" height="99.4" fill="none" stroke="#1a1a2a" stroke-width="0.6" opacity="0.7"/></svg>
<svg class="im" style="left:794.7px;top:2100.0px;background:#443780" width="126.2" height="126.1" viewBox="0 0 100 100" preserveAspectRatio="none"><g filter="url(#v2)"><g filter="url(#fgb)"><path fill="#471d6e" d="M-30 -30H0.4V0.4H-30zM0 -30H20.4V0.4H0zM80 -30H100.4V0.4H80zM100 -30H130V0.4H100zM-30 0H0.4V20.4H-30zM0 0H20.4V20.4H0zM80 0H100.4V20.4H80zM100 0H130V20.4H100zM-30 80H0.4V100.4H-30zM0 80H20.4V100.4H0zM-30 100H0.4V130H-30zM0 100H20.4V130H0z"/><path fill="#39578b" d="M20 -30H40.4V0.4H20zM40 -30H60.4V0.4H40zM20 0H40.4V20.4H20zM40 0H60.4V20.4H40zM20 20H40.4V40.4H20zM40 20H60.4V40.4H40zM60 20H80.4V40.4H60zM20 40H40.4V60.4H20zM20 60H40.4V80.4H20zM40 60H60.4V80.4H40zM60 60H80.4V80.4H60zM80 60H100.4V80.4H80zM100 60H130V80.4H100zM20 80H40.4V100.4H20zM40 80H60.4V100.4H40zM60 80H80.4V100.4H60zM20 100H40.4V130H20zM40 100H60.4V130H40zM60 100H80.4V130H60z"/><path fill="#443780" d="M60 -30H80.4V0.4H60zM60 0H80.4V20.4H60zM-30 20H0.4V40.4H-30zM0 20H20.4V40.4H0zM80 20H100.4V40.4H80zM100 20H130V40.4H100zM40 40H60.4V60.4H40zM60 40H80.4V60.4H60zM80 40H100.4V60.4H80zM100 40H130V60.4H100zM80 80H100.4V100.4H80zM100 80H130V100.4H100zM80 100H100.4V130H80zM100 100H130V130H100z"/><path fill="#2c738e" d="M-30 40H0.4V60.4H-30zM0 40H20.4V60.4H0z"/><path fill="#21918c" d="M-30 60H0.4V80.4H-30zM0 60H20.4V80.4H0z"/></g><rect width="100" height="100" filter="url(#tx2)" opacity="0.4"/><g filter="url(#fm)"><ellipse cx="42" cy="55" rx="12" ry="14" fill="#482475"/><ellipse cx="75" cy="60" rx="6" ry="8" fill="#471d6e"/></g><g filter="url(#fs)"><ellipse cx="2" cy="66" rx="2.5" ry="6" fill="#eae525"/><path d="M5 60Q20 45 35 32" fill="none" stroke="#36b678" stroke-width="3" stroke-linecap="round"/><path d="M88 45Q92 65 98 82" fill="none" stroke="#4fc36a" stroke-width="2.5" stroke-linecap="round"/><ellipse cx="42" cy="84" rx="4" ry="1.5" fill="#4fc36a"/><path d="M35 32Q55 28 62 45" fill="none" stroke="#26848d" stroke-width="2.5" stroke-linecap="round"/></g></g><rect x="0.3" y="0.3" width="99.4" height="99.4" fill="none" stroke="#1a1a2a" stroke-width="0.6" opacity="0.7"/></svg>
<svg class="im" style="left:932.9px;top:2100.0px;background:#443780" width="126.2" height="126.1" viewBox="0 0 100 100" preserveAspectRatio="none"><g filter="url(#v3)"><g filter="url(#fgb)"><path fill="#471d6e" d="M-30 -30H0.4V0.4H-30zM0 -30H20.4V0.4H0zM80 -30H100.4V0.4H80zM100 -30H130V0.4H100zM-30 0H0.4V20.4H-30zM0 0H20.4V20.4H0zM80 0H100.4V20.4H80zM100 0H130V20.4H100zM80 60H100.4V80.4H80zM100 60H130V80.4H100zM-30 80H0.4V100.4H-30zM0 80H20.4V100.4H0zM-30 100H0.4V130H-30zM0 100H20.4V130H0z"/><path fill="#443780" d="M20 -30H40.4V0.4H20zM40 -30H60.4V0.4H40zM60 -30H80.4V0.4H60zM20 0H40.4V20.4H20zM40 0H60.4V20.4H40zM60 0H80.4V20.4H60zM-30 20H0.4V40.4H-30zM0 20H20.4V40.4H0zM80 20H100.4V40.4H80zM100 20H130V40.4H100zM40 40H60.4V60.4H40zM60 40H80.4V60.4H60zM80 40H100.4V60.4H80zM100 40H130V60.4H100zM60 60H80.4V80.4H60zM80 80H100.4V100.4H80zM100 80H130V100.4H100zM80 100H100.4V130H80zM100 100H130V130H100z"/><path fill="#39578b" d="M20 20H40.4V40.4H20zM40 20H60.4V40.4H40zM60 20H80.4V40.4H60zM20 40H40.4V60.4H20zM-30 60H0.4V80.4H-30zM0 60H20.4V80.4H0zM40 60H60.4V80.4H40zM20 80H40.4V100.4H20zM40 80H60.4V100.4H40zM60 80H80.4V100.4H60zM20 100H40.4V130H20zM40 100H60.4V130H40zM60 100H80.4V130H60z"/><path fill="#44bf70" d="M-30 40H0.4V60.4H-30zM0 40H20.4V60.4H0z"/><path fill="#2c738e" d="M20 60H40.4V80.4H20z"/></g><rect width="100" height="100" filter="url(#tx3)" opacity="0.4"/><g filter="url(#fm)"><ellipse cx="38" cy="48" rx="10" ry="10" fill="#462e7a"/><ellipse cx="70" cy="70" rx="12" ry="5" fill="#461668" transform="rotate(-25 70 70)"/></g><g filter="url(#fs)"><ellipse cx="3" cy="55" rx="4" ry="8" fill="#eae525"/><path d="M5 45Q20 38 30 30" fill="none" stroke="#44bf70" stroke-width="5" stroke-linecap="round"/><ellipse cx="90" cy="72" rx="1.5" ry="8" fill="#b0dc2f"/><path d="M30 85Q60 80 80 60" fill="none" stroke="#26848d" stroke-width="3" stroke-linecap="round"/><path d="M30 30Q50 28 58 45" fill="none" stroke="#287d8e" stroke-width="2.5" stroke-linecap="round"/></g></g><rect x="0.3" y="0.3" width="99.4" height="99.4" fill="none" stroke="#1a1a2a" stroke-width="0.6" opacity="0.7"/></svg>
<svg style="left:0;top:0" width="1" height="1"><rect x="406.8" y="1952.0" width="7.8" height="7.8" rx="2.2" fill="#000"/><rect x="421.0" y="1952.0" width="7.8" height="7.8" rx="2.2" fill="#000"/><rect x="435.2" y="1952.0" width="7.8" height="7.8" rx="2.2" fill="#000"/><rect x="406.8" y="2159.0" width="7.8" height="7.8" rx="2.2" fill="#000"/><rect x="421.0" y="2159.0" width="7.8" height="7.8" rx="2.2" fill="#000"/><rect x="435.2" y="2159.0" width="7.8" height="7.8" rx="2.2" fill="#000"/><path d="M581.3 1957.4L634.9 1957.4" stroke="#000" stroke-width="5" fill="none" /><path d="M648.9 1957.4L633.9 1964.4L633.9 1950.4Z" fill="#000"/><path d="M587.0 2163.8L641.3 2163.8" stroke="#a50f0f" stroke-width="5" fill="none" /><path d="M655.3 2163.8L640.3 2170.8L640.3 2156.8Z" fill="#a50f0f"/><path d="M265.8 2072.3H1046" stroke="#000" stroke-width="5.2" stroke-dasharray="19.5 13.6" fill="none"/><path d="M1062.4 2072.3L1046.5 2065V2079.6Z" fill="#000"/></svg>
<div class="a" style="left:3173.9px;top:1854.7px;width:109.9px;height:219.5px;background:#b9b9a8;"></div>
<div class="a" style="left:3288.5px;top:1854.7px;width:109.9px;height:219.5px;background:#b9b9a8;"></div>
<div class="a" style="left:3402.8px;top:1854.7px;width:109.9px;height:219.5px;background:#b9b9a8;"></div>
<div class="a" style="left:3517.4px;top:1854.7px;width:109.9px;height:219.5px;background:#b9b9a8;"></div>
<div class="a" style="left:3631.7px;top:1854.7px;width:109.9px;height:219.5px;background:#b9b9a8;"></div>
<svg class="im" style="left:3173.9px;top:1854.7px;background:#2c738e" width="109.9" height="109.4" viewBox="0 0 100 100" preserveAspectRatio="none"><g filter="url(#v1)"><g filter="url(#fgb)"><path fill="#471d6e" d="M-30 -30H0.4V0.4H-30zM0 -30H20.4V0.4H0zM-30 0H0.4V20.4H-30zM0 0H20.4V20.4H0z"/><path fill="#443780" d="M20 -30H40.4V0.4H20zM40 -30H60.4V0.4H40zM20 0H40.4V20.4H20zM40 0H60.4V20.4H40zM20 20H40.4V40.4H20zM40 20H60.4V40.4H40zM60 20H80.4V40.4H60zM80 20H100.4V40.4H80zM100 20H130V40.4H100zM80 40H100.4V60.4H80zM100 40H130V60.4H100zM-30 80H0.4V100.4H-30zM0 80H20.4V100.4H0zM-30 100H0.4V130H-30zM0 100H20.4V130H0z"/><path fill="#39578b" d="M60 -30H80.4V0.4H60zM80 -30H100.4V0.4H80zM100 -30H130V0.4H100zM60 0H80.4V20.4H60zM80 0H100.4V20.4H80zM100 0H130V20.4H100zM-30 40H0.4V60.4H-30zM0 40H20.4V60.4H0zM20 40H40.4V60.4H20zM60 40H80.4V60.4H60zM-30 60H0.4V80.4H-30zM0 60H20.4V80.4H0zM20 60H40.4V80.4H20zM80 60H100.4V80.4H80zM100 60H130V80.4H100zM20 80H40.4V100.4H20zM40 80H60.4V100.4H40zM20 100H40.4V130H20zM40 100H60.4V130H40z"/><path fill="#2c738e" d="M-30 20H0.4V40.4H-30zM0 20H20.4V40.4H0zM40 40H60.4V60.4H40z"/><path fill="#22a884" d="M40 60H60.4V80.4H40z"/><path fill="#44bf70" d="M60 60H80.4V80.4H60z"/><path fill="#21918c" d="M60 80H80.4V100.4H60zM80 80H100.4V100.4H80zM100 80H130V100.4H100zM60 100H80.4V130H60zM80 100H100.4V130H80zM100 100H130V130H100z"/></g><rect width="100" height="100" filter="url(#tx1)" opacity="0.6"/><g filter="url(#fm)"><path d="M52 62Q65 75 85 88" fill="none" stroke="#cae126" stroke-width="9" stroke-linecap="round"/><path d="M2 62Q20 58 35 65" fill="none" stroke="#229c88" stroke-width="7" stroke-linecap="round"/><ellipse cx="5" cy="42" rx="7" ry="6" fill="#4fc36a"/></g><g filter="url(#fs)"><path d="M60 5Q80 8 98 5" fill="none" stroke="#21918c" stroke-width="4" stroke-linecap="round"/><path d="M30 30Q45 22 55 30" fill="none" stroke="#26848d" stroke-width="3" stroke-linecap="round"/><path d="M75 65Q85 75 95 90" fill="none" stroke="#471d6e" stroke-width="2" stroke-linecap="round"/><path d="M5 15Q30 10 50 20" fill="none" stroke="#471a6b" stroke-width="3" stroke-linecap="round"/><path d="M50 45Q70 50 90 45" fill="none" stroke="#471a6b" stroke-width="4" stroke-linecap="round"/><path d="M10 52Q30 48 45 55" fill="none" stroke="#471a6b" stroke-width="2.5" stroke-linecap="round"/><ellipse cx="15" cy="95" rx="4" ry="4" fill="#22a884"/></g></g><rect x="0.3" y="0.3" width="99.4" height="99.4" fill="none" stroke="#1a1a2a" stroke-width="0.6" opacity="0.7"/></svg>
<svg class="im" style="left:3288.5px;top:1854.7px;background:#2c738e" width="109.9" height="109.4" viewBox="0 0 100 100" preserveAspectRatio="none"><g filter="url(#v2)"><g filter="url(#fgb)"><path fill="#471d6e" d="M-30 -30H0.4V0.4H-30zM0 -30H20.4V0.4H0zM-30 0H0.4V20.4H-30zM0 0H20.4V20.4H0z"/><path fill="#443780" d="M20 -30H40.4V0.4H20zM40 -30H60.4V0.4H40zM20 0H40.4V20.4H20zM40 0H60.4V20.4H40zM-30 20H0.4V40.4H-30zM0 20H20.4V40.4H0zM20 20H40.4V40.4H20zM60 20H80.4V40.4H60zM80 20H100.4V40.4H80zM100 20H130V40.4H100zM-30 40H0.4V60.4H-30zM0 40H20.4V60.4H0zM80 40H100.4V60.4H80zM100 40H130V60.4H100zM80 60H100.4V80.4H80zM100 60H130V80.4H100zM-30 80H0.4V100.4H-30zM0 80H20.4V100.4H0zM-30 100H0.4V130H-30zM0 100H20.4V130H0z"/><path fill="#39578b" d="M60 -30H80.4V0.4H60zM80 -30H100.4V0.4H80zM100 -30H130V0.4H100zM60 0H80.4V20.4H60zM80 0H100.4V20.4H80zM100 0H130V20.4H100zM40 20H60.4V40.4H40zM20 40H40.4V60.4H20zM60 40H80.4V60.4H60zM20 80H40.4V100.4H20zM40 80H60.4V100.4H40zM80 80H100.4V100.4H80zM100 80H130V100.4H100zM20 100H40.4V130H20zM40 100H60.4V130H40zM80 100H100.4V130H80zM100 100H130V130H100z"/><path fill="#2c738e" d="M40 40H60.4V60.4H40zM60 80H80.4V100.4H60zM60 100H80.4V130H60z"/><path fill="#21918c" d="M-30 60H0.4V80.4H-30zM0 60H20.4V80.4H0zM60 60H80.4V80.4H60z"/><path fill="#44bf70" d="M20 60H40.4V80.4H20zM40 60H60.4V80.4H40z"/></g><rect width="100" height="100" filter="url(#tx2)" opacity="0.6"/><g filter="url(#fm)"><path d="M5 72Q30 55 55 68Q70 78 85 88" fill="none" stroke="#9cd83c" stroke-width="9" stroke-linecap="round"/><ellipse cx="15" cy="35" rx="6" ry="8" fill="#26848d"/><ellipse cx="55" cy="40" rx="8" ry="5" fill="#26848d" transform="rotate(30 55 40)"/></g><g filter="url(#fs)"><ellipse cx="35" cy="65" rx="5" ry="4" fill="#eae525"/><path d="M20 30Q35 40 30 55" fill="none" stroke="#471a6b" stroke-width="2" stroke-linecap="round"/><path d="M55 55Q70 60 75 75" fill="none" stroke="#471a6b" stroke-width="2" stroke-linecap="round"/><ellipse cx="85" cy="8" rx="12" ry="3" fill="#26848d"/><path d="M30 10Q45 18 40 30" fill="none" stroke="#471a6b" stroke-width="2.5" stroke-linecap="round"/><path d="M10 88Q30 80 50 90" fill="none" stroke="#471a6b" stroke-width="2.5" stroke-linecap="round"/></g></g><rect x="0.3" y="0.3" width="99.4" height="99.4" fill="none" stroke="#1a1a2a" stroke-width="0.6" opacity="0.7"/></svg>
<svg class="im" style="left:3402.8px;top:1854.7px;background:#39578b" width="109.9" height="109.4" viewBox="0 0 100 100" preserveAspectRatio="none"><g filter="url(#v3)"><g filter="url(#fgb)"><path fill="#471d6e" d="M-30 -30H0.4V0.4H-30zM0 -30H20.4V0.4H0zM-30 0H0.4V20.4H-30zM0 0H20.4V20.4H0z"/><path fill="#443780" d="M20 -30H40.4V0.4H20zM40 -30H60.4V0.4H40zM60 -30H80.4V0.4H60zM80 -30H100.4V0.4H80zM100 -30H130V0.4H100zM20 0H40.4V20.4H20zM40 0H60.4V20.4H40zM60 0H80.4V20.4H60zM80 0H100.4V20.4H80zM100 0H130V20.4H100zM20 20H40.4V40.4H20zM60 20H80.4V40.4H60zM80 20H100.4V40.4H80zM100 20H130V40.4H100zM-30 40H0.4V60.4H-30zM0 40H20.4V60.4H0zM80 40H100.4V60.4H80zM100 40H130V60.4H100zM80 60H100.4V80.4H80zM100 60H130V80.4H100zM-30 80H0.4V100.4H-30zM0 80H20.4V100.4H0zM-30 100H0.4V130H-30zM0 100H20.4V130H0z"/><path fill="#21918c" d="M-30 20H0.4V40.4H-30zM0 20H20.4V40.4H0zM60 60H80.4V80.4H60z"/><path fill="#39578b" d="M40 20H60.4V40.4H40zM20 40H40.4V60.4H20zM40 40H60.4V60.4H40zM60 40H80.4V60.4H60zM20 80H40.4V100.4H20zM40 80H60.4V100.4H40zM80 80H100.4V100.4H80zM100 80H130V100.4H100zM20 100H40.4V130H20zM40 100H60.4V130H40zM80 100H100.4V130H80zM100 100H130V130H100z"/><path fill="#22a884" d="M-30 60H0.4V80.4H-30zM0 60H20.4V80.4H0zM40 60H60.4V80.4H40z"/><path fill="#44bf70" d="M20 60H40.4V80.4H20z"/><path fill="#2c738e" d="M60 80H80.4V100.4H60zM60 100H80.4V130H60z"/></g><rect width="100" height="100" filter="url(#tx3)" opacity="0.6"/><g filter="url(#fm)"><path d="M3 70Q30 58 55 70Q68 80 78 92" fill="none" stroke="#bddf26" stroke-width="8" stroke-linecap="round"/><ellipse cx="6" cy="42" rx="6" ry="7" fill="#64ca5d"/></g><g filter="url(#fs)"><path d="M28 25Q38 35 32 50" fill="none" stroke="#471a6b" stroke-width="2" stroke-linecap="round"/><ellipse cx="55" cy="40" rx="8" ry="4" fill="#2a788e" transform="rotate(30 55 40)"/><ellipse cx="25" cy="92" rx="6" ry="3" fill="#22a884"/><path d="M5 55Q25 50 40 55" fill="none" stroke="#471a6b" stroke-width="2.5" stroke-linecap="round"/><path d="M55 20Q70 30 90 25" fill="none" stroke="#471a6b" stroke-width="3" stroke-linecap="round"/><path d="M5 10Q20 18 35 12" fill="none" stroke="#471a6b" stroke-width="2.5" stroke-linecap="round"/></g></g><rect x="0.3" y="0.3" width="99.4" height="99.4" fill="none" stroke="#1a1a2a" stroke-width="0.6" opacity="0.7"/></svg>
<svg class="im" style="left:3517.4px;top:1854.7px;background:#2c738e" width="109.9" height="109.4" viewBox="0 0 100 100" preserveAspectRatio="none"><g filter="url(#v1)"><g filter="url(#fgb)"><path fill="#471d6e" d="M-30 -30H0.4V0.4H-30zM0 -30H20.4V0.4H0zM-30 0H0.4V20.4H-30zM0 0H20.4V20.4H0z"/><path fill="#443780" d="M20 -30H40.4V0.4H20zM80 -30H100.4V0.4H80zM100 -30H130V0.4H100zM20 0H40.4V20.4H20zM80 0H100.4V20.4H80zM100 0H130V20.4H100zM60 20H80.4V40.4H60zM80 20H100.4V40.4H80zM100 20H130V40.4H100zM-30 80H0.4V100.4H-30zM0 80H20.4V100.4H0zM-30 100H0.4V130H-30zM0 100H20.4V130H0z"/><path fill="#39578b" d="M40 -30H60.4V0.4H40zM60 -30H80.4V0.4H60zM40 0H60.4V20.4H40zM60 0H80.4V20.4H60zM20 20H40.4V40.4H20zM-30 40H0.4V60.4H-30zM0 40H20.4V60.4H0zM20 40H40.4V60.4H20zM80 40H100.4V60.4H80zM100 40H130V60.4H100zM80 60H100.4V80.4H80zM100 60H130V80.4H100z"/><path fill="#22a884" d="M-30 20H0.4V40.4H-30zM0 20H20.4V40.4H0zM-30 60H0.4V80.4H-30zM0 60H20.4V80.4H0zM20 60H40.4V80.4H20zM40 60H60.4V80.4H40zM80 80H100.4V100.4H80zM100 80H130V100.4H100zM80 100H100.4V130H80zM100 100H130V130H100z"/><path fill="#2c738e" d="M40 20H60.4V40.4H40zM40 40H60.4V60.4H40zM60 40H80.4V60.4H60z"/><path fill="#44bf70" d="M60 60H80.4V80.4H60z"/><path fill="#21918c" d="M20 80H40.4V100.4H20zM40 80H60.4V100.4H40zM60 80H80.4V100.4H60zM20 100H40.4V130H20zM40 100H60.4V130H40zM60 100H80.4V130H60z"/></g><rect width="100" height="100" filter="url(#tx1)" opacity="0.6"/><g filter="url(#fm)"><path d="M52 65Q65 78 78 90" fill="none" stroke="#e3e425" stroke-width="9" stroke-linecap="round"/><path d="M2 68Q15 62 30 68" fill="none" stroke="#a2d937" stroke-width="7" stroke-linecap="round"/><ellipse cx="7" cy="38" rx="6" ry="8" fill="#7ad151"/></g><g filter="url(#fs)"><ellipse cx="25" cy="90" rx="12" ry="4" fill="#36b678" transform="rotate(-10 25 90)"/><ellipse cx="40" cy="25" rx="10" ry="3" fill="#22a884"/><path d="M38 45Q50 52 52 60" fill="none" stroke="#471a6b" stroke-width="2" stroke-linecap="round"/><ellipse cx="80" cy="95" rx="10" ry="4" fill="#22a884"/><path d="M45 40Q60 35 70 45" fill="none" stroke="#21918c" stroke-width="4" stroke-linecap="round"/><path d="M5 15Q25 10 40 15" fill="none" stroke="#471a6b" stroke-width="2.5" stroke-linecap="round"/><path d="M65 15Q80 25 95 20" fill="none" stroke="#471a6b" stroke-width="3" stroke-linecap="round"/></g></g><rect x="0.3" y="0.3" width="99.4" height="99.4" fill="none" stroke="#1a1a2a" stroke-width="0.6" opacity="0.7"/></svg>
<svg class="im" style="left:3631.7px;top:1854.7px;background:#39578b" width="109.9" height="109.4" viewBox="0 0 100 100" preserveAspectRatio="none"><g filter="url(#v2)"><g filter="url(#fgb)"><path fill="#471d6e" d="M-30 -30H0.4V0.4H-30zM0 -30H20.4V0.4H0zM-30 0H0.4V20.4H-30zM0 0H20.4V20.4H0z"/><path fill="#443780" d="M20 -30H40.4V0.4H20zM20 0H40.4V20.4H20zM20 20H40.4V40.4H20zM40 20H60.4V40.4H40zM60 20H80.4V40.4H60zM80 20H100.4V40.4H80zM100 20H130V40.4H100zM80 40H100.4V60.4H80zM100 40H130V60.4H100zM-30 80H0.4V100.4H-30zM0 80H20.4V100.4H0zM-30 100H0.4V130H-30zM0 100H20.4V130H0z"/><path fill="#39578b" d="M40 -30H60.4V0.4H40zM80 -30H100.4V0.4H80zM100 -30H130V0.4H100zM40 0H60.4V20.4H40zM80 0H100.4V20.4H80zM100 0H130V20.4H100zM-30 40H0.4V60.4H-30zM0 40H20.4V60.4H0zM20 40H40.4V60.4H20zM40 40H60.4V60.4H40zM80 60H100.4V80.4H80zM100 60H130V80.4H100zM60 80H80.4V100.4H60zM80 80H100.4V100.4H80zM100 80H130V100.4H100zM60 100H80.4V130H60zM80 100H100.4V130H80zM100 100H130V130H100z"/><path fill="#2c738e" d="M60 -30H80.4V0.4H60zM60 0H80.4V20.4H60zM-30 20H0.4V40.4H-30zM0 20H20.4V40.4H0zM60 40H80.4V60.4H60zM20 80H40.4V100.4H20zM40 80H60.4V100.4H40zM20 100H40.4V130H20zM40 100H60.4V130H40z"/><path fill="#21918c" d="M-30 60H0.4V80.4H-30zM0 60H20.4V80.4H0zM20 60H40.4V80.4H20zM40 60H60.4V80.4H40z"/><path fill="#22a884" d="M60 60H80.4V80.4H60z"/></g><rect width="100" height="100" filter="url(#tx2)" opacity="0.6"/><g filter="url(#fm)"><path d="M2 72Q20 62 35 68" fill="none" stroke="#64ca5d" stroke-width="8" stroke-linecap="round"/><path d="M55 60Q65 72 75 88" fill="none" stroke="#cae126" stroke-width="7" stroke-linecap="round"/><ellipse cx="12" cy="35" rx="6" ry="9" fill="#64ca5d" transform="rotate(20 12 35)"/></g><g filter="url(#fs)"><path d="M55 5Q80 8 98 3" fill="none" stroke="#25878d" stroke-width="3" stroke-linecap="round"/><ellipse cx="78" cy="58" rx="3" ry="4" fill="#21918c"/><ellipse cx="30" cy="92" rx="10" ry="3" fill="#21918c"/><path d="M30 30Q45 25 55 32" fill="none" stroke="#2a788e" stroke-width="3" stroke-linecap="round"/><path d="M5 12Q30 18 50 14" fill="none" stroke="#471a6b" stroke-width="3" stroke-linecap="round"/><path d="M40 48Q60 50 70 42" fill="none" stroke="#471a6b" stroke-width="3" stroke-linecap="round"/><path d="M82 40Q90 60 95 80" fill="none" stroke="#471a6b" stroke-width="3" stroke-linecap="round"/></g></g><rect x="0.3" y="0.3" width="99.4" height="99.4" fill="none" stroke="#1a1a2a" stroke-width="0.6" opacity="0.7"/></svg>
<svg class="im" style="left:3173.9px;top:1964.8px;background:#39578b" width="109.9" height="109.4" viewBox="0 0 100 100" preserveAspectRatio="none"><g filter="url(#v3)"><g filter="url(#fgb)"><path fill="#471d6e" d="M-30 -30H0.4V0.4H-30zM0 -30H20.4V0.4H0zM-30 0H0.4V20.4H-30zM0 0H20.4V20.4H0z"/><path fill="#443780" d="M20 -30H40.4V0.4H20zM40 -30H60.4V0.4H40zM60 -30H80.4V0.4H60zM80 -30H100.4V0.4H80zM100 -30H130V0.4H100zM20 0H40.4V20.4H20zM40 0H60.4V20.4H40zM60 0H80.4V20.4H60zM80 0H100.4V20.4H80zM100 0H130V20.4H100zM20 20H40.4V40.4H20zM60 20H80.4V40.4H60zM80 20H100.4V40.4H80zM100 20H130V40.4H100zM80 40H100.4V60.4H80zM100 40H130V60.4H100zM80 60H100.4V80.4H80zM100 60H130V80.4H100zM-30 80H0.4V100.4H-30zM0 80H20.4V100.4H0zM20 80H40.4V100.4H20zM-30 100H0.4V130H-30zM0 100H20.4V130H0zM20 100H40.4V130H20z"/><path fill="#39578b" d="M-30 20H0.4V40.4H-30zM0 20H20.4V40.4H0zM40 20H60.4V40.4H40zM20 40H40.4V60.4H20zM40 40H60.4V60.4H40zM60 40H80.4V60.4H60zM-30 60H0.4V80.4H-30zM0 60H20.4V80.4H0zM20 60H40.4V80.4H20zM40 80H60.4V100.4H40zM40 100H60.4V130H40z"/><path fill="#2c738e" d="M-30 40H0.4V60.4H-30zM0 40H20.4V60.4H0zM80 80H100.4V100.4H80zM100 80H130V100.4H100zM80 100H100.4V130H80zM100 100H130V130H100z"/><path fill="#21918c" d="M40 60H60.4V80.4H40z"/><path fill="#22a884" d="M60 60H80.4V80.4H60zM60 80H80.4V100.4H60zM60 100H80.4V130H60z"/></g><rect width="100" height="100" filter="url(#tx3)" opacity="0.6"/><g filter="url(#fm)"><path d="M62 65Q70 80 85 95" fill="none" stroke="#d7e226" stroke-width="7" stroke-linecap="round"/><ellipse cx="3" cy="42" rx="5" ry="7" fill="#7ad151"/></g><g filter="url(#fs)"><path d="M5 62Q25 55 45 45" fill="none" stroke="#21918c" stroke-width="5" stroke-linecap="round"/><path d="M65 45Q75 65 85 80" fill="none" stroke="#461264" stroke-width="2" stroke-linecap="round"/><path d="M25 25Q40 18 55 25" fill="none" stroke="#2a788e" stroke-width="3" stroke-linecap="round"/><path d="M5 30Q20 28 30 35" fill="none" stroke="#471a6b" stroke-width="2.5" stroke-linecap="round"/><path d="M50 10Q70 15 95 10" fill="none" stroke="#471a6b" stroke-width="3" stroke-linecap="round"/><ellipse cx="12" cy="95" rx="6" ry="3" fill="#21918c"/></g></g><rect x="0.3" y="0.3" width="99.4" height="99.4" fill="none" stroke="#1a1a2a" stroke-width="0.6" opacity="0.7"/></svg>
<svg class="im" style="left:3288.5px;top:1964.8px;background:#2c738e" width="109.9" height="109.4" viewBox="0 0 100 100" preserveAspectRatio="none"><g filter="url(#v1)"><g filter="url(#fgb)"><path fill="#471d6e" d="M-30 -30H0.4V0.4H-30zM0 -30H20.4V0.4H0zM-30 0H0.4V20.4H-30zM0 0H20.4V20.4H0z"/><path fill="#443780" d="M20 -30H40.4V0.4H20zM40 -30H60.4V0.4H40zM60 -30H80.4V0.4H60zM80 -30H100.4V0.4H80zM100 -30H130V0.4H100zM20 0H40.4V20.4H20zM40 0H60.4V20.4H40zM60 0H80.4V20.4H60zM80 0H100.4V20.4H80zM100 0H130V20.4H100zM-30 20H0.4V40.4H-30zM0 20H20.4V40.4H0zM20 20H40.4V40.4H20zM60 20H80.4V40.4H60zM80 20H100.4V40.4H80zM100 20H130V40.4H100zM-30 40H0.4V60.4H-30zM0 40H20.4V60.4H0zM80 40H100.4V60.4H80zM100 40H130V60.4H100zM80 60H100.4V80.4H80zM100 60H130V80.4H100zM-30 80H0.4V100.4H-30zM0 80H20.4V100.4H0zM80 80H100.4V100.4H80zM100 80H130V100.4H100zM-30 100H0.4V130H-30zM0 100H20.4V130H0zM80 100H100.4V130H80zM100 100H130V130H100z"/><path fill="#39578b" d="M40 20H60.4V40.4H40zM20 40H40.4V60.4H20zM60 40H80.4V60.4H60zM20 80H40.4V100.4H20zM40 80H60.4V100.4H40zM60 80H80.4V100.4H60zM20 100H40.4V130H20zM40 100H60.4V130H40zM60 100H80.4V130H60z"/><path fill="#2c738e" d="M40 40H60.4V60.4H40zM-30 60H0.4V80.4H-30zM0 60H20.4V80.4H0zM60 60H80.4V80.4H60z"/><path fill="#22a884" d="M20 60H40.4V80.4H20z"/><path fill="#44bf70" d="M40 60H60.4V80.4H40z"/></g><rect width="100" height="100" filter="url(#tx1)" opacity="0.6"/><g filter="url(#fm)"><path d="M5 75Q30 58 50 65Q65 72 78 82" fill="none" stroke="#22a884" stroke-width="8" stroke-linecap="round"/><ellipse cx="40" cy="63" rx="9" ry="5" fill="#eae525"/><ellipse cx="12" cy="38" rx="6" ry="8" fill="#306c8e"/><ellipse cx="55" cy="40" rx="8" ry="5" fill="#306c8e" transform="rotate(30 55 40)"/></g><g filter="url(#fs)"><path d="M20 30Q35 40 30 55" fill="none" stroke="#471a6b" stroke-width="2" stroke-linecap="round"/><path d="M55 50Q70 55 80 70" fill="none" stroke="#471a6b" stroke-width="2.5" stroke-linecap="round"/><path d="M10 92Q30 85 50 92" fill="none" stroke="#471a6b" stroke-width="2.5" stroke-linecap="round"/></g></g><rect x="0.3" y="0.3" width="99.4" height="99.4" fill="none" stroke="#1a1a2a" stroke-width="0.6" opacity="0.7"/></svg>
<svg class="im" style="left:3402.8px;top:1964.8px;background:#39578b" width="109.9" height="109.4" viewBox="0 0 100 100" preserveAspectRatio="none"><g filter="url(#v2)"><g filter="url(#fgb)"><path fill="#471d6e" d="M-30 -30H0.4V0.4H-30zM0 -30H20.4V0.4H0zM20 -30H40.4V0.4H20zM-30 0H0.4V20.4H-30zM0 0H20.4V20.4H0zM20 0H40.4V20.4H20z"/><path fill="#443780" d="M40 -30H60.4V0.4H40zM60 -30H80.4V0.4H60zM80 -30H100.4V0.4H80zM100 -30H130V0.4H100zM40 0H60.4V20.4H40zM60 0H80.4V20.4H60zM80 0H100.4V20.4H80zM100 0H130V20.4H100zM20 20H40.4V40.4H20zM60 20H80.4V40.4H60zM80 20H100.4V40.4H80zM100 20H130V40.4H100zM-30 40H0.4V60.4H-30zM0 40H20.4V60.4H0zM20 40H40.4V60.4H20zM60 40H80.4V60.4H60zM80 40H100.4V60.4H80zM100 40H130V60.4H100zM80 60H100.4V80.4H80zM100 60H130V80.4H100zM-30 80H0.4V100.4H-30zM0 80H20.4V100.4H0zM20 80H40.4V100.4H20zM80 80H100.4V100.4H80zM100 80H130V100.4H100zM-30 100H0.4V130H-30zM0 100H20.4V130H0zM20 100H40.4V130H20zM80 100H100.4V130H80zM100 100H130V130H100z"/><path fill="#39578b" d="M-30 20H0.4V40.4H-30zM0 20H20.4V40.4H0zM40 20H60.4V40.4H40zM40 40H60.4V60.4H40zM60 60H80.4V80.4H60zM40 80H60.4V100.4H40zM40 100H60.4V130H40z"/><path fill="#44bf70" d="M-30 60H0.4V80.4H-30zM0 60H20.4V80.4H0z"/><path fill="#22a884" d="M20 60H40.4V80.4H20z"/><path fill="#2c738e" d="M40 60H60.4V80.4H40z"/><path fill="#21918c" d="M60 80H80.4V100.4H60zM60 100H80.4V130H60z"/></g><rect width="100" height="100" filter="url(#tx2)" opacity="0.6"/><g filter="url(#fm)"><path d="M3 68Q25 60 45 68Q60 78 72 92" fill="none" stroke="#bddf26" stroke-width="7" stroke-linecap="round"/><ellipse cx="8" cy="38" rx="5" ry="6" fill="#21918c"/></g><g filter="url(#fs)"><ellipse cx="45" cy="30" rx="8" ry="4" fill="#306c8e" transform="rotate(30 45 30)"/><path d="M25 20Q35 32 30 45" fill="none" stroke="#471a6b" stroke-width="2" stroke-linecap="round"/><path d="M55 15Q70 25 90 20" fill="none" stroke="#471a6b" stroke-width="3" stroke-linecap="round"/><path d="M5 50Q20 48 35 55" fill="none" stroke="#471a6b" stroke-width="2.5" stroke-linecap="round"/></g></g><rect x="0.3" y="0.3" width="99.4" height="99.4" fill="none" stroke="#1a1a2a" stroke-width="0.6" opacity="0.7"/></svg>
<svg class="im" style="left:3517.4px;top:1964.8px;background:#2c738e" width="109.9" height="109.4" viewBox="0 0 100 100" preserveAspectRatio="none"><g filter="url(#v3)"><g filter="url(#fgb)"><path fill="#471d6e" d="M-30 -30H0.4V0.4H-30zM0 -30H20.4V0.4H0zM-30 0H0.4V20.4H-30zM0 0H20.4V20.4H0z"/><path fill="#443780" d="M20 -30H40.4V0.4H20zM60 -30H80.4V0.4H60zM80 -30H100.4V0.4H80zM100 -30H130V0.4H100zM20 0H40.4V20.4H20zM60 0H80.4V20.4H60zM80 0H100.4V20.4H80zM100 0H130V20.4H100zM80 20H100.4V40.4H80zM100 20H130V40.4H100zM80 40H100.4V60.4H80zM100 40H130V60.4H100zM-30 80H0.4V100.4H-30zM0 80H20.4V100.4H0zM-30 100H0.4V130H-30zM0 100H20.4V130H0z"/><path fill="#39578b" d="M40 -30H60.4V0.4H40zM40 0H60.4V20.4H40zM20 20H40.4V40.4H20zM60 20H80.4V40.4H60zM-30 40H0.4V60.4H-30zM0 40H20.4V60.4H0zM20 40H40.4V60.4H20zM60 40H80.4V60.4H60zM80 60H100.4V80.4H80zM100 60H130V80.4H100z"/><path fill="#21918c" d="M-30 20H0.4V40.4H-30zM0 20H20.4V40.4H0zM40 60H60.4V80.4H40zM20 80H40.4V100.4H20zM20 100H40.4V130H20z"/><path fill="#2c738e" d="M40 20H60.4V40.4H40zM40 40H60.4V60.4H40zM40 80H60.4V100.4H40zM80 80H100.4V100.4H80zM100 80H130V100.4H100zM40 100H60.4V130H40zM80 100H100.4V130H80zM100 100H130V130H100z"/><path fill="#44bf70" d="M-30 60H0.4V80.4H-30zM0 60H20.4V80.4H0z"/><path fill="#22a884" d="M20 60H40.4V80.4H20zM60 60H80.4V80.4H60zM60 80H80.4V100.4H60zM60 100H80.4V130H60z"/></g><rect width="100" height="100" filter="url(#tx3)" opacity="0.6"/><g filter="url(#fm)"><path d="M3 68Q18 65 30 70" fill="none" stroke="#e3e425" stroke-width="6" stroke-linecap="round"/><path d="M50 68Q62 75 75 90" fill="none" stroke="#cae126" stroke-width="8" stroke-linecap="round"/><ellipse cx="5" cy="38" rx="5" ry="8" fill="#64ca5d"/></g><g filter="url(#fs)"><ellipse cx="58" cy="55" rx="10" ry="4" fill="#44bf70" transform="rotate(25 58 55)"/><ellipse cx="22" cy="88" rx="10" ry="4" fill="#44bf70" transform="rotate(-15 22 88)"/><ellipse cx="40" cy="22" rx="10" ry="3" fill="#229c88"/><path d="M35 42Q45 48 48 58" fill="none" stroke="#471a6b" stroke-width="2" stroke-linecap="round"/><path d="M60 12Q75 22 92 18" fill="none" stroke="#471a6b" stroke-width="3" stroke-linecap="round"/></g></g><rect x="0.3" y="0.3" width="99.4" height="99.4" fill="none" stroke="#1a1a2a" stroke-width="0.6" opacity="0.7"/></svg>
<svg class="im" style="left:3631.7px;top:1964.8px;background:#2c738e" width="109.9" height="109.4" viewBox="0 0 100 100" preserveAspectRatio="none"><g filter="url(#v1)"><g filter="url(#fgb)"><path fill="#443780" d="M-30 -30H0.4V0.4H-30zM0 -30H20.4V0.4H0zM20 -30H40.4V0.4H20zM40 -30H60.4V0.4H40zM60 -30H80.4V0.4H60zM80 -30H100.4V0.4H80zM100 -30H130V0.4H100zM-30 0H0.4V20.4H-30zM0 0H20.4V20.4H0zM20 0H40.4V20.4H20zM40 0H60.4V20.4H40zM60 0H80.4V20.4H60zM80 0H100.4V20.4H80zM100 0H130V20.4H100zM80 20H100.4V40.4H80zM100 20H130V40.4H100zM80 40H100.4V60.4H80zM100 40H130V60.4H100zM-30 80H0.4V100.4H-30zM0 80H20.4V100.4H0zM20 80H40.4V100.4H20zM-30 100H0.4V130H-30zM0 100H20.4V130H0zM20 100H40.4V130H20z"/><path fill="#39578b" d="M-30 20H0.4V40.4H-30zM0 20H20.4V40.4H0zM20 20H40.4V40.4H20zM60 20H80.4V40.4H60zM60 40H80.4V60.4H60zM80 60H100.4V80.4H80zM100 60H130V80.4H100zM40 80H60.4V100.4H40zM80 80H100.4V100.4H80zM100 80H130V100.4H100zM40 100H60.4V130H40zM80 100H100.4V130H80zM100 100H130V130H100z"/><path fill="#2c738e" d="M40 20H60.4V40.4H40zM-30 40H0.4V60.4H-30zM0 40H20.4V60.4H0zM20 40H40.4V60.4H20zM40 40H60.4V60.4H40z"/><path fill="#21918c" d="M-30 60H0.4V80.4H-30zM0 60H20.4V80.4H0zM40 60H60.4V80.4H40zM60 60H80.4V80.4H60z"/><path fill="#22a884" d="M20 60H40.4V80.4H20zM60 80H80.4V100.4H60zM60 100H80.4V130H60z"/></g><rect width="100" height="100" filter="url(#tx1)" opacity="0.6"/><g filter="url(#fm)"><path d="M5 68Q25 65 40 62" fill="none" stroke="#a2d937" stroke-width="6" stroke-linecap="round"/></g><g filter="url(#fs)"><path d="M5 45Q20 40 30 28Q40 22 55 25" fill="none" stroke="#22a884" stroke-width="5" stroke-linecap="round"/><ellipse cx="68" cy="62" rx="3" ry="5" fill="#eae525"/><ellipse cx="74" cy="85" rx="3" ry="6" fill="#eae525"/><ellipse cx="80" cy="58" rx="2" ry="4" fill="#44bf70"/><path d="M60 45Q70 60 65 75" fill="none" stroke="#471a6b" stroke-width="2" stroke-linecap="round"/><path d="M10 15Q30 10 50 12" fill="none" stroke="#471a6b" stroke-width="3" stroke-linecap="round"/><path d="M80 30Q90 50 95 70" fill="none" stroke="#471a6b" stroke-width="3" stroke-linecap="round"/><ellipse cx="55" cy="66" rx="8" ry="3" fill="#22a884" transform="rotate(-10 55 66)"/></g></g><rect x="0.3" y="0.3" width="99.4" height="99.4" fill="none" stroke="#1a1a2a" stroke-width="0.6" opacity="0.7"/></svg>
<svg style="left:0;top:0" width="1" height="1"><rect x="1345.45" y="2439.35" width="195.80" height="43.50" rx="8" ry="8" fill="none" stroke="#4a6fb5" stroke-width="3.3"/></svg>
<svg style="left:0;top:0" width="1" height="1"><rect x="1575.65" y="2439.35" width="122.20" height="43.50" rx="8" ry="8" fill="none" stroke="#4a6fb5" stroke-width="3.3"/></svg>
<svg style="left:0;top:0" width="1" height="1"><rect x="1732.05" y="2413.65" width="249.20" height="95.50" rx="13" ry="13" fill="none" stroke="#4a6fb5" stroke-width="3.3"/></svg>
<svg style="left:0;top:0" width="1" height="1"><rect x="2015.95" y="2413.65" width="437.40" height="95.50" rx="13" ry="13" fill="none" stroke="#4a6fb5" stroke-width="3.3"/></svg>
<svg style="left:0;top:0" width="1" height="1"><path d="M1425.1 2483.5 V2582.7" stroke="#4a6fb5" stroke-width="3.9" fill="none"/><path d="M1418.5 2581.7 H1431.6999999999998 L1425.1 2594.1 Z" fill="#4a6fb5"/></svg>
<svg style="left:0;top:0" width="1" height="1"><path d="M1603 2483.5 V2616.2999999999997" stroke="#4a6fb5" stroke-width="3.9" fill="none"/><path d="M1596.4 2615.2999999999997 H1609.6 L1603 2627.7 Z" fill="#4a6fb5"/></svg>
<svg style="left:0;top:0" width="1" height="1"><path d="M1849.8 2510 V2625.4" stroke="#4a6fb5" stroke-width="3.9" fill="none"/><path d="M1843.2 2624.4 H1856.3999999999999 L1849.8 2636.8 Z" fill="#4a6fb5"/></svg>
<svg style="left:0;top:0" width="1" height="1"><path d="M2245.4 2510 V2625.4" stroke="#4a6fb5" stroke-width="3.9" fill="none"/><path d="M2238.8 2624.4 H2252.0 L2245.4 2636.8 Z" fill="#4a6fb5"/></svg>
<div class="a" style="left:1734.8px;top:2460.1px;width:26px;height:1.5px;background:#000;"></div>
<div class="a" style="left:2218.4px;top:2460.1px;width:26.5px;height:1.5px;background:#000;"></div>
<svg style="left:0;top:0" width="1" height="1" fill="none" stroke="#000" stroke-width="1.7">
<path d="M2099.5 2418.2H2093.2V2505.4H2099.5"/>
<path d="M2435.8 2418.2H2442V2505.4H2435.8"/>
<path d="M2169.6 2417.5Q2146 2461 2169.6 2505.5" stroke-width="1.9"/>
<path d="M2347.6 2417.5Q2371.5 2461 2347.6 2505.5" stroke-width="1.9"/>
<path d="M2242.6 2518.5Q2227.5 2545 2242.6 2572" stroke-width="1.8"/>
<path d="M2489.7 2518.5Q2505 2545 2489.7 2572" stroke-width="1.8"/>
<path d="M1803 2545.5L1807 2543L1815.5 2560.5L1828.5 2526H2031.7" stroke-width="1.5"/>
<path d="M2073.5 2545.5L2077.5 2543L2086 2560.5L2099 2526H2223" stroke-width="1.5"/>
<path d="M2250 2545.5L2254 2543L2262.5 2560.5L2275.5 2526H2323.5" stroke-width="1.5"/>
<path d="M2363 2545.5L2367 2543L2375.5 2560.5L2388.5 2526H2487" stroke-width="1.5"/>
</svg>
<svg style="left:0;top:0" width="1" height="1"><rect x="2271.00" y="1929.10" width="9.22" height="9.22" fill="#bcdc3e"/><rect x="2279.92" y="1929.10" width="9.22" height="9.22" fill="#aed947"/><rect x="2288.85" y="1929.10" width="9.22" height="9.22" fill="#82d063"/><rect x="2297.77" y="1929.10" width="9.22" height="9.22" fill="#54bf7e"/><rect x="2306.69" y="1929.10" width="9.22" height="9.22" fill="#39ab8e"/><rect x="2315.62" y="1929.10" width="9.22" height="9.22" fill="#389a94"/><rect x="2324.54" y="1929.10" width="9.22" height="9.22" fill="#3c8f95"/><rect x="2333.46" y="1929.10" width="9.22" height="9.22" fill="#3e8995"/><rect x="2342.38" y="1929.10" width="9.22" height="9.22" fill="#3e8996"/><rect x="2351.31" y="1929.10" width="9.22" height="9.22" fill="#3d8e95"/><rect x="2360.23" y="1929.10" width="9.22" height="9.22" fill="#389994"/><rect x="2369.15" y="1929.10" width="9.22" height="9.22" fill="#39a491"/><rect x="2378.08" y="1929.10" width="9.22" height="9.22" fill="#39ad8e"/><rect x="2271.00" y="1938.02" width="9.22" height="9.22" fill="#f0e23c"/><rect x="2279.92" y="1938.02" width="9.22" height="9.22" fill="#dfe13c"/><rect x="2288.85" y="1938.02" width="9.22" height="9.22" fill="#a9d84a"/><rect x="2297.77" y="1938.02" width="9.22" height="9.22" fill="#66c674"/><rect x="2306.69" y="1938.02" width="9.22" height="9.22" fill="#3bae8d"/><rect x="2315.62" y="1938.02" width="9.22" height="9.22" fill="#389994"/><rect x="2324.54" y="1938.02" width="9.22" height="9.22" fill="#3e8b95"/><rect x="2333.46" y="1938.02" width="9.22" height="9.22" fill="#408496"/><rect x="2342.38" y="1938.02" width="9.22" height="9.22" fill="#408496"/><rect x="2351.31" y="1938.02" width="9.22" height="9.22" fill="#3e8b95"/><rect x="2360.23" y="1938.02" width="9.22" height="9.22" fill="#399794"/><rect x="2369.15" y="1938.02" width="9.22" height="9.22" fill="#39a690"/><rect x="2378.08" y="1938.02" width="9.22" height="9.22" fill="#40b18a"/><rect x="2271.00" y="1946.95" width="9.22" height="9.22" fill="#f6e33c"/><rect x="2279.92" y="1946.95" width="9.22" height="9.22" fill="#f6e33c"/><rect x="2288.85" y="1946.95" width="9.22" height="9.22" fill="#c0dc3d"/><rect x="2297.77" y="1946.95" width="9.22" height="9.22" fill="#73ca6c"/><rect x="2306.69" y="1946.95" width="9.22" height="9.22" fill="#40b18a"/><rect x="2315.62" y="1946.95" width="9.22" height="9.22" fill="#389c94"/><rect x="2324.54" y="1946.95" width="9.22" height="9.22" fill="#3e8c95"/><rect x="2333.46" y="1946.95" width="9.22" height="9.22" fill="#408596"/><rect x="2342.38" y="1946.95" width="9.22" height="9.22" fill="#408496"/><rect x="2351.31" y="1946.95" width="9.22" height="9.22" fill="#3e8b95"/><rect x="2360.23" y="1946.95" width="9.22" height="9.22" fill="#389994"/><rect x="2369.15" y="1946.95" width="9.22" height="9.22" fill="#39a98f"/><rect x="2378.08" y="1946.95" width="9.22" height="9.22" fill="#45b687"/><rect x="2271.00" y="1955.87" width="9.22" height="9.22" fill="#f6e33c"/><rect x="2279.92" y="1955.87" width="9.22" height="9.22" fill="#f6e33c"/><rect x="2288.85" y="1955.87" width="9.22" height="9.22" fill="#bfdc3d"/><rect x="2297.77" y="1955.87" width="9.22" height="9.22" fill="#75cb6b"/><rect x="2306.69" y="1955.87" width="9.22" height="9.22" fill="#43b488"/><rect x="2315.62" y="1955.87" width="9.22" height="9.22" fill="#389f93"/><rect x="2324.54" y="1955.87" width="9.22" height="9.22" fill="#3b9195"/><rect x="2333.46" y="1955.87" width="9.22" height="9.22" fill="#3e8a95"/><rect x="2342.38" y="1955.87" width="9.22" height="9.22" fill="#3e8995"/><rect x="2351.31" y="1955.87" width="9.22" height="9.22" fill="#3c9095"/><rect x="2360.23" y="1955.87" width="9.22" height="9.22" fill="#389c94"/><rect x="2369.15" y="1955.87" width="9.22" height="9.22" fill="#39ab8e"/><rect x="2378.08" y="1955.87" width="9.22" height="9.22" fill="#48b885"/><rect x="2271.00" y="1964.79" width="9.22" height="9.22" fill="#e4e13c"/><rect x="2279.92" y="1964.79" width="9.22" height="9.22" fill="#d6df3d"/><rect x="2288.85" y="1964.79" width="9.22" height="9.22" fill="#a5d74d"/><rect x="2297.77" y="1964.79" width="9.22" height="9.22" fill="#69c772"/><rect x="2306.69" y="1964.79" width="9.22" height="9.22" fill="#41b289"/><rect x="2315.62" y="1964.79" width="9.22" height="9.22" fill="#38a192"/><rect x="2324.54" y="1964.79" width="9.22" height="9.22" fill="#3a9494"/><rect x="2333.46" y="1964.79" width="9.22" height="9.22" fill="#3d8d95"/><rect x="2342.38" y="1964.79" width="9.22" height="9.22" fill="#3e8c95"/><rect x="2351.31" y="1964.79" width="9.22" height="9.22" fill="#3b9195"/><rect x="2360.23" y="1964.79" width="9.22" height="9.22" fill="#389c94"/><rect x="2369.15" y="1964.79" width="9.22" height="9.22" fill="#39ab8e"/><rect x="2378.08" y="1964.79" width="9.22" height="9.22" fill="#45b687"/><rect x="2271.00" y="1973.72" width="9.22" height="9.22" fill="#abd849"/><rect x="2279.92" y="1973.72" width="9.22" height="9.22" fill="#a0d650"/><rect x="2288.85" y="1973.72" width="9.22" height="9.22" fill="#7bcd67"/><rect x="2297.77" y="1973.72" width="9.22" height="9.22" fill="#53be7e"/><rect x="2306.69" y="1973.72" width="9.22" height="9.22" fill="#39ac8e"/><rect x="2315.62" y="1973.72" width="9.22" height="9.22" fill="#389d94"/><rect x="2324.54" y="1973.72" width="9.22" height="9.22" fill="#3c9095"/><rect x="2333.46" y="1973.72" width="9.22" height="9.22" fill="#3f8696"/><rect x="2342.38" y="1973.72" width="9.22" height="9.22" fill="#408396"/><rect x="2351.31" y="1973.72" width="9.22" height="9.22" fill="#3e8796"/><rect x="2360.23" y="1973.72" width="9.22" height="9.22" fill="#3a9395"/><rect x="2369.15" y="1973.72" width="9.22" height="9.22" fill="#38a391"/><rect x="2378.08" y="1973.72" width="9.22" height="9.22" fill="#3baf8d"/><rect x="2271.00" y="1982.64" width="9.22" height="9.22" fill="#70ca6e"/><rect x="2279.92" y="1982.64" width="9.22" height="9.22" fill="#69c771"/><rect x="2288.85" y="1982.64" width="9.22" height="9.22" fill="#55bf7d"/><rect x="2297.77" y="1982.64" width="9.22" height="9.22" fill="#41b289"/><rect x="2306.69" y="1982.64" width="9.22" height="9.22" fill="#38a391"/><rect x="2315.62" y="1982.64" width="9.22" height="9.22" fill="#3b9395"/><rect x="2324.54" y="1982.64" width="9.22" height="9.22" fill="#418196"/><rect x="2333.46" y="1982.64" width="9.22" height="9.22" fill="#487395"/><rect x="2342.38" y="1982.64" width="9.22" height="9.22" fill="#4b6a94"/><rect x="2351.31" y="1982.64" width="9.22" height="9.22" fill="#4a6e95"/><rect x="2360.23" y="1982.64" width="9.22" height="9.22" fill="#437e96"/><rect x="2369.15" y="1982.64" width="9.22" height="9.22" fill="#3b9395"/><rect x="2378.08" y="1982.64" width="9.22" height="9.22" fill="#38a391"/><rect x="2271.00" y="1991.56" width="9.22" height="9.22" fill="#4ab883"/><rect x="2279.92" y="1991.56" width="9.22" height="9.22" fill="#47b785"/><rect x="2288.85" y="1991.56" width="9.22" height="9.22" fill="#3eb18b"/><rect x="2297.77" y="1991.56" width="9.22" height="9.22" fill="#39a690"/><rect x="2306.69" y="1991.56" width="9.22" height="9.22" fill="#389994"/><rect x="2315.62" y="1991.56" width="9.22" height="9.22" fill="#408596"/><rect x="2324.54" y="1991.56" width="9.22" height="9.22" fill="#4a6d95"/><rect x="2333.46" y="1991.56" width="9.22" height="9.22" fill="#55538e"/><rect x="2342.38" y="1991.56" width="9.22" height="9.22" fill="#584385"/><rect x="2351.31" y="1991.56" width="9.22" height="9.22" fill="#574888"/><rect x="2360.23" y="1991.56" width="9.22" height="9.22" fill="#506192"/><rect x="2369.15" y="1991.56" width="9.22" height="9.22" fill="#447d96"/><rect x="2378.08" y="1991.56" width="9.22" height="9.22" fill="#3a9494"/><rect x="2271.00" y="2000.48" width="9.22" height="9.22" fill="#39ab8e"/><rect x="2279.92" y="2000.48" width="9.22" height="9.22" fill="#39aa8f"/><rect x="2288.85" y="2000.48" width="9.22" height="9.22" fill="#39a590"/><rect x="2297.77" y="2000.48" width="9.22" height="9.22" fill="#389e93"/><rect x="2306.69" y="2000.48" width="9.22" height="9.22" fill="#3c9095"/><rect x="2315.62" y="2000.48" width="9.22" height="9.22" fill="#447b96"/><rect x="2324.54" y="2000.48" width="9.22" height="9.22" fill="#515d92"/><rect x="2333.46" y="2000.48" width="9.22" height="9.22" fill="#5a3a7f"/><rect x="2342.38" y="2000.48" width="9.22" height="9.22" fill="#57246a"/><rect x="2351.31" y="2000.48" width="9.22" height="9.22" fill="#58296f"/><rect x="2360.23" y="2000.48" width="9.22" height="9.22" fill="#574988"/><rect x="2369.15" y="2000.48" width="9.22" height="9.22" fill="#4a6e95"/><rect x="2378.08" y="2000.48" width="9.22" height="9.22" fill="#3e8896"/><rect x="2271.00" y="2009.41" width="9.22" height="9.22" fill="#38a291"/><rect x="2279.92" y="2009.41" width="9.22" height="9.22" fill="#38a192"/><rect x="2288.85" y="2009.41" width="9.22" height="9.22" fill="#389f93"/><rect x="2297.77" y="2009.41" width="9.22" height="9.22" fill="#389994"/><rect x="2306.69" y="2009.41" width="9.22" height="9.22" fill="#3d8e95"/><rect x="2315.62" y="2009.41" width="9.22" height="9.22" fill="#447b96"/><rect x="2324.54" y="2009.41" width="9.22" height="9.22" fill="#506092"/><rect x="2333.46" y="2009.41" width="9.22" height="9.22" fill="#593f82"/><rect x="2342.38" y="2009.41" width="9.22" height="9.22" fill="#58296f"/><rect x="2351.31" y="2009.41" width="9.22" height="9.22" fill="#582f75"/><rect x="2360.23" y="2009.41" width="9.22" height="9.22" fill="#564b89"/><rect x="2369.15" y="2009.41" width="9.22" height="9.22" fill="#4a6d95"/><rect x="2378.08" y="2009.41" width="9.22" height="9.22" fill="#3f8696"/><rect x="2271.00" y="2018.33" width="9.22" height="9.22" fill="#38a092"/><rect x="2279.92" y="2018.33" width="9.22" height="9.22" fill="#38a092"/><rect x="2288.85" y="2018.33" width="9.22" height="9.22" fill="#389f93"/><rect x="2297.77" y="2018.33" width="9.22" height="9.22" fill="#389a94"/><rect x="2306.69" y="2018.33" width="9.22" height="9.22" fill="#3b9395"/><rect x="2315.62" y="2018.33" width="9.22" height="9.22" fill="#408596"/><rect x="2324.54" y="2018.33" width="9.22" height="9.22" fill="#487295"/><rect x="2333.46" y="2018.33" width="9.22" height="9.22" fill="#515d92"/><rect x="2342.38" y="2018.33" width="9.22" height="9.22" fill="#564f8c"/><rect x="2351.31" y="2018.33" width="9.22" height="9.22" fill="#55538e"/><rect x="2360.23" y="2018.33" width="9.22" height="9.22" fill="#4e6493"/><rect x="2369.15" y="2018.33" width="9.22" height="9.22" fill="#457995"/><rect x="2378.08" y="2018.33" width="9.22" height="9.22" fill="#3e8a95"/><rect x="2271.00" y="2027.25" width="9.22" height="9.22" fill="#39ab8e"/><rect x="2279.92" y="2027.25" width="9.22" height="9.22" fill="#39ab8e"/><rect x="2288.85" y="2027.25" width="9.22" height="9.22" fill="#39aa8e"/><rect x="2297.77" y="2027.25" width="9.22" height="9.22" fill="#39a590"/><rect x="2306.69" y="2027.25" width="9.22" height="9.22" fill="#389e93"/><rect x="2315.62" y="2027.25" width="9.22" height="9.22" fill="#3a9395"/><rect x="2324.54" y="2027.25" width="9.22" height="9.22" fill="#3f8796"/><rect x="2333.46" y="2027.25" width="9.22" height="9.22" fill="#447b96"/><rect x="2342.38" y="2027.25" width="9.22" height="9.22" fill="#477495"/><rect x="2351.31" y="2027.25" width="9.22" height="9.22" fill="#467695"/><rect x="2360.23" y="2027.25" width="9.22" height="9.22" fill="#437e96"/><rect x="2369.15" y="2027.25" width="9.22" height="9.22" fill="#3e8896"/><rect x="2378.08" y="2027.25" width="9.22" height="9.22" fill="#3b9295"/><rect x="2271.00" y="2036.18" width="9.22" height="9.22" fill="#55bf7d"/><rect x="2279.92" y="2036.18" width="9.22" height="9.22" fill="#56c17c"/><rect x="2288.85" y="2036.18" width="9.22" height="9.22" fill="#51be80"/><rect x="2297.77" y="2036.18" width="9.22" height="9.22" fill="#45b687"/><rect x="2306.69" y="2036.18" width="9.22" height="9.22" fill="#39ab8e"/><rect x="2315.62" y="2036.18" width="9.22" height="9.22" fill="#38a192"/><rect x="2324.54" y="2036.18" width="9.22" height="9.22" fill="#389994"/><rect x="2333.46" y="2036.18" width="9.22" height="9.22" fill="#3c9195"/><rect x="2342.38" y="2036.18" width="9.22" height="9.22" fill="#3e8c95"/><rect x="2351.31" y="2036.18" width="9.22" height="9.22" fill="#3e8c95"/><rect x="2360.23" y="2036.18" width="9.22" height="9.22" fill="#3d8e95"/><rect x="2369.15" y="2036.18" width="9.22" height="9.22" fill="#3b9395"/><rect x="2378.08" y="2036.18" width="9.22" height="9.22" fill="#399694"/><rect x="2271" y="1929.1" width="116" height="115.7" fill="none" stroke="#555" stroke-width="0.6"/><rect x="2259.40" y="2084.10" width="9.38" height="9.38" fill="#cac03d"/><rect x="2268.48" y="2084.10" width="9.38" height="9.38" fill="#cac03d"/><rect x="2277.56" y="2084.10" width="9.38" height="9.38" fill="#c1be43"/><rect x="2286.64" y="2084.10" width="9.38" height="9.38" fill="#a4b856"/><rect x="2295.72" y="2084.10" width="9.38" height="9.38" fill="#84ad68"/><rect x="2304.80" y="2084.10" width="9.38" height="9.38" fill="#729f73"/><rect x="2313.88" y="2084.10" width="9.38" height="9.38" fill="#729477"/><rect x="2322.96" y="2084.10" width="9.38" height="9.38" fill="#748c78"/><rect x="2332.04" y="2084.10" width="9.38" height="9.38" fill="#768878"/><rect x="2341.12" y="2084.10" width="9.38" height="9.38" fill="#768878"/><rect x="2350.20" y="2084.10" width="9.38" height="9.38" fill="#758c78"/><rect x="2359.28" y="2084.10" width="9.38" height="9.38" fill="#729377"/><rect x="2368.36" y="2084.10" width="9.38" height="9.38" fill="#729a75"/><rect x="2377.44" y="2084.10" width="9.38" height="9.38" fill="#72a072"/><rect x="2386.52" y="2084.10" width="9.38" height="9.38" fill="#72a072"/><rect x="2259.40" y="2093.18" width="9.38" height="9.38" fill="#cac03d"/><rect x="2268.48" y="2093.18" width="9.38" height="9.38" fill="#bbdc38"/><rect x="2277.56" y="2093.18" width="9.38" height="9.38" fill="#adda41"/><rect x="2286.64" y="2093.18" width="9.38" height="9.38" fill="#7fd05f"/><rect x="2295.72" y="2093.18" width="9.38" height="9.38" fill="#4ebf7b"/><rect x="2304.80" y="2093.18" width="9.38" height="9.38" fill="#33a98c"/><rect x="2313.88" y="2093.18" width="9.38" height="9.38" fill="#329892"/><rect x="2322.96" y="2093.18" width="9.38" height="9.38" fill="#358c93"/><rect x="2332.04" y="2093.18" width="9.38" height="9.38" fill="#388693"/><rect x="2341.12" y="2093.18" width="9.38" height="9.38" fill="#388694"/><rect x="2350.20" y="2093.18" width="9.38" height="9.38" fill="#368b93"/><rect x="2359.28" y="2093.18" width="9.38" height="9.38" fill="#329692"/><rect x="2368.36" y="2093.18" width="9.38" height="9.38" fill="#33a28e"/><rect x="2377.44" y="2093.18" width="9.38" height="9.38" fill="#33ac8b"/><rect x="2386.52" y="2093.18" width="9.38" height="9.38" fill="#72a072"/><rect x="2259.40" y="2102.26" width="9.38" height="9.38" fill="#eec43b"/><rect x="2268.48" y="2102.26" width="9.38" height="9.38" fill="#f2e435"/><rect x="2277.56" y="2102.26" width="9.38" height="9.38" fill="#e0e235"/><rect x="2286.64" y="2102.26" width="9.38" height="9.38" fill="#a8d945"/><rect x="2295.72" y="2102.26" width="9.38" height="9.38" fill="#61c670"/><rect x="2304.80" y="2102.26" width="9.38" height="9.38" fill="#34ad8a"/><rect x="2313.88" y="2102.26" width="9.38" height="9.38" fill="#329792"/><rect x="2322.96" y="2102.26" width="9.38" height="9.38" fill="#378893"/><rect x="2332.04" y="2102.26" width="9.38" height="9.38" fill="#3a8094"/><rect x="2341.12" y="2102.26" width="9.38" height="9.38" fill="#3a8094"/><rect x="2350.20" y="2102.26" width="9.38" height="9.38" fill="#378893"/><rect x="2359.28" y="2102.26" width="9.38" height="9.38" fill="#339492"/><rect x="2368.36" y="2102.26" width="9.38" height="9.38" fill="#33a48e"/><rect x="2377.44" y="2102.26" width="9.38" height="9.38" fill="#3ab087"/><rect x="2386.52" y="2102.26" width="9.38" height="9.38" fill="#77a370"/><rect x="2259.40" y="2111.34" width="9.38" height="9.38" fill="#f1c53b"/><rect x="2268.48" y="2111.34" width="9.38" height="9.38" fill="#f8e435"/><rect x="2277.56" y="2111.34" width="9.38" height="9.38" fill="#f8e435"/><rect x="2286.64" y="2111.34" width="9.38" height="9.38" fill="#c0dd36"/><rect x="2295.72" y="2111.34" width="9.38" height="9.38" fill="#6fca68"/><rect x="2304.80" y="2111.34" width="9.38" height="9.38" fill="#3ab087"/><rect x="2313.88" y="2111.34" width="9.38" height="9.38" fill="#329a91"/><rect x="2322.96" y="2111.34" width="9.38" height="9.38" fill="#378a93"/><rect x="2332.04" y="2111.34" width="9.38" height="9.38" fill="#3a8194"/><rect x="2341.12" y="2111.34" width="9.38" height="9.38" fill="#3a8094"/><rect x="2350.20" y="2111.34" width="9.38" height="9.38" fill="#378893"/><rect x="2359.28" y="2111.34" width="9.38" height="9.38" fill="#329692"/><rect x="2368.36" y="2111.34" width="9.38" height="9.38" fill="#33a78d"/><rect x="2377.44" y="2111.34" width="9.38" height="9.38" fill="#3fb584"/><rect x="2386.52" y="2111.34" width="9.38" height="9.38" fill="#7aa66e"/><rect x="2259.40" y="2120.42" width="9.38" height="9.38" fill="#f1c53b"/><rect x="2268.48" y="2120.42" width="9.38" height="9.38" fill="#f8e435"/><rect x="2277.56" y="2120.42" width="9.38" height="9.38" fill="#f8e435"/><rect x="2286.64" y="2120.42" width="9.38" height="9.38" fill="#bfdd36"/><rect x="2295.72" y="2120.42" width="9.38" height="9.38" fill="#71cb67"/><rect x="2304.80" y="2120.42" width="9.38" height="9.38" fill="#3cb384"/><rect x="2313.88" y="2120.42" width="9.38" height="9.38" fill="#329d90"/><rect x="2322.96" y="2120.42" width="9.38" height="9.38" fill="#348e93"/><rect x="2332.04" y="2120.42" width="9.38" height="9.38" fill="#378793"/><rect x="2341.12" y="2120.42" width="9.38" height="9.38" fill="#388693"/><rect x="2350.20" y="2120.42" width="9.38" height="9.38" fill="#358d93"/><rect x="2359.28" y="2120.42" width="9.38" height="9.38" fill="#329a91"/><rect x="2368.36" y="2120.42" width="9.38" height="9.38" fill="#33aa8c"/><rect x="2377.44" y="2120.42" width="9.38" height="9.38" fill="#42b682"/><rect x="2386.52" y="2120.42" width="9.38" height="9.38" fill="#7ca76d"/><rect x="2259.40" y="2129.50" width="9.38" height="9.38" fill="#e6c33b"/><rect x="2268.48" y="2129.50" width="9.38" height="9.38" fill="#e6e235"/><rect x="2277.56" y="2129.50" width="9.38" height="9.38" fill="#d6e036"/><rect x="2286.64" y="2129.50" width="9.38" height="9.38" fill="#a3d847"/><rect x="2295.72" y="2129.50" width="9.38" height="9.38" fill="#64c76e"/><rect x="2304.80" y="2129.50" width="9.38" height="9.38" fill="#3bb186"/><rect x="2313.88" y="2129.50" width="9.38" height="9.38" fill="#329f8f"/><rect x="2322.96" y="2129.50" width="9.38" height="9.38" fill="#349292"/><rect x="2332.04" y="2129.50" width="9.38" height="9.38" fill="#368a93"/><rect x="2341.12" y="2129.50" width="9.38" height="9.38" fill="#378993"/><rect x="2350.20" y="2129.50" width="9.38" height="9.38" fill="#348e93"/><rect x="2359.28" y="2129.50" width="9.38" height="9.38" fill="#329a91"/><rect x="2368.36" y="2129.50" width="9.38" height="9.38" fill="#33a98c"/><rect x="2377.44" y="2129.50" width="9.38" height="9.38" fill="#3fb584"/><rect x="2386.52" y="2129.50" width="9.38" height="9.38" fill="#7aa66e"/><rect x="2259.40" y="2138.58" width="9.38" height="9.38" fill="#bfbd44"/><rect x="2268.48" y="2138.58" width="9.38" height="9.38" fill="#a9d943"/><rect x="2277.56" y="2138.58" width="9.38" height="9.38" fill="#9ed64b"/><rect x="2286.64" y="2138.58" width="9.38" height="9.38" fill="#78cd62"/><rect x="2295.72" y="2138.58" width="9.38" height="9.38" fill="#4ebe7b"/><rect x="2304.80" y="2138.58" width="9.38" height="9.38" fill="#33ab8b"/><rect x="2313.88" y="2138.58" width="9.38" height="9.38" fill="#329b91"/><rect x="2322.96" y="2138.58" width="9.38" height="9.38" fill="#358d93"/><rect x="2332.04" y="2138.58" width="9.38" height="9.38" fill="#398394"/><rect x="2341.12" y="2138.58" width="9.38" height="9.38" fill="#3a8094"/><rect x="2350.20" y="2138.58" width="9.38" height="9.38" fill="#388494"/><rect x="2359.28" y="2138.58" width="9.38" height="9.38" fill="#349193"/><rect x="2368.36" y="2138.58" width="9.38" height="9.38" fill="#32a18e"/><rect x="2377.44" y="2138.58" width="9.38" height="9.38" fill="#34ae8a"/><rect x="2386.52" y="2138.58" width="9.38" height="9.38" fill="#73a272"/><rect x="2259.40" y="2147.66" width="9.38" height="9.38" fill="#97b45d"/><rect x="2268.48" y="2147.66" width="9.38" height="9.38" fill="#6cc96a"/><rect x="2277.56" y="2147.66" width="9.38" height="9.38" fill="#65c76d"/><rect x="2286.64" y="2147.66" width="9.38" height="9.38" fill="#4fbf7a"/><rect x="2295.72" y="2147.66" width="9.38" height="9.38" fill="#3bb186"/><rect x="2304.80" y="2147.66" width="9.38" height="9.38" fill="#32a18e"/><rect x="2313.88" y="2147.66" width="9.38" height="9.38" fill="#349093"/><rect x="2322.96" y="2147.66" width="9.38" height="9.38" fill="#3b7e94"/><rect x="2332.04" y="2147.66" width="9.38" height="9.38" fill="#426e93"/><rect x="2341.12" y="2147.66" width="9.38" height="9.38" fill="#466692"/><rect x="2350.20" y="2147.66" width="9.38" height="9.38" fill="#446a93"/><rect x="2359.28" y="2147.66" width="9.38" height="9.38" fill="#3c7a94"/><rect x="2368.36" y="2147.66" width="9.38" height="9.38" fill="#349093"/><rect x="2377.44" y="2147.66" width="9.38" height="9.38" fill="#32a18e"/><rect x="2386.52" y="2147.66" width="9.38" height="9.38" fill="#729975"/><rect x="2259.40" y="2156.74" width="9.38" height="9.38" fill="#7ea86b"/><rect x="2268.48" y="2156.74" width="9.38" height="9.38" fill="#45b780"/><rect x="2277.56" y="2156.74" width="9.38" height="9.38" fill="#41b682"/><rect x="2286.64" y="2156.74" width="9.38" height="9.38" fill="#37af88"/><rect x="2295.72" y="2156.74" width="9.38" height="9.38" fill="#33a48e"/><rect x="2304.80" y="2156.74" width="9.38" height="9.38" fill="#329692"/><rect x="2313.88" y="2156.74" width="9.38" height="9.38" fill="#3a8194"/><rect x="2322.96" y="2156.74" width="9.38" height="9.38" fill="#456893"/><rect x="2332.04" y="2156.74" width="9.38" height="9.38" fill="#4f4d8b"/><rect x="2341.12" y="2156.74" width="9.38" height="9.38" fill="#533c82"/><rect x="2350.20" y="2156.74" width="9.38" height="9.38" fill="#524284"/><rect x="2359.28" y="2156.74" width="9.38" height="9.38" fill="#4a5c8f"/><rect x="2368.36" y="2156.74" width="9.38" height="9.38" fill="#3d7994"/><rect x="2377.44" y="2156.74" width="9.38" height="9.38" fill="#349292"/><rect x="2386.52" y="2156.74" width="9.38" height="9.38" fill="#739077"/><rect x="2259.40" y="2165.82" width="9.38" height="9.38" fill="#729f73"/><rect x="2268.48" y="2165.82" width="9.38" height="9.38" fill="#33a98c"/><rect x="2277.56" y="2165.82" width="9.38" height="9.38" fill="#33a88d"/><rect x="2286.64" y="2165.82" width="9.38" height="9.38" fill="#33a48e"/><rect x="2295.72" y="2165.82" width="9.38" height="9.38" fill="#329c90"/><rect x="2304.80" y="2165.82" width="9.38" height="9.38" fill="#358d93"/><rect x="2313.88" y="2165.82" width="9.38" height="9.38" fill="#3e7894"/><rect x="2322.96" y="2165.82" width="9.38" height="9.38" fill="#4c588f"/><rect x="2332.04" y="2165.82" width="9.38" height="9.38" fill="#55337c"/><rect x="2341.12" y="2165.82" width="9.38" height="9.38" fill="#521c66"/><rect x="2350.20" y="2165.82" width="9.38" height="9.38" fill="#53216a"/><rect x="2359.28" y="2165.82" width="9.38" height="9.38" fill="#524385"/><rect x="2368.36" y="2165.82" width="9.38" height="9.38" fill="#446993"/><rect x="2377.44" y="2165.82" width="9.38" height="9.38" fill="#388594"/><rect x="2386.52" y="2165.82" width="9.38" height="9.38" fill="#768878"/><rect x="2259.40" y="2174.90" width="9.38" height="9.38" fill="#729975"/><rect x="2268.48" y="2174.90" width="9.38" height="9.38" fill="#32a08e"/><rect x="2277.56" y="2174.90" width="9.38" height="9.38" fill="#329f8f"/><rect x="2286.64" y="2174.90" width="9.38" height="9.38" fill="#329c90"/><rect x="2295.72" y="2174.90" width="9.38" height="9.38" fill="#329792"/><rect x="2304.80" y="2174.90" width="9.38" height="9.38" fill="#368b93"/><rect x="2313.88" y="2174.90" width="9.38" height="9.38" fill="#3e7894"/><rect x="2322.96" y="2174.90" width="9.38" height="9.38" fill="#4b5b8f"/><rect x="2332.04" y="2174.90" width="9.38" height="9.38" fill="#54387f"/><rect x="2341.12" y="2174.90" width="9.38" height="9.38" fill="#53216b"/><rect x="2350.20" y="2174.90" width="9.38" height="9.38" fill="#532771"/><rect x="2359.28" y="2174.90" width="9.38" height="9.38" fill="#514586"/><rect x="2368.36" y="2174.90" width="9.38" height="9.38" fill="#456893"/><rect x="2377.44" y="2174.90" width="9.38" height="9.38" fill="#398294"/><rect x="2386.52" y="2174.90" width="9.38" height="9.38" fill="#768678"/><rect x="2259.40" y="2183.98" width="9.38" height="9.38" fill="#729875"/><rect x="2268.48" y="2183.98" width="9.38" height="9.38" fill="#329e8f"/><rect x="2277.56" y="2183.98" width="9.38" height="9.38" fill="#329e8f"/><rect x="2286.64" y="2183.98" width="9.38" height="9.38" fill="#329c90"/><rect x="2295.72" y="2183.98" width="9.38" height="9.38" fill="#329892"/><rect x="2304.80" y="2183.98" width="9.38" height="9.38" fill="#349093"/><rect x="2313.88" y="2183.98" width="9.38" height="9.38" fill="#3a8194"/><rect x="2322.96" y="2183.98" width="9.38" height="9.38" fill="#426e93"/><rect x="2332.04" y="2183.98" width="9.38" height="9.38" fill="#4c588f"/><rect x="2341.12" y="2183.98" width="9.38" height="9.38" fill="#504a89"/><rect x="2350.20" y="2183.98" width="9.38" height="9.38" fill="#4f4d8b"/><rect x="2359.28" y="2183.98" width="9.38" height="9.38" fill="#485f90"/><rect x="2368.36" y="2183.98" width="9.38" height="9.38" fill="#3f7593"/><rect x="2377.44" y="2183.98" width="9.38" height="9.38" fill="#378793"/><rect x="2386.52" y="2183.98" width="9.38" height="9.38" fill="#758978"/><rect x="2259.40" y="2193.06" width="9.38" height="9.38" fill="#729f73"/><rect x="2268.48" y="2193.06" width="9.38" height="9.38" fill="#33aa8c"/><rect x="2277.56" y="2193.06" width="9.38" height="9.38" fill="#33aa8c"/><rect x="2286.64" y="2193.06" width="9.38" height="9.38" fill="#33a88c"/><rect x="2295.72" y="2193.06" width="9.38" height="9.38" fill="#33a38e"/><rect x="2304.80" y="2193.06" width="9.38" height="9.38" fill="#329c90"/><rect x="2313.88" y="2193.06" width="9.38" height="9.38" fill="#349193"/><rect x="2322.96" y="2193.06" width="9.38" height="9.38" fill="#398494"/><rect x="2332.04" y="2193.06" width="9.38" height="9.38" fill="#3d7894"/><rect x="2341.12" y="2193.06" width="9.38" height="9.38" fill="#417093"/><rect x="2350.20" y="2193.06" width="9.38" height="9.38" fill="#407293"/><rect x="2359.28" y="2193.06" width="9.38" height="9.38" fill="#3c7a94"/><rect x="2368.36" y="2193.06" width="9.38" height="9.38" fill="#388594"/><rect x="2377.44" y="2193.06" width="9.38" height="9.38" fill="#348f93"/><rect x="2386.52" y="2193.06" width="9.38" height="9.38" fill="#738e78"/><rect x="2259.40" y="2202.14" width="9.38" height="9.38" fill="#85ad67"/><rect x="2268.48" y="2202.14" width="9.38" height="9.38" fill="#4fbf7a"/><rect x="2277.56" y="2202.14" width="9.38" height="9.38" fill="#51c079"/><rect x="2286.64" y="2202.14" width="9.38" height="9.38" fill="#4cbd7c"/><rect x="2295.72" y="2202.14" width="9.38" height="9.38" fill="#3fb584"/><rect x="2304.80" y="2202.14" width="9.38" height="9.38" fill="#33aa8c"/><rect x="2313.88" y="2202.14" width="9.38" height="9.38" fill="#329f8f"/><rect x="2322.96" y="2202.14" width="9.38" height="9.38" fill="#329692"/><rect x="2332.04" y="2202.14" width="9.38" height="9.38" fill="#358e93"/><rect x="2341.12" y="2202.14" width="9.38" height="9.38" fill="#378a93"/><rect x="2350.20" y="2202.14" width="9.38" height="9.38" fill="#378993"/><rect x="2359.28" y="2202.14" width="9.38" height="9.38" fill="#368b93"/><rect x="2368.36" y="2202.14" width="9.38" height="9.38" fill="#349093"/><rect x="2377.44" y="2202.14" width="9.38" height="9.38" fill="#339392"/><rect x="2386.52" y="2202.14" width="9.38" height="9.38" fill="#729177"/><rect x="2259.40" y="2211.22" width="9.38" height="9.38" fill="#85ad67"/><rect x="2268.48" y="2211.22" width="9.38" height="9.38" fill="#85ad67"/><rect x="2277.56" y="2211.22" width="9.38" height="9.38" fill="#86ae67"/><rect x="2286.64" y="2211.22" width="9.38" height="9.38" fill="#82ab69"/><rect x="2295.72" y="2211.22" width="9.38" height="9.38" fill="#7aa66e"/><rect x="2304.80" y="2211.22" width="9.38" height="9.38" fill="#729f73"/><rect x="2313.88" y="2211.22" width="9.38" height="9.38" fill="#729875"/><rect x="2322.96" y="2211.22" width="9.38" height="9.38" fill="#729377"/><rect x="2332.04" y="2211.22" width="9.38" height="9.38" fill="#748d78"/><rect x="2341.12" y="2211.22" width="9.38" height="9.38" fill="#758a78"/><rect x="2350.20" y="2211.22" width="9.38" height="9.38" fill="#758a78"/><rect x="2359.28" y="2211.22" width="9.38" height="9.38" fill="#758c78"/><rect x="2368.36" y="2211.22" width="9.38" height="9.38" fill="#738e78"/><rect x="2377.44" y="2211.22" width="9.38" height="9.38" fill="#729177"/><rect x="2386.52" y="2211.22" width="9.38" height="9.38" fill="#729177"/><path d="M2327.7 2045.0L2327.7 2077.0" stroke="#000" stroke-width="2" fill="none" /><path d="M2327.7 2084.0L2324.4 2076.0L2330.9 2076.0Z" fill="#000"/><circle cx="2463.4" cy="1904.2" r="15.6" fill="#fff" stroke="#a5281f" stroke-width="2"/><path d="M2463.4 1920.6L2463.4 1961.2" stroke="#000" stroke-width="2" fill="none" /><path d="M2463.4 1968.2L2460.2 1960.2L2466.7 1960.2Z" fill="#000"/><defs><linearGradient id="fcg" x1="0" y1="0" x2="0" y2="1"><stop offset="0" stop-color="#b9caea"/><stop offset="1" stop-color="#9fb4df"/></linearGradient></defs><rect x="2428.2" y="1968.4" width="71.4" height="25.1" rx="4" fill="url(#fcg)"/><path d="M2465.1 1993.5L2465.1 2070.9" stroke="#000" stroke-width="2" fill="none" /><path d="M2465.1 2077.9L2461.8 2069.9L2468.3 2069.9Z" fill="#000"/><rect x="2427.7" y="2078.1" width="75.3" height="147.6" fill="none" stroke="#4a5aa0" stroke-width="0.9" stroke-dasharray="1.6 1.4"/><rect x="2442.9" y="2083.9" width="9.2" height="135.3" fill="#e9caaa" stroke="#e0a877" stroke-width="0.6" stroke-dasharray="1 1"/><rect x="2455.5" y="2088.2" width="9.1" height="126.6" fill="#e9caaa" stroke="#e0a877" stroke-width="0.6" stroke-dasharray="1 1"/><rect x="2467.5" y="2088.2" width="9.0" height="126.6" fill="#e9caaa" stroke="#e0a877" stroke-width="0.6" stroke-dasharray="1 1"/><rect x="2480.1" y="2083.4" width="9.1" height="135.6" fill="#e9caaa" stroke="#e0a877" stroke-width="0.6" stroke-dasharray="1 1"/><path d="M2428.2 2152.2L2406.5 2152.2" stroke="#000" stroke-width="2" fill="none" /><path d="M2399.5 2152.2L2407.5 2148.9L2407.5 2155.4Z" fill="#000"/></svg>
<div class="t sb" style="left:1035.54px;top:138.80px;font-size:64.5px;transform:scaleX(0.9895);transform-origin:0 0;color:#87201f;"><u></u><span>Meta-Learning Dynamics Forecasting Using Task Inference</span></div>
<div class="t s" style="left:1610.35px;top:201.00px;font-size:40.4px;transform:scaleX(0.8822);transform-origin:0 0;"><u></u><span>Rui Wang<sup class="r"><span class="ast">*</span>1</sup>, Robin Walters<sup class="r"><span class="ast">*</span>2</sup>, Rose Yu<sup class="r">1</sup></span></div>
<div class="t s" style="left:1186.15px;top:258.60px;font-size:32.4px;transform:scaleX(0.9258);transform-origin:0 0;"><u></u><span><sup class="r">1</sup> University of California San Diego, San Diego, CA <sup class="r">2</sup> Northeastern University, Boston, MA <sup class="r"><span class="ast">*</span></sup> Equal Contribution</span></div>
<div class="t b" style="left:588.40px;top:421.80px;font-size:41.4px;transform:scaleX(1.0818);transform-origin:0 0;"><u></u><span>Abstract</span></div>
<div class="t r" style="left:111.02px;top:489.40px;font-size:34.2px;transform:scaleX(0.9787);transform-origin:0 0;"><u></u><span>Current deep learning models for dynamics forecasting struggle with generalization.</span></div>
<div class="t r" style="left:111.00px;top:530.40px;font-size:34.2px;transform:scaleX(0.9982);transform-origin:0 0;"><u></u><span>They can only forecast in a specific domain and fail when applied to systems with</span></div>
<div class="t r" style="left:111.03px;top:571.40px;font-size:34.2px;transform:scaleX(0.9676);transform-origin:0 0;"><u></u><span>different parameters, external forces, or boundary conditions.</span></div>
<div class="t r" style="left:162.70px;top:625.80px;font-size:34.2px;transform:scaleX(0.9314);transform-origin:0 0;"><u></u><span>We propose a model-based meta-learning method called <tt>DyAd</tt> which can generalize</span></div>
<div class="t r" style="left:137.93px;top:667.00px;font-size:34.2px;transform:scaleX(0.9682);transform-origin:0 0;"><u></u><span>across heterogeneous domains by partitioning them into different tasks.</span></div>
<div class="t r" style="left:159.58px;top:714.20px;font-size:34.2px;transform:scaleX(0.9592);transform-origin:0 0;"><u></u><span><tt>DyAd</tt> has two parts: an encoder which infers the time-invariant hidden features of</span></div>
<div class="t r" style="left:137.96px;top:755.40px;font-size:34.2px;transform:scaleX(0.9415);transform-origin:0 0;"><u></u><span>the task with weak supervision, and a forecaster which learns the shared dynamics of</span></div>
<div class="t r" style="left:137.93px;top:796.60px;font-size:34.2px;transform:scaleX(0.9656);transform-origin:0 0;"><u></u><span>the entire domain.&nbsp; The encoder adapts and controls the forecaster during inference</span></div>
<div class="t r" style="left:137.92px;top:837.80px;font-size:34.2px;transform:scaleX(0.9764);transform-origin:0 0;"><u></u><span>using adaptive instance normalization and adaptive padding.</span></div>
<div class="t r" style="left:162.70px;top:885.90px;font-size:34.2px;transform:scaleX(1.0003);transform-origin:0 0;"><u></u><span>We prove that the generalization error of such a procedure is governed by task</span></div>
<div class="t r" style="left:137.94px;top:927.10px;font-size:34.2px;transform:scaleX(0.9594);transform-origin:0 0;"><u></u><span>relatedness in the source domain and domain differences between source and target.</span></div>
<div class="t r" style="left:161.71px;top:974.70px;font-size:34.2px;transform:scaleX(0.9919);transform-origin:0 0;"><u></u><span>Experimentally, we demonstrate that our model outperforms SOTA approaches</span></div>
<div class="t r" style="left:137.93px;top:1015.90px;font-size:34.2px;transform:scaleX(0.9725);transform-origin:0 0;"><u></u><span>to forecasting complex physical dynamics including turbulent flow, real-world sea</span></div>
<div class="t r" style="left:137.92px;top:1057.10px;font-size:34.2px;transform:scaleX(0.9826);transform-origin:0 0;"><u></u><span>surface temperature and ocean currents.</span></div>
<div class="t r" style="left:111.09px;top:1111.00px;font-size:34.2px;transform:scaleX(0.9120);transform-origin:0 0;"><u></u><span>Code: <tt>https:<span>//</span>github.com/Rose-STL-Lab/Dynamic-Adaptation-Network</tt>.</span></div>
<div class="t b" style="left:281.30px;top:1271.00px;font-size:41.5px;transform:scaleX(1.0982);transform-origin:0 0;color:#87201f;"><u></u><span>Generalization in Dynamics Forecasting</span></div>
<div class="t b" style="left:87.97px;top:1374.00px;font-size:36.5px;transform:scaleX(1.0334);transform-origin:0 0;"><u></u><span>Dynamics Forecasting</span></div>
<div class="t r" style="left:88.00px;top:1425.00px;font-size:34.2px;transform:scaleX(0.9957);transform-origin:0 0;"><u></u><span>Let <b>x</b> <span class="dv ms">∈</span> <span class="dv bb">ℝ</span><sup><i>d</i></sup> be a <i>d</i>-dimensional state of a dynamical system governed by parameters <i>ψ</i>.</span></div>
<div class="t r" style="left:88.03px;top:1466.20px;font-size:34.2px;transform:scaleX(0.9710);transform-origin:0 0;"><u></u><span>The problem of dynamics forecasting is that given a sequence of past states (<b>x</b><sub>1</sub>, . . . , <b>x</b><sub><i>t</i></sub>),</span></div>
<div class="t r" style="left:89.00px;top:1507.40px;font-size:34.2px;transform:scaleX(0.9943);transform-origin:0 0;"><u></u><span>we want to learn a map <i>f</i> :</span></div>
<div class="t r" style="left:436.00px;top:1590.00px;font-size:34.2px;transform:scaleX(1.0536);transform-origin:0 0;"><u></u><span><i>f</i> : (<b>x</b><sub>1</sub>, . . . , <b>x</b><sub><i>t</i></sub>) <span class="dv ms">⟼</span> (<b>x</b><sub><i>t</i>+1</sub>, . . . <b>x</b><sub><i>t</i>+<i>k</i></sub>).</span></div>
<div class="t b" style="left:87.96px;top:1687.00px;font-size:36.5px;transform:scaleX(1.0351);transform-origin:0 0;"><u></u><span>Motivation</span></div>
<div class="t r" style="left:88.04px;top:1739.00px;font-size:34.2px;transform:scaleX(0.9630);transform-origin:0 0;"><u></u><span>Neural Networks often cannot cope with distributional shifts in the underlying dynamics.</span></div>
<div class="t b" style="left:87.95px;top:2234.50px;font-size:36.5px;transform:scaleX(1.0495);transform-origin:0 0;"><u></u><span>Proposed Solution</span></div>
<div class="t r" style="left:136.57px;top:2300.60px;font-size:34.2px;transform:scaleX(0.9673);transform-origin:0 0;"><u></u><span>Similar dynamical systems may share time-invariant features.</span></div>
<div class="t r" style="left:137.52px;top:2359.70px;font-size:34.2px;transform:scaleX(0.9753);transform-origin:0 0;"><u></u><span>Infer the latent representation of the dynamics given observed time series data.</span></div>
<div class="t r" style="left:136.58px;top:2418.20px;font-size:34.2px;transform:scaleX(0.9614);transform-origin:0 0;"><u></u><span>Separate task inference from forecasting.</span></div>
<div class="t b" style="left:1526.59px;top:406.50px;font-size:41.5px;transform:scaleX(1.1143);transform-origin:0 0;color:#87201f;"><u></u><span>Dynamical Adaptation Networks (DyAd)</span></div>
<div class="t b" style="left:1343.57px;top:1057.00px;font-size:36.5px;transform:scaleX(1.0335);transform-origin:0 0;"><u></u><span>Encoder Training.</span></div>
<div class="t d" style="left:1404.92px;top:1167.20px;font-size:38.949999999999996px;transform:scaleX(0.8414);transform-origin:0 0;font-weight:bold;font-style:italic;"><u></u><span>ℒ</span></div>
<div class="t bi" style="left:1429.00px;top:1172.20px;font-size:29.52px;transform:scaleX(1.0000);transform-origin:0 0;"><u></u><span>enc</span></div>
<div class="t r" style="left:1483.32px;top:1167.20px;font-size:41px;transform:scaleX(1.1421);transform-origin:0 0;"><u></u><span>=</span></div>
<div class="t r" style="left:1517.08px;top:1167.20px;font-size:40.18px;transform:scaleX(0.9583);transform-origin:0 0;"><u></u><span>∑</span></div>
<div class="t r" style="left:1544.05px;top:1174.70px;font-size:29.52px;transform:scaleX(0.9500);transform-origin:0 0;"><u></u><span><i>c</i>~<i>C</i></span></div>
<div class="t d" style="left:1601.70px;top:1168.70px;font-size:33.62px;"><u></u><span>∥</span></div>
<div class="t i" style="left:1629.00px;top:1167.20px;font-size:41px;"><u></u><span>ĉ</span></div>
<div class="t r" style="left:1652.58px;top:1167.20px;font-size:41px;transform:scaleX(1.2105);transform-origin:0 0;"><u></u><span>−</span></div>
<div class="t i" style="left:1688.60px;top:1167.20px;font-size:41px;"><u></u><span>c</span></div>
<div class="t d" style="left:1714.00px;top:1168.70px;font-size:33.62px;"><u></u><span>∥</span></div>
<div class="t r" style="left:1730.60px;top:1154.70px;font-size:29.52px;"><u></u><span>2</span></div>
<div class="t r" style="left:1755.16px;top:1167.20px;font-size:41px;transform:scaleX(1.2211);transform-origin:0 0;"><u></u><span>+</span></div>
<div class="t i" style="left:1791.41px;top:1167.20px;font-size:41px;transform:scaleX(0.8905);transform-origin:0 0;"><u></u><span>α</span></div>
<div class="t r" style="left:1817.88px;top:1167.20px;font-size:40.18px;transform:scaleX(0.9583);transform-origin:0 0;"><u></u><span>∑</span></div>
<div class="t i" style="left:1843.18px;top:1174.70px;font-size:29.52px;transform:scaleX(1.0595);transform-origin:0 0;"><u></u><span>i,j,c</span></div>
<div class="t d" style="left:1901.00px;top:1168.70px;font-size:33.62px;"><u></u><span>∥</span></div>
<div class="t i" style="left:1926.90px;top:1167.20px;font-size:41px;"><u></u><span>ẑ</span></div>
<div class="t i" style="left:1941.80px;top:1174.70px;font-size:29.52px;"><u></u><span>c</span></div>
<div class="t r" style="left:1947.60px;top:1152.20px;font-size:29.52px;transform:scaleX(1.0000);transform-origin:0 0;"><u></u><span>(<i>i</i>)</span></div>
<div class="t r" style="left:1985.18px;top:1167.20px;font-size:41px;transform:scaleX(1.2105);transform-origin:0 0;"><u></u><span>−</span></div>
<div class="t i" style="left:2021.00px;top:1167.20px;font-size:41px;"><u></u><span>ẑ</span></div>
<div class="t i" style="left:2035.90px;top:1174.70px;font-size:29.52px;"><u></u><span>c</span></div>
<div class="t r" style="left:2039.83px;top:1152.20px;font-size:29.52px;transform:scaleX(1.1692);transform-origin:0 0;"><u></u><span>(<i>j</i>)</span></div>
<div class="t d" style="left:2083.30px;top:1168.70px;font-size:33.62px;"><u></u><span>∥</span></div>
<div class="t r" style="left:2100.80px;top:1154.70px;font-size:29.52px;"><u></u><span>2</span></div>
<div class="t r" style="left:2124.63px;top:1167.20px;font-size:41px;transform:scaleX(1.1842);transform-origin:0 0;"><u></u><span>+</span></div>
<div class="t i" style="left:2160.43px;top:1167.20px;font-size:41px;transform:scaleX(0.8286);transform-origin:0 0;"><u></u><span>β</span></div>
<div class="t r" style="left:2186.08px;top:1167.20px;font-size:40.18px;transform:scaleX(0.9583);transform-origin:0 0;"><u></u><span>∑</span></div>
<div class="t i" style="left:2211.95px;top:1174.70px;font-size:29.52px;transform:scaleX(1.0269);transform-origin:0 0;"><u></u><span>i,c</span></div>
<div class="t d" style="left:2249.70px;top:1168.70px;font-size:33.62px;"><u></u><span>∥</span></div>
<div class="t i" style="left:2277.70px;top:1167.20px;font-size:41px;"><u></u><span>ẑ</span></div>
<div class="t i" style="left:2292.50px;top:1174.70px;font-size:29.52px;"><u></u><span>c</span></div>
<div class="t r" style="left:2297.44px;top:1152.20px;font-size:29.52px;transform:scaleX(1.0577);transform-origin:0 0;"><u></u><span>(<i>i</i>)</span></div>
<div class="t r" style="left:2336.71px;top:1167.20px;font-size:41px;transform:scaleX(1.1474);transform-origin:0 0;"><u></u><span>−</span></div>
<div class="t i" style="left:2370.18px;top:1167.20px;font-size:41px;transform:scaleX(1.0577);transform-origin:0 0;"><u></u><span>m</span></div>
<div class="t d" style="left:2409.70px;top:1168.70px;font-size:33.62px;"><u></u><span>∥</span></div>
<div class="t r" style="left:2427.70px;top:1154.70px;font-size:29.52px;"><u></u><span>2</span></div>
<div class="t sb" style="left:1497.20px;top:1261.20px;font-size:30px;transform:scaleX(1.0604);transform-origin:0 0;color:#5b8fdf;"><u></u><span>Task Params</span></div>
<div class="t sb" style="left:1794.60px;top:1261.20px;font-size:30px;transform:scaleX(1.0449);transform-origin:0 0;color:#5b8fdf;"><u></u><span>Time-shift Invariant</span></div>
<div class="t sb" style="left:2199.66px;top:1261.20px;font-size:30px;transform:scaleX(1.0429);transform-origin:0 0;color:#5b8fdf;"><u></u><span>Avoid Zeros</span></div>
<div class="t r" style="left:1344.60px;top:1321.80px;font-size:34.2px;transform:scaleX(0.9802);transform-origin:0 0;"><u></u><span><i>z<sub>c</sub></i> is the time-invariant hidden feature for task <i>c</i>.&nbsp; For instance, for modeling turbulence</span></div>
<div class="t r" style="left:1344.60px;top:1362.80px;font-size:34.2px;transform:scaleX(1.0029);transform-origin:0 0;"><u></u><span>with different external forces, <i>c</i> can be buoyant factors, mean vorticity norm or mean</span></div>
<div class="t r" style="left:1344.60px;top:1403.80px;font-size:34.2px;transform:scaleX(0.9517);transform-origin:0 0;"><u></u><span>velocity norm for each system.</span></div>
<div class="t b" style="left:1344.60px;top:1488.00px;font-size:36.5px;transform:scaleX(1.0356);transform-origin:0 0;"><u></u><span>Adaptive Instance Normalization</span></div>
<div class="t i" style="left:1777.11px;top:1579.30px;font-size:35.2px;transform:scaleX(0.9040);transform-origin:0 0;"><u></u><span>y<sub>i</sub></span></div>
<div class="t r" style="left:1805.23px;top:1579.30px;font-size:35.2px;transform:scaleX(1.3375);transform-origin:0 0;"><u></u><span>=</span></div>
<div class="t i" style="left:1840.35px;top:1579.30px;font-size:35.2px;transform:scaleX(1.0500);transform-origin:0 0;"><u></u><span>σ<sub>i</sub></span></div>
<div class="t i" style="left:1868.80px;top:1556.40px;font-size:35.2px;transform:scaleX(1.0984);transform-origin:0 0;"><u></u><span>x<sub>i</sub> <span class="r">−</span> μ<span class="r">(</span>x<sub>i</sub><span class="r">)</span></span></div>
<div class="t i" style="left:1901.21px;top:1601.60px;font-size:35.2px;transform:scaleX(1.0852);transform-origin:0 0;"><u></u><span>σ<span class="r">(</span>x<sub>i</sub><span class="r">)</span></span></div>
<div class="t r" style="left:2012.33px;top:1579.30px;font-size:35.2px;transform:scaleX(1.2875);transform-origin:0 0;"><u></u><span>+</span></div>
<div class="t i" style="left:2045.80px;top:1579.30px;font-size:35.2px;transform:scaleX(1.0387);transform-origin:0 0;"><u></u><span>μ<sub>i</sub><span class="r">.</span></span></div>
<div class="t r" style="left:1343.58px;top:1670.70px;font-size:34.2px;transform:scaleX(1.0196);transform-origin:0 0;"><u></u><span>Denote the channels of input <i>x</i> by <i>x<sub>i</sub></i> and let <i>μ</i>(<i>x<sub>i</sub></i>) and <i>σ</i>(<i>x<sub>i</sub></i>) be the mean and standard</span></div>
<div class="t r" style="left:1343.65px;top:1711.60px;font-size:34.2px;transform:scaleX(0.9521);transform-origin:0 0;"><u></u><span>deviation of channel <i>i</i>.&nbsp; For each AdaIN layer, a particular style is computed <i>s<sub>c</sub></i> = (<i>μ<sub>i</sub></i>, <i>σ<sub>i</sub></i>)<sub><i>i</i></sub> =</span></div>
<div class="t r" style="left:1348.54px;top:1752.60px;font-size:34.2px;transform:scaleX(0.9713);transform-origin:0 0;"><u></u><span><i>Az<sub>c</sub></i> + <i>b</i>.&nbsp; In essence, the channels are renormalized to the style <i>s<sub>c</sub></i>.</span></div>
<div class="t b" style="left:1344.60px;top:1870.00px;font-size:36.5px;transform:scaleX(1.0370);transform-origin:0 0;"><u></u><span>Adaptive Padding</span></div>
<div class="t r" style="left:1343.64px;top:1923.50px;font-size:34.2px;transform:scaleX(0.9617);transform-origin:0 0;"><u></u><span>It encodes the boundary conditions of each specific dynamical</span></div>
<div class="t r" style="left:1343.62px;top:1965.00px;font-size:34.2px;transform:scaleX(0.9840);transform-origin:0 0;"><u></u><span>system.&nbsp; AdaPad uses the <i>z<sub>c</sub></i> to compute the boundary conditions</span></div>
<div class="t r" style="left:1344.60px;top:2006.20px;font-size:34.2px;transform:scaleX(0.9695);transform-origin:0 0;"><u></u><span>via a linear layer.</span></div>
<div class="t b" style="left:1342.52px;top:2123.00px;font-size:36.5px;transform:scaleX(1.0384);transform-origin:0 0;"><u></u><span>Generalization Bound</span></div>
<div class="t b" style="left:3059.50px;top:406.50px;font-size:41.5px;transform:scaleX(1.0978);transform-origin:0 0;color:#87201f;"><u></u><span>Experiments</span></div>
<div class="t d" style="left:2673.20px;top:503.60px;font-size:24.2px;transform:scaleX(0.975);transform-origin:50% 50%;"><u></u><span>Target</span></div>
<div class="t d" style="left:2801.50px;top:503.60px;font-size:24.2px;transform:scaleX(0.975);transform-origin:50% 50%;"><u></u><span>Unet-c</span></div>
<div class="t d" style="left:2902.00px;top:503.60px;font-size:24.2px;transform:scaleX(0.975);transform-origin:50% 50%;"><u></u><span>Weight-attn</span></div>
<div class="t d" style="left:3071.00px;top:503.60px;font-size:24.2px;transform:scaleX(0.975);transform-origin:50% 50%;"><u></u><span>DyAd</span></div>
<div class="t d" style="left:3251.90px;top:503.60px;font-size:24.2px;transform:scaleX(0.975);transform-origin:50% 50%;"><u></u><span>Target</span></div>
<div class="t d" style="left:3379.80px;top:503.60px;font-size:24.2px;transform:scaleX(0.975);transform-origin:50% 50%;"><u></u><span>Unet-c</span></div>
<div class="t d" style="left:3480.30px;top:503.60px;font-size:24.2px;transform:scaleX(0.975);transform-origin:50% 50%;"><u></u><span>Weight-attn</span></div>
<div class="t d" style="left:3649.30px;top:503.60px;font-size:24.2px;transform:scaleX(0.975);transform-origin:50% 50%;"><u></u><span>DyAd</span></div>
<div class="t r" style="left:2599.50px;top:907.00px;font-size:23.2px;transform:scaleX(0.9848);transform-origin:0 0;"><u></u><span><b>Figure:</b> Target and predictions by <tt>Unet-c</tt>, <tt>Modular-wt</tt> and <tt>DyAd</tt> at time 1, 5, 10 for turbulent flows with buoyancy factors 9</span></div>
<div class="t r" style="left:2596.52px;top:934.70px;font-size:23.2px;transform:scaleX(0.9765);transform-origin:0 0;"><u></u><span>(left) and 21 (right) respectively.&nbsp; <tt>DyAd</tt> can easily generate predictions for various flows while baselines have trouble</span></div>
<div class="t r" style="left:2598.51px;top:962.30px;font-size:23.2px;transform:scaleX(0.9947);transform-origin:0 0;"><u></u><span>understanding and disentangling buoyancy factors.</span></div>
<div class="t d" style="left:2890.08px;top:1065.50px;font-size:26px;transform:scaleX(1.4308);transform-origin:0 0;color:#111;"><u></u><span>✓</span></div>
<div class="t dsc" style="left:2936.30px;top:1067.00px;font-size:24px;transform:scaleX(1.1569);transform-origin:0 0;color:#2f3640;-webkit-text-stroke:0.5px currentColor;"><u></u><span>Test-future: dynamics with different initial conditions.</span></div>
<div class="t d" style="left:2999.28px;top:1115.50px;font-size:26px;transform:scaleX(1.4308);transform-origin:0 0;color:#111;"><u></u><span>✓</span></div>
<div class="t dsc" style="left:3044.80px;top:1116.80px;font-size:24px;transform:scaleX(1.1545);transform-origin:0 0;color:#2f3640;-webkit-text-stroke:0.5px currentColor;"><u></u><span>Test-domain: dynamics with different physical parameters.</span></div>
<div class="t r" style="left:2735.73px;top:1189.10px;font-size:25px;transform:scaleX(0.9730);transform-origin:0 0;"><u></u><span>Model</span></div>
<div class="t r" style="left:2877.60px;top:1175.50px;font-size:25px;transform:scaleX(0.9561);transform-origin:0 0;"><u></u><span>Turbulent Flows</span></div>
<div class="t r" style="left:3097.35px;top:1175.50px;font-size:25px;transform:scaleX(0.9758);transform-origin:0 0;"><u></u><span>Sea Temperature</span></div>
<div class="t r" style="left:3451.33px;top:1175.50px;font-size:25px;transform:scaleX(0.9708);transform-origin:0 0;"><u></u><span>Ocean Currents</span></div>
<div class="t r" style="left:2873.03px;top:1215.10px;font-size:25px;transform:scaleX(0.9707);transform-origin:0 0;"><u></u><span>future</span></div>
<div class="t r" style="left:2973.53px;top:1215.10px;font-size:25px;transform:scaleX(0.9712);transform-origin:0 0;"><u></u><span>domain</span></div>
<div class="t r" style="left:3092.93px;top:1215.10px;font-size:25px;transform:scaleX(0.9672);transform-origin:0 0;"><u></u><span>future</span></div>
<div class="t r" style="left:3200.83px;top:1215.10px;font-size:25px;transform:scaleX(0.9740);transform-origin:0 0;"><u></u><span>domain</span></div>
<div class="t r" style="left:3382.23px;top:1215.10px;font-size:25px;transform:scaleX(0.9707);transform-origin:0 0;"><u></u><span>future</span></div>
<div class="t r" style="left:3606.83px;top:1215.10px;font-size:25px;transform:scaleX(0.9712);transform-origin:0 0;"><u></u><span>domain</span></div>
<div class="t m" style="left:2722.96px;top:1256.30px;font-size:21px;transform:scaleX(1.1690);transform-origin:0 0;color:#222;"><u></u><span>ResNet</span></div>
<div class="t r" style="left:2862.97px;top:1255.70px;font-size:24.6px;transform:scaleX(1.0261);transform-origin:0 0;"><u></u><span>0.94±<span class="sm">0.10</span></span></div>
<div class="t r" style="left:2971.17px;top:1255.70px;font-size:24.6px;transform:scaleX(1.0345);transform-origin:0 0;"><u></u><span>0.65±<span class="sm">0.02</span></span></div>
<div class="t r" style="left:3079.08px;top:1255.70px;font-size:24.6px;transform:scaleX(1.0193);transform-origin:0 0;"><u></u><span>0.73±<span class="sm">0.14</span></span></div>
<div class="t r" style="left:3194.88px;top:1255.70px;font-size:24.6px;transform:scaleX(1.0239);transform-origin:0 0;"><u></u><span>0.71±<span class="sm">0.16</span></span></div>
<div class="t r" style="left:3310.77px;top:1255.70px;font-size:24.6px;transform:scaleX(1.0295);transform-origin:0 0;"><u></u><span>9.44±<span class="sm">1.55</span></span></div>
<div class="t r" style="left:3418.67px;top:1255.70px;font-size:24.6px;transform:scaleX(1.0284);transform-origin:0 0;"><u></u><span>0.99±<span class="sm">0.15</span></span></div>
<div class="t r" style="left:3542.37px;top:1255.70px;font-size:24.6px;transform:scaleX(1.0341);transform-origin:0 0;"><u></u><span>9.65±<span class="sm">0.16</span></span></div>
<div class="t r" style="left:3650.57px;top:1255.70px;font-size:24.6px;transform:scaleX(1.0318);transform-origin:0 0;"><u></u><span>0.90±<span class="sm">0.16</span></span></div>
<div class="t m" style="left:2708.75px;top:1282.95px;font-size:21px;transform:scaleX(1.1495);transform-origin:0 0;color:#222;"><u></u><span>ResNet-c</span></div>
<div class="t r" style="left:2862.97px;top:1282.35px;font-size:24.6px;transform:scaleX(1.0261);transform-origin:0 0;"><u></u><span>0.88±<span class="sm">0.03</span></span></div>
<div class="t r" style="left:2971.17px;top:1282.35px;font-size:24.6px;transform:scaleX(1.0345);transform-origin:0 0;"><u></u><span>0.64±<span class="sm">0.01</span></span></div>
<div class="t r" style="left:3079.08px;top:1282.35px;font-size:24.6px;transform:scaleX(1.0193);transform-origin:0 0;"><u></u><span>0.70±<span class="sm">0.08</span></span></div>
<div class="t r" style="left:3194.88px;top:1282.35px;font-size:24.6px;transform:scaleX(1.0239);transform-origin:0 0;"><u></u><span>0.71±<span class="sm">0.06</span></span></div>
<div class="t r" style="left:3310.76px;top:1282.35px;font-size:24.6px;transform:scaleX(1.0414);transform-origin:0 0;"><u></u><span>9.71±<span class="sm">0.01</span></span></div>
<div class="t r" style="left:3418.67px;top:1282.35px;font-size:24.6px;transform:scaleX(1.0284);transform-origin:0 0;"><u></u><span>0.81±<span class="sm">0.03</span></span></div>
<div class="t r" style="left:3542.35px;top:1282.35px;font-size:24.6px;transform:scaleX(1.0460);transform-origin:0 0;"><u></u><span>9.15±<span class="sm">0.01</span></span></div>
<div class="t r" style="left:3650.57px;top:1282.35px;font-size:24.6px;transform:scaleX(1.0318);transform-origin:0 0;"><u></u><span>0.73±<span class="sm">0.03</span></span></div>
<div class="t m" style="left:2731.28px;top:1309.60px;font-size:21px;transform:scaleX(1.1458);transform-origin:0 0;color:#222;"><u></u><span>U-Net</span></div>
<div class="t r" style="left:2862.96px;top:1309.00px;font-size:24.6px;transform:scaleX(1.0379);transform-origin:0 0;"><u></u><span>0.92±<span class="sm">0.02</span></span></div>
<div class="t r" style="left:2971.17px;top:1309.00px;font-size:24.6px;transform:scaleX(1.0345);transform-origin:0 0;"><u></u><span>0.68±<span class="sm">0.02</span></span></div>
<div class="t r" style="left:3079.08px;top:1309.00px;font-size:24.6px;transform:scaleX(1.0193);transform-origin:0 0;"><u></u><span>0.57±<span class="sm">0.05</span></span></div>
<div class="t r" style="left:3194.88px;top:1309.00px;font-size:24.6px;transform:scaleX(1.0239);transform-origin:0 0;"><u></u><span>0.63±<span class="sm">0.05</span></span></div>
<div class="t r" style="left:3309.72px;top:1309.00px;font-size:24.6px;transform:scaleX(1.0414);transform-origin:0 0;"><u></u><span>7.64±<span class="sm">0.05</span></span></div>
<div class="t r" style="left:3418.66px;top:1309.00px;font-size:24.6px;transform:scaleX(1.0402);transform-origin:0 0;"><u></u><span>0.83±<span class="sm">0.02</span></span></div>
<div class="t r" style="left:3541.31px;top:1309.00px;font-size:24.6px;transform:scaleX(1.0460);transform-origin:0 0;"><u></u><span>7.61±<span class="sm">0.14</span></span></div>
<div class="t r" style="left:3650.57px;top:1309.00px;font-size:24.6px;transform:scaleX(1.0318);transform-origin:0 0;"><u></u><span>0.86±<span class="sm">0.03</span></span></div>
<div class="t m" style="left:2724.16px;top:1336.25px;font-size:21px;transform:scaleX(1.1370);transform-origin:0 0;color:#222;"><u></u><span>Unet-c</span></div>
<div class="t r" style="left:2862.97px;top:1335.65px;font-size:24.6px;transform:scaleX(1.0261);transform-origin:0 0;"><u></u><span>0.86±<span class="sm">0.07</span></span></div>
<div class="t r" style="left:2971.18px;top:1335.65px;font-size:24.6px;transform:scaleX(1.0227);transform-origin:0 0;"><u></u><span>0.68±<span class="sm">0.03</span></span></div>
<div class="t r" style="left:3079.07px;top:1335.65px;font-size:24.6px;transform:scaleX(1.0310);transform-origin:0 0;"><u></u><span>0.47±<span class="sm">0.02</span></span></div>
<div class="t r" style="left:3194.88px;top:1335.65px;font-size:24.6px;transform:scaleX(1.0239);transform-origin:0 0;"><u></u><span>0.45±<span class="sm">0.06</span></span></div>
<div class="t r" style="left:3310.76px;top:1335.65px;font-size:24.6px;transform:scaleX(1.0414);transform-origin:0 0;"><u></u><span><b>7.26±<span class="sm">0.01</span></b></span></div>
<div class="t r" style="left:3418.66px;top:1335.65px;font-size:24.6px;transform:scaleX(1.0402);transform-origin:0 0;"><u></u><span>0.94±<span class="sm">0.02</span></span></div>
<div class="t r" style="left:3541.31px;top:1335.65px;font-size:24.6px;transform:scaleX(1.0460);transform-origin:0 0;"><u></u><span>7.51±<span class="sm">0.03</span></span></div>
<div class="t r" style="left:3650.57px;top:1335.65px;font-size:24.6px;transform:scaleX(1.0318);transform-origin:0 0;"><u></u><span>0.87±<span class="sm">0.04</span></span></div>
<div class="t m" style="left:2715.86px;top:1362.90px;font-size:21px;transform:scaleX(1.1577);transform-origin:0 0;color:#222;"><u></u><span>PredRNN</span></div>
<div class="t r" style="left:2862.96px;top:1362.30px;font-size:24.6px;transform:scaleX(1.0379);transform-origin:0 0;"><u></u><span>0.75±<span class="sm">0.02</span></span></div>
<div class="t r" style="left:2971.17px;top:1362.30px;font-size:24.6px;transform:scaleX(1.0345);transform-origin:0 0;"><u></u><span>0.75±<span class="sm">0.01</span></span></div>
<div class="t r" style="left:3079.07px;top:1362.30px;font-size:24.6px;transform:scaleX(1.0310);transform-origin:0 0;"><u></u><span>0.67±<span class="sm">0.12</span></span></div>
<div class="t r" style="left:3194.88px;top:1362.30px;font-size:24.6px;transform:scaleX(1.0239);transform-origin:0 0;"><u></u><span>0.99±<span class="sm">0.07</span></span></div>
<div class="t r" style="left:3310.76px;top:1362.30px;font-size:24.6px;transform:scaleX(1.0414);transform-origin:0 0;"><u></u><span>8.49±<span class="sm">0.01</span></span></div>
<div class="t r" style="left:3417.60px;top:1362.30px;font-size:24.6px;transform:scaleX(1.0523);transform-origin:0 0;"><u></u><span>1.27±<span class="sm">0.02</span></span></div>
<div class="t r" style="left:3542.37px;top:1362.30px;font-size:24.6px;transform:scaleX(1.0341);transform-origin:0 0;"><u></u><span>8.99±<span class="sm">0.03</span></span></div>
<div class="t r" style="left:3649.49px;top:1362.30px;font-size:24.6px;transform:scaleX(1.0558);transform-origin:0 0;"><u></u><span>1.69±<span class="sm">0.01</span></span></div>
<div class="t m" style="left:2703.93px;top:1389.55px;font-size:21px;transform:scaleX(1.1329);transform-origin:0 0;color:#222;"><u></u><span>VarSepNet</span></div>
<div class="t r" style="left:2862.97px;top:1388.95px;font-size:24.6px;transform:scaleX(1.0261);transform-origin:0 0;"><u></u><span>0.67±<span class="sm">0.05</span></span></div>
<div class="t r" style="left:2971.18px;top:1388.95px;font-size:24.6px;transform:scaleX(1.0227);transform-origin:0 0;"><u></u><span>0.63±<span class="sm">0.06</span></span></div>
<div class="t r" style="left:3079.08px;top:1388.95px;font-size:24.6px;transform:scaleX(1.0193);transform-origin:0 0;"><u></u><span>0.63±<span class="sm">0.14</span></span></div>
<div class="t r" style="left:3194.88px;top:1388.95px;font-size:24.6px;transform:scaleX(1.0239);transform-origin:0 0;"><u></u><span>0.49±<span class="sm">0.09</span></span></div>
<div class="t r" style="left:3310.76px;top:1388.95px;font-size:24.6px;transform:scaleX(1.0414);transform-origin:0 0;"><u></u><span>9.36±<span class="sm">0.02</span></span></div>
<div class="t r" style="left:3418.67px;top:1388.95px;font-size:24.6px;transform:scaleX(1.0284);transform-origin:0 0;"><u></u><span>0.63±<span class="sm">0.04</span></span></div>
<div class="t r" style="left:3541.28px;top:1388.95px;font-size:24.6px;transform:scaleX(1.0581);transform-origin:0 0;"><u></u><span>7.10±<span class="sm">0.01</span></span></div>
<div class="t r" style="left:3650.56px;top:1388.95px;font-size:24.6px;transform:scaleX(1.0437);transform-origin:0 0;"><u></u><span>0.58±<span class="sm">0.02</span></span></div>
<div class="t m" style="left:2709.91px;top:1416.20px;font-size:21px;transform:scaleX(1.1378);transform-origin:0 0;color:#222;"><u></u><span>Mod-attn</span></div>
<div class="t r" style="left:2862.96px;top:1415.60px;font-size:24.6px;transform:scaleX(1.0379);transform-origin:0 0;"><u></u><span>0.63±<span class="sm">0.12</span></span></div>
<div class="t r" style="left:2971.18px;top:1415.60px;font-size:24.6px;transform:scaleX(1.0227);transform-origin:0 0;"><u></u><span>0.92±<span class="sm">0.03</span></span></div>
<div class="t r" style="left:3079.07px;top:1415.60px;font-size:24.6px;transform:scaleX(1.0310);transform-origin:0 0;"><u></u><span>0.89±<span class="sm">0.22</span></span></div>
<div class="t r" style="left:3194.88px;top:1415.60px;font-size:24.6px;transform:scaleX(1.0239);transform-origin:0 0;"><u></u><span>0.98±<span class="sm">0.17</span></span></div>
<div class="t r" style="left:3310.77px;top:1415.60px;font-size:24.6px;transform:scaleX(1.0295);transform-origin:0 0;"><u></u><span>8.08±<span class="sm">0.07</span></span></div>
<div class="t r" style="left:3418.65px;top:1415.60px;font-size:24.6px;transform:scaleX(1.0523);transform-origin:0 0;"><u></u><span>0.76±<span class="sm">0.11</span></span></div>
<div class="t r" style="left:3542.37px;top:1415.60px;font-size:24.6px;transform:scaleX(1.0341);transform-origin:0 0;"><u></u><span>8.31±<span class="sm">0.19</span></span></div>
<div class="t r" style="left:3650.57px;top:1415.60px;font-size:24.6px;transform:scaleX(1.0318);transform-origin:0 0;"><u></u><span>0.88±<span class="sm">0.14</span></span></div>
<div class="t m" style="left:2724.15px;top:1442.85px;font-size:21px;transform:scaleX(1.1528);transform-origin:0 0;color:#222;"><u></u><span>Mod-wt</span></div>
<div class="t r" style="left:2862.97px;top:1442.25px;font-size:24.6px;transform:scaleX(1.0261);transform-origin:0 0;"><u></u><span>0.58±<span class="sm">0.03</span></span></div>
<div class="t r" style="left:2971.18px;top:1442.25px;font-size:24.6px;transform:scaleX(1.0227);transform-origin:0 0;"><u></u><span>0.60±<span class="sm">0.07</span></span></div>
<div class="t r" style="left:3079.08px;top:1442.25px;font-size:24.6px;transform:scaleX(1.0193);transform-origin:0 0;"><u></u><span>0.65±<span class="sm">0.08</span></span></div>
<div class="t r" style="left:3194.88px;top:1442.25px;font-size:24.6px;transform:scaleX(1.0239);transform-origin:0 0;"><u></u><span>0.64±<span class="sm">0.09</span></span></div>
<div class="t r" style="left:3309.69px;top:1442.25px;font-size:24.6px;transform:scaleX(1.0535);transform-origin:0 0;"><u></u><span>10.1±<span class="sm">0.12</span></span></div>
<div class="t r" style="left:3417.60px;top:1442.25px;font-size:24.6px;transform:scaleX(1.0523);transform-origin:0 0;"><u></u><span>1.19±<span class="sm">0.72</span></span></div>
<div class="t r" style="left:3542.35px;top:1442.25px;font-size:24.6px;transform:scaleX(1.0460);transform-origin:0 0;"><u></u><span>8.11±<span class="sm">0.19</span></span></div>
<div class="t r" style="left:3650.57px;top:1442.25px;font-size:24.6px;transform:scaleX(1.0318);transform-origin:0 0;"><u></u><span>0.82±<span class="sm">0.19</span></span></div>
<div class="t m" style="left:2717.03px;top:1469.50px;font-size:21px;transform:scaleX(1.1441);transform-origin:0 0;color:#222;"><u></u><span>MetaNet</span></div>
<div class="t r" style="left:2862.97px;top:1468.90px;font-size:24.6px;transform:scaleX(1.0261);transform-origin:0 0;"><u></u><span>0.76±<span class="sm">0.13</span></span></div>
<div class="t r" style="left:2971.18px;top:1468.90px;font-size:24.6px;transform:scaleX(1.0227);transform-origin:0 0;"><u></u><span>0.76±<span class="sm">0.08</span></span></div>
<div class="t r" style="left:3079.08px;top:1468.90px;font-size:24.6px;transform:scaleX(1.0193);transform-origin:0 0;"><u></u><span>0.84±<span class="sm">0.16</span></span></div>
<div class="t r" style="left:3194.88px;top:1468.90px;font-size:24.6px;transform:scaleX(1.0239);transform-origin:0 0;"><u></u><span>0.82±<span class="sm">0.09</span></span></div>
<div class="t r" style="left:3309.69px;top:1468.90px;font-size:24.6px;transform:scaleX(1.0535);transform-origin:0 0;"><u></u><span>10.9±<span class="sm">0.52</span></span></div>
<div class="t r" style="left:3417.62px;top:1468.90px;font-size:24.6px;transform:scaleX(1.0402);transform-origin:0 0;"><u></u><span>1.15±<span class="sm">0.18</span></span></div>
<div class="t r" style="left:3541.28px;top:1468.90px;font-size:24.6px;transform:scaleX(1.0581);transform-origin:0 0;"><u></u><span>11.2±<span class="sm">0.16</span></span></div>
<div class="t r" style="left:3649.49px;top:1468.90px;font-size:24.6px;transform:scaleX(1.0558);transform-origin:0 0;"><u></u><span>1.08±<span class="sm">0.21</span></span></div>
<div class="t m" style="left:2738.41px;top:1496.15px;font-size:21px;transform:scaleX(1.1354);transform-origin:0 0;color:#222;"><u></u><span>MAML</span></div>
<div class="t r" style="left:2862.96px;top:1495.55px;font-size:24.6px;transform:scaleX(1.0379);transform-origin:0 0;"><u></u><span>0.63±<span class="sm">0.01</span></span></div>
<div class="t r" style="left:2971.17px;top:1495.55px;font-size:24.6px;transform:scaleX(1.0345);transform-origin:0 0;"><u></u><span>0.68±<span class="sm">0.02</span></span></div>
<div class="t r" style="left:3079.08px;top:1495.55px;font-size:24.6px;transform:scaleX(1.0193);transform-origin:0 0;"><u></u><span>0.90±<span class="sm">0.17</span></span></div>
<div class="t r" style="left:3194.88px;top:1495.55px;font-size:24.6px;transform:scaleX(1.0239);transform-origin:0 0;"><u></u><span>0.67±<span class="sm">0.04</span></span></div>
<div class="t r" style="left:3309.69px;top:1495.55px;font-size:24.6px;transform:scaleX(1.0535);transform-origin:0 0;"><u></u><span>10.1±<span class="sm">0.21</span></span></div>
<div class="t r" style="left:3418.67px;top:1495.55px;font-size:24.6px;transform:scaleX(1.0284);transform-origin:0 0;"><u></u><span>0.85±<span class="sm">0.06</span></span></div>
<div class="t r" style="left:3541.31px;top:1495.55px;font-size:24.6px;transform:scaleX(1.0460);transform-origin:0 0;"><u></u><span>10.9±<span class="sm">0.79</span></span></div>
<div class="t r" style="left:3650.57px;top:1495.55px;font-size:24.6px;transform:scaleX(1.0318);transform-origin:0 0;"><u></u><span>0.99±<span class="sm">0.14</span></span></div>
<div class="t m" style="left:2701.11px;top:1537.40px;font-size:21px;transform:scaleX(1.1425);transform-origin:0 0;color:#222;"><u></u><span>DyAd+ResNet</span></div>
<div class="t r" style="left:2862.96px;top:1536.80px;font-size:24.6px;transform:scaleX(1.0379);transform-origin:0 0;"><u></u><span><b>0.42±<span class="sm">0.01</span></b></span></div>
<div class="t r" style="left:2971.18px;top:1536.80px;font-size:24.6px;transform:scaleX(1.0227);transform-origin:0 0;"><u></u><span><b>0.51±<span class="sm">0.02</span></b></span></div>
<div class="t r" style="left:3079.08px;top:1536.80px;font-size:24.6px;transform:scaleX(1.0193);transform-origin:0 0;"><u></u><span>0.42±<span class="sm">0.03</span></span></div>
<div class="t r" style="left:3194.88px;top:1536.80px;font-size:24.6px;transform:scaleX(1.0239);transform-origin:0 0;"><u></u><span>0.44±<span class="sm">0.04</span></span></div>
<div class="t r" style="left:3309.72px;top:1536.80px;font-size:24.6px;transform:scaleX(1.0414);transform-origin:0 0;"><u></u><span>7.28±<span class="sm">0.09</span></span></div>
<div class="t r" style="left:3418.67px;top:1536.80px;font-size:24.6px;transform:scaleX(1.0284);transform-origin:0 0;"><u></u><span><b>0.58±<span class="sm">0.02</span></b></span></div>
<div class="t r" style="left:3542.37px;top:1536.80px;font-size:24.6px;transform:scaleX(1.0341);transform-origin:0 0;"><u></u><span><b>7.04±<span class="sm">0.04</span></b></span></div>
<div class="t r" style="left:3650.57px;top:1536.80px;font-size:24.6px;transform:scaleX(1.0318);transform-origin:0 0;"><u></u><span><b>0.54±<span class="sm">0.03</span></b></span></div>
<div class="t m" style="left:2701.07px;top:1564.00px;font-size:21px;transform:scaleX(1.1661);transform-origin:0 0;color:#222;"><u></u><span>DyAd+Unet</span></div>
<div class="t r" style="left:2862.96px;top:1563.40px;font-size:24.6px;transform:scaleX(1.0379);transform-origin:0 0;"><u></u><span>0.58±<span class="sm">0.01</span></span></div>
<div class="t r" style="left:2971.17px;top:1563.40px;font-size:24.6px;transform:scaleX(1.0345);transform-origin:0 0;"><u></u><span>0.59±<span class="sm">0.01</span></span></div>
<div class="t r" style="left:3079.08px;top:1563.40px;font-size:24.6px;transform:scaleX(1.0193);transform-origin:0 0;"><u></u><span><b>0.35±<span class="sm">0.03</span></b></span></div>
<div class="t r" style="left:3194.88px;top:1563.40px;font-size:24.6px;transform:scaleX(1.0239);transform-origin:0 0;"><u></u><span><b>0.42±<span class="sm">0.05</span></b></span></div>
<div class="t r" style="left:3309.69px;top:1563.40px;font-size:24.6px;transform:scaleX(1.0535);transform-origin:0 0;"><u></u><span>7.38±<span class="sm">0.01</span></span></div>
<div class="t r" style="left:3418.67px;top:1563.40px;font-size:24.6px;transform:scaleX(1.0284);transform-origin:0 0;"><u></u><span>0.70±<span class="sm">0.04</span></span></div>
<div class="t r" style="left:3541.28px;top:1563.40px;font-size:24.6px;transform:scaleX(1.0581);transform-origin:0 0;"><u></u><span>7.46±<span class="sm">0.02</span></span></div>
<div class="t r" style="left:3650.57px;top:1563.40px;font-size:24.6px;transform:scaleX(1.0318);transform-origin:0 0;"><u></u><span>0.70±<span class="sm">0.07</span></span></div>
<div class="t dsc" style="left:2516.94px;top:1307.80px;font-size:22.5px;transform:scaleX(1.0439);transform-origin:0 0;color:#5b8fdf;-webkit-text-stroke:0.5px currentColor;"><u></u><span>Video Prediction</span></div>
<div class="t dsc" style="left:2525.53px;top:1389.80px;font-size:22.5px;transform:scaleX(1.0731);transform-origin:0 0;color:#5b8fdf;-webkit-text-stroke:0.5px currentColor;"><u></u><span>Physics-Guided</span></div>
<div class="t dsc" style="left:2534.96px;top:1461.00px;font-size:22.5px;transform:scaleX(1.0417);transform-origin:0 0;color:#5b8fdf;-webkit-text-stroke:0.5px currentColor;"><u></u><span>Meta-Learning</span></div>
<div class="t dsc" style="left:2619.20px;top:1629.40px;font-size:22.5px;transform:scaleX(1.0296);transform-origin:0 0;color:#6a7c8e;-webkit-text-stroke:0.5px currentColor;"><u></u><span>Architecture used for the forecaster</span></div>
<div class="t dsc" style="left:3548.88px;top:1627.60px;font-size:22.5px;transform:scaleX(1.0217);transform-origin:0 0;color:#5a3a9c;-webkit-text-stroke:0.5px currentColor;"><u></u><span>Energy Spectrum RMSE</span></div>
<div class="t r" style="left:2683.01px;top:1785.20px;font-size:28.5px;transform:scaleX(0.9932);transform-origin:0 0;"><u></u><span>Model</span></div>
<div class="t r" style="left:2843.30px;top:1785.20px;font-size:28.5px;transform:scaleX(0.9970);transform-origin:0 0;"><u></u><span>future</span></div>
<div class="t r" style="left:2980.00px;top:1785.20px;font-size:28.5px;transform:scaleX(0.9952);transform-origin:0 0;"><u></u><span>domain</span></div>
<div class="t r" style="left:2655.77px;top:1831.30px;font-size:28.5px;transform:scaleX(0.9659);transform-origin:0 0;"><u></u><span><span class="tt2">DyAd</span>(ours)</span></div>
<div class="t r" style="left:2825.96px;top:1831.30px;font-size:27.5px;transform:scaleX(1.0417);transform-origin:0 0;"><u></u><span><b>0.42±<span class="sm2">0.01</span></b></span></div>
<div class="t r" style="left:2970.95px;top:1831.30px;font-size:27.5px;transform:scaleX(1.0469);transform-origin:0 0;"><u></u><span><b>0.51±<span class="sm2">0.02</span></b></span></div>
<div class="t m" style="left:2674.84px;top:1861.80px;font-size:26.79px;transform:scaleX(0.9312);transform-origin:0 0;-webkit-text-stroke:0.45px #000;"><u></u><span>No_enc</span></div>
<div class="t r" style="left:2825.96px;top:1861.80px;font-size:27.5px;transform:scaleX(1.0417);transform-origin:0 0;"><u></u><span>0.63±<span class="sm2">0.03</span></span></div>
<div class="t r" style="left:2970.95px;top:1861.80px;font-size:27.5px;transform:scaleX(1.0469);transform-origin:0 0;"><u></u><span>0.60±<span class="sm2">0.02</span></span></div>
<div class="t m" style="left:2653.14px;top:1892.30px;font-size:26.79px;transform:scaleX(0.9291);transform-origin:0 0;-webkit-text-stroke:0.45px #000;"><u></u><span>No_AdaPad</span></div>
<div class="t r" style="left:2825.95px;top:1892.30px;font-size:27.5px;transform:scaleX(1.0526);transform-origin:0 0;"><u></u><span>0.47±<span class="sm2">0.01</span></span></div>
<div class="t r" style="left:2970.95px;top:1892.30px;font-size:27.5px;transform:scaleX(1.0469);transform-origin:0 0;"><u></u><span>0.54±<span class="sm2">0.02</span></span></div>
<div class="t m" style="left:2655.00px;top:1922.80px;font-size:26.79px;transform:scaleX(0.9126);transform-origin:0 0;-webkit-text-stroke:0.45px #000;"><u></u><span>Wrong_enc</span></div>
<div class="t r" style="left:2825.96px;top:1922.80px;font-size:27.5px;transform:scaleX(1.0417);transform-origin:0 0;"><u></u><span>0.66±<span class="sm2">0.02</span></span></div>
<div class="t r" style="left:2970.95px;top:1922.80px;font-size:27.5px;transform:scaleX(1.0469);transform-origin:0 0;"><u></u><span>0.62±<span class="sm2">0.03</span></span></div>
<div class="t m" style="left:2667.74px;top:1953.30px;font-size:26.79px;transform:scaleX(0.9294);transform-origin:0 0;-webkit-text-stroke:0.45px #000;"><u></u><span>End2End</span></div>
<div class="t r" style="left:2825.95px;top:1953.30px;font-size:27.5px;transform:scaleX(1.0526);transform-origin:0 0;"><u></u><span>0.45±<span class="sm2">0.01</span></span></div>
<div class="t r" style="left:2970.94px;top:1953.30px;font-size:27.5px;transform:scaleX(1.0579);transform-origin:0 0;"><u></u><span>0.54±<span class="sm2">0.01</span></span></div>
<div class="t r" style="left:2615.20px;top:2018.60px;font-size:28.5px;transform:scaleX(0.9772);transform-origin:0 0;"><u></u><span>Table 2: Ablation study: prediction RMSE of</span></div>
<div class="t r" style="left:2613.26px;top:2049.50px;font-size:28.5px;transform:scaleX(0.9708);transform-origin:0 0;"><u></u><span><span class="tt2">DyAd</span> and its variations with different compo-</span></div>
<div class="t r" style="left:2614.23px;top:2080.00px;font-size:28.5px;transform:scaleX(0.9698);transform-origin:0 0;"><u></u><span>nents removed from <span class="tt2">DyAd</span>.</span></div>
<div class="t d" style="left:3189.90px;top:1749.80px;font-size:25.4px;transform:scaleX(0.885);transform-origin:50% 50%;"><u></u><span>Target</span></div>
<div class="t d" style="left:3298.00px;top:1749.80px;font-size:25.4px;transform:scaleX(0.885);transform-origin:50% 50%;"><u></u><span>ResNet</span></div>
<div class="t d" style="left:3422.30px;top:1749.80px;font-size:25.4px;transform:scaleX(0.885);transform-origin:50% 50%;"><u></u><span>U-net</span></div>
<div class="t d" style="left:3516.00px;top:1749.80px;font-size:25.4px;transform:scaleX(0.885);transform-origin:50% 50%;"><u></u><span>PredRNN</span></div>
<div class="t d" style="left:3652.60px;top:1749.80px;font-size:25.4px;transform:scaleX(0.885);transform-origin:50% 50%;"><u></u><span>DyAd</span></div>
<div class="t r" style="left:3143.51px;top:2018.40px;font-size:28.5px;transform:scaleX(0.9926);transform-origin:0 0;"><u></u><span>Figure 5: <span class="tt2">DyAd</span>, <span class="tt2">ResNet</span>, <span class="tt2">U-net</span>, <span class="tt2">PredRNN</span> velocity</span></div>
<div class="t r" style="left:3143.51px;top:2052.70px;font-size:28.5px;transform:scaleX(0.9942);transform-origin:0 0;"><u></u><span>norm (<span class="dv" style="font-size:1.05em;position:relative;top:0.06em">√</span><span style="display:inline-block;border-top:1.4px solid #000;line-height:0.92;"><i>u</i><sup>2</sup> + <i>v</i><sup>2</sup></span>) predictions on an ocean current sam-</span></div>
<div class="t r" style="left:3143.51px;top:2084.00px;font-size:28.5px;transform:scaleX(0.9863);transform-origin:0 0;"><u></u><span>ple in the future test set.</span></div>
<div class="t b" style="left:3036.90px;top:2225.70px;font-size:33.5px;transform:scaleX(1.0948);transform-origin:0 0;color:#87201f;"><u></u><span>Acknowledgments:</span></div>
<div class="t r" style="left:2599.60px;top:2276.70px;font-size:20.2px;transform:scaleX(0.9420);transform-origin:0 0;"><u></u><span>We are grateful to several anonymous reviewers for their comments which have helped us to improve this work.&nbsp; This work was supported in part by U.S.</span></div>
<div class="t r" style="left:2598.65px;top:2301.03px;font-size:20.2px;transform:scaleX(0.9541);transform-origin:0 0;"><u></u><span>Department Of Energy, Office of Science grant DE-SC0022255, U. S. Army Research Office grant W911NF-20-1-0334, and NSF grants #2134274 and</span></div>
<div class="t r" style="left:2599.60px;top:2325.36px;font-size:20.2px;transform:scaleX(0.9580);transform-origin:0 0;"><u></u><span>#2146343.&nbsp; R. Walters was supported by the Roux Institute and the Harold Alfond Foundation and NSF grants #2107256 and #2134178.&nbsp; This research</span></div>
<div class="t r" style="left:2598.67px;top:2349.69px;font-size:20.2px;transform:scaleX(0.9328);transform-origin:0 0;"><u></u><span>used resources of the National Energy Research Scientific Computing Center, a DOE Office of Science User Facility supported by the Office of Science of</span></div>
<div class="t r" style="left:2598.66px;top:2374.02px;font-size:20.2px;transform:scaleX(0.9378);transform-origin:0 0;"><u></u><span>the U.S. Department of Energy under Contract No.&nbsp; DE-AC02-05CH11231 using NERSC award ßASCR-ERCAP0022715.</span></div>
<div class="t sb" style="left:1383.53px;top:622.50px;font-size:23.5px;transform:scaleX(0.9836);transform-origin:0 0;"><u></u><span>Input</span></div>
<div class="t bi" style="left:1452.00px;top:622.50px;font-size:30px;transform:scaleX(1.0100);transform-origin:0 0;"><u></u><span>w</span></div>
<div class="t b" style="left:1471.24px;top:627.60px;font-size:21px;transform:scaleX(0.9818);transform-origin:0 0;"><u></u><span>1:<i>t</i></span></div>
<div class="t sb" style="left:1846.66px;top:528.20px;font-size:21.6px;transform:scaleX(1.0440);transform-origin:0 0;"><u></u><span>Forecaster Network</span></div>
<div class="t sb" style="left:1767.06px;top:788.00px;font-size:21.6px;transform:scaleX(1.0438);transform-origin:0 0;"><u></u><span>Encoder Network</span></div>
<div class="t sb" style="left:2340.55px;top:532.80px;font-size:21.6px;transform:scaleX(1.0500);transform-origin:0 0;"><u></u><span>Forecasts</span></div>
<div class="t bi" style="left:2463.10px;top:531.00px;font-size:30px;transform:scaleX(0.9400);transform-origin:0 0;"><u></u><span>w</span></div>
<div class="t b" style="left:2481.20px;top:536.50px;font-size:21px;transform:scaleX(1.1032);transform-origin:0 0;"><u></u><span><i>t</i>+1:<i>t</i>+<i>k</i></span></div>
<div class="t s" style="left:1675.60px;top:579.10px;font-size:19.2px;transform:scaleX(1.0224);transform-origin:0 0;"><u></u><span>AdaPad</span></div>
<div class="t s" style="left:1769.97px;top:579.10px;font-size:19.2px;transform:scaleX(1.0297);transform-origin:0 0;"><u></u><span>Conv2D(3x3)</span></div>
<div class="t s" style="left:1902.70px;top:579.10px;font-size:19.2px;transform:scaleX(1.0224);transform-origin:0 0;"><u></u><span>AdaPad</span></div>
<div class="t s" style="left:1989.57px;top:579.10px;font-size:19.2px;transform:scaleX(1.0315);transform-origin:0 0;"><u></u><span>Conv2D(3x3)</span></div>
<div class="t s" style="left:2165.10px;top:579.10px;font-size:19.2px;transform:scaleX(1.0288);transform-origin:0 0;"><u></u><span>AdaIN</span></div>
<div class="t s" style="left:2250.95px;top:641.30px;font-size:24px;transform:scaleX(1.1765);transform-origin:0 0;"><u></u><span>× N</span></div>
<div class="t s" style="left:1663.60px;top:814.00px;font-size:20px;transform:scaleX(1.0043);transform-origin:0 0;"><u></u><span>Conv3D</span></div>
<div class="t s" style="left:1667.00px;top:838.00px;font-size:20px;transform:scaleX(1.0000);transform-origin:0 0;"><u></u><span>(3x3x3)</span></div>
<div class="t s" style="left:1738.37px;top:833.40px;font-size:20px;transform:scaleX(1.0143);transform-origin:0 0;"><u></u><span>Pooling</span></div>
<div class="t s" style="left:1812.00px;top:822.00px;font-size:17px;transform:scaleX(0.9983);transform-origin:0 0;"><u></u><span>Conv3D</span></div>
<div class="t s" style="left:1814.60px;top:842.30px;font-size:17px;transform:scaleX(0.9982);transform-origin:0 0;"><u></u><span>(3x3x3)</span></div>
<div class="t s" style="left:1879.11px;top:832.20px;font-size:17px;transform:scaleX(0.9891);transform-origin:0 0;"><u></u><span>Pooling</span></div>
<div class="t s" style="left:1942.20px;top:830.50px;font-size:15.6px;transform:scaleX(0.9982);transform-origin:0 0;"><u></u><span>Conv3D</span></div>
<div class="t s" style="left:1944.80px;top:848.70px;font-size:15.6px;transform:scaleX(1.0000);transform-origin:0 0;"><u></u><span>(3x3x3)</span></div>
<div class="t s" style="left:2007.79px;top:840.90px;font-size:15.6px;transform:scaleX(1.0120);transform-origin:0 0;"><u></u><span>Pooling</span></div>
<div class="t s" style="left:2064.18px;top:838.60px;font-size:12.6px;transform:scaleX(1.0182);transform-origin:0 0;"><u></u><span>Conv3D</span></div>
<div class="t s" style="left:2066.18px;top:853.90px;font-size:12.6px;transform:scaleX(1.0200);transform-origin:0 0;"><u></u><span>(3x3x3)</span></div>
<div class="t bi" style="left:2190.21px;top:865.20px;font-size:36px;transform:scaleX(1.1133);transform-origin:0 0;"><u></u><span>z</span></div>
<div class="t bi" style="left:2206.00px;top:872.00px;font-size:27px;transform:scaleX(1.1455);transform-origin:0 0;"><u></u><span>c</span></div>
<div class="t sb" style="left:2254.33px;top:813.20px;font-size:21.8px;transform:scaleX(1.0704);transform-origin:0 0;"><u></u><span>FC</span></div>
<div class="t b" style="left:2341.60px;top:824.70px;font-size:27px;transform:scaleX(1.0906);transform-origin:0 0;"><u></u><span><i>c</i> = 5</span></div>
<div class="t b" style="left:2337.80px;top:906.60px;font-size:27px;transform:scaleX(1.1060);transform-origin:0 0;"><u></u><span><i>c</i> = 25</span></div>
<div class="t s" style="left:980.71px;top:1959.50px;font-size:39.8px;transform:scaleX(0.9903);transform-origin:0 0;"><u></u><span>time</span></div>
<div class="t sb" style="left:606.15px;top:2053.30px;font-size:42px;transform:scaleX(1.0762);transform-origin:0 0;color:#a50f0f;"><u></u><span>?</span></div>
<div class="t r" style="left:1346.50px;top:2211.40px;font-size:28.6px;transform:scaleX(1.0488);transform-origin:0 0;"><u></u><span><b>Proposition 2.1.</b>&nbsp; <i>Assume the forecaster c</i> <span class="dv" style="font-size:.8em">↦</span> <i>f<sub>θ</sub></i>(·, <i>c</i>) <i>is Lipschitz continuous with Lipschitz constant</i></span></div>
<div class="t r" style="left:1345.29px;top:2250.20px;font-size:28.6px;transform:scaleX(1.2053);transform-origin:0 0;"><u></u><span><i>γ uniformly in θ and l</i> ≤ 1/2.&nbsp; <i>Let λ<sub>c</sub></i> = min<sub><i>f</i>∈<span class="cal">ℱ</span></sub>(<i>ϵ<sub>c</sub></i>(<i>f</i>) + 1/<i>K</i> ∑<span class="lim"><span class="lu"><i>K</i></span><span class="ll"><i>k</i>=1</span></span><i>ϵ<sub>c<span class="ss" style="top:.2em">k</span></sub></i>(<i>f</i>)).&nbsp; <i>For large n and</i></span></div>
<div class="t r" style="left:1348.67px;top:2281.70px;font-size:28.6px;transform:scaleX(1.0860);transform-origin:0 0;"><u></u><span><i>probability</i> ≥ 1 − <i>δ</i>,</span></div>
<div class="t sb" style="left:1352.60px;top:2523.60px;font-size:25.8px;transform:scaleX(1.0566);transform-origin:0 0;color:#5b8fdf;"><u></u><span>Total Errors</span></div>
<div class="t sb" style="left:1507.68px;top:2559.70px;font-size:25.8px;transform:scaleX(1.0579);transform-origin:0 0;color:#5b8fdf;"><u></u><span>Encoder Error</span></div>
<div class="t sb" style="left:1743.46px;top:2563.90px;font-size:25.8px;transform:scaleX(1.0690);transform-origin:0 0;color:#5b8fdf;"><u></u><span>Forecaster Error</span></div>
<div class="t sb" style="left:2088.10px;top:2563.90px;font-size:25.8px;transform:scaleX(1.0480);transform-origin:0 0;color:#5b8fdf;"><u></u><span>Distance Between Tasks</span></div>
<div class="t i" style="left:1352.30px;top:2368.00px;font-size:31px;transform:scaleX(1.0952);transform-origin:0 0;"><u></u><span>ϵ<sub class="cal">𝒳</sub><span class="r">(</span>f<sub>θ</sub><span class="r">(·,</span>g<sub>ϕ</sub><span class="r">(·)))</span></span></div>
<div class="t r" style="left:1547.15px;top:2368.00px;font-size:31px;transform:scaleX(1.2533);transform-origin:0 0;"><u></u><span>≤</span></div>
<div class="t i" style="left:1577.14px;top:2368.00px;font-size:31px;transform:scaleX(1.0578);transform-origin:0 0;"><u></u><span>γ<span class="hat">ϵ<span>ˆ</span></span><sub class="m" style="font-style:normal">enc</sub><span class="r">(</span>g<sub>ϕ</sub><span class="r">)</span></span></div>
<div class="t r" style="left:1699.91px;top:2368.00px;font-size:31px;transform:scaleX(1.4429);transform-origin:0 0;"><u></u><span>+</span></div>
<div class="t r" style="left:1738.20px;top:2354.70px;font-size:30.38px;"><u></u><span>1</span></div>
<div class="t i" style="left:1735.50px;top:2387.90px;font-size:31px;transform:scaleX(1.1136);transform-origin:0 0;"><u></u><span>K</span></div>
<div class="t r" style="left:1769.93px;top:2372.90px;font-size:50.7px;transform:scaleX(1.3333);transform-origin:0 0;"><u></u><span>∑</span></div>
<div class="t i" style="left:1785.00px;top:2330.50px;font-size:21px;transform:scaleX(1.0133);transform-origin:0 0;"><u></u><span>K</span></div>
<div class="t i" style="left:1770.44px;top:2403.60px;font-size:21px;transform:scaleX(1.3586);transform-origin:0 0;"><u></u><span>k<span class="r">=1</span></span></div>
<div class="t i" style="left:1818.33px;top:2368.00px;font-size:31px;transform:scaleX(1.1716);transform-origin:0 0;"><u></u><span><span class="hat">ϵ<span>ˆ</span></span><sub>c<span class="ss" style="top:.25em">k</span></sub><span class="r">(</span>f<sub>θ</sub><span class="r">(·, </span>c<sub>k</sub><span class="r">))</span></span></div>
<div class="t r" style="left:1984.84px;top:2368.00px;font-size:31px;transform:scaleX(1.3786);transform-origin:0 0;"><u></u><span>+</span></div>
<div class="t i" style="left:2013.44px;top:2368.00px;font-size:31px;transform:scaleX(1.0186);transform-origin:0 0;"><u></u><span><span class="dv" style="font-style:normal;font-size:.9em">𝔼</span><sub>c<span class="r">∼</span><span class="cal">𝒞</span></sub></span></div>
<div class="t i" style="left:2099.66px;top:2368.00px;font-size:31px;transform:scaleX(1.1697);transform-origin:0 0;"><u></u><span>W<sub class="r">1</sub></span></div>
<div class="t i" style="left:2172.30px;top:2368.00px;font-size:31px;transform:scaleX(1.1129);transform-origin:0 0;"><u></u><span><span class="hat">μ<span>ˆ</span></span><sub>c</sub><span class="r">,</span></span></div>
<div class="t r" style="left:2223.30px;top:2354.70px;font-size:30.38px;"><u></u><span>1</span></div>
<div class="t i" style="left:2219.50px;top:2387.90px;font-size:31px;transform:scaleX(1.1136);transform-origin:0 0;"><u></u><span>K</span></div>
<div class="t r" style="left:2253.25px;top:2372.90px;font-size:50.7px;transform:scaleX(1.3233);transform-origin:0 0;"><u></u><span>∑</span></div>
<div class="t i" style="left:2268.00px;top:2330.50px;font-size:21px;transform:scaleX(1.0333);transform-origin:0 0;"><u></u><span>K</span></div>
<div class="t i" style="left:2253.60px;top:2403.60px;font-size:21px;transform:scaleX(1.4000);transform-origin:0 0;"><u></u><span>k<span class="r">=1</span></span></div>
<div class="t i" style="left:2302.80px;top:2368.00px;font-size:31px;transform:scaleX(1.2567);transform-origin:0 0;"><u></u><span><span class="hat">μ<span>ˆ</span></span><sub>c<span class="ss" style="top:.25em">k</span></sub></span></div>
<div class="t r" style="left:2373.53px;top:2368.00px;font-size:31px;transform:scaleX(1.4357);transform-origin:0 0;"><u></u><span>+</span></div>
<div class="t i" style="left:2407.77px;top:2368.00px;font-size:31px;transform:scaleX(1.0708);transform-origin:0 0;"><u></u><span>λ<sub>c</sub></span></div>
<div class="t i" style="left:1429.77px;top:2452.70px;font-size:31px;transform:scaleX(1.1162);transform-origin:0 0;"><u></u><span><span class="r">+2</span>γR<span class="r">(</span><span class="cal">𝒢</span><span class="r">)</span></span></div>
<div class="t r" style="left:1554.54px;top:2452.70px;font-size:31px;transform:scaleX(1.4786);transform-origin:0 0;"><u></u><span>+</span></div>
<div class="t i" style="left:1586.78px;top:2452.70px;font-size:31px;transform:scaleX(1.0222);transform-origin:0 0;"><u></u><span><span class="r">2</span>R<span class="r">(</span><span class="cal">ℱ</span><span class="r">)</span></span></div>
<div class="t r" style="left:1677.24px;top:2452.70px;font-size:31px;transform:scaleX(1.4786);transform-origin:0 0;"><u></u><span>+</span></div>
<div class="t i" style="left:1709.50px;top:2452.70px;font-size:31px;transform:scaleX(1.0987);transform-origin:0 0;"><u></u><span><span class="r">(</span>γ <span class="r">+ 1)</span></span></div>
<div class="t i" style="left:1829.36px;top:2452.70px;font-size:31px;transform:scaleX(1.1356);transform-origin:0 0;"><u></u><span><span class="r">log(1/</span>δ<span class="r">)/(2</span>nK<span class="r">)</span></span></div>
<div class="t r" style="left:2037.54px;top:2452.70px;font-size:31px;transform:scaleX(1.4786);transform-origin:0 0;"><u></u><span>+</span></div>
<div class="t i" style="left:2099.58px;top:2452.70px;font-size:31px;transform:scaleX(1.0183);transform-origin:0 0;"><u></u><span><span class="r">2 log(1/</span>δ<span class="r">)</span></span></div>
<div class="t i" style="left:2273.58px;top:2452.70px;font-size:31px;transform:scaleX(1.3057);transform-origin:0 0;"><u></u><span><span class="r">1/</span>n</span></div>
<div class="t r" style="left:2327.94px;top:2452.70px;font-size:31px;transform:scaleX(1.4786);transform-origin:0 0;"><u></u><span>+</span></div>
<div class="t i" style="left:2386.44px;top:2452.70px;font-size:31px;transform:scaleX(1.2532);transform-origin:0 0;"><u></u><span><span class="r">1/(</span>nK<span class="r">)</span></span></div>
<div class="t r" style="left:2510.90px;top:2452.70px;font-size:31px;"><u></u><span>.</span></div>
<div class="t bi" style="left:2322.90px;top:1811.50px;font-size:25px;"><u></u><span>x</span></div>
<div class="t bi" style="left:2321.20px;top:2143.70px;font-size:25px;"><u></u><span>y</span></div>
<div class="t bi" style="left:2459.10px;top:1810.60px;font-size:25px;"><u></u><span>z</span></div>
<div class="t r" style="left:2451.37px;top:1889.90px;font-size:22.5px;transform:scaleX(0.9280);transform-origin:0 0;"><u></u><span>FC</span></div>
</body></html>
